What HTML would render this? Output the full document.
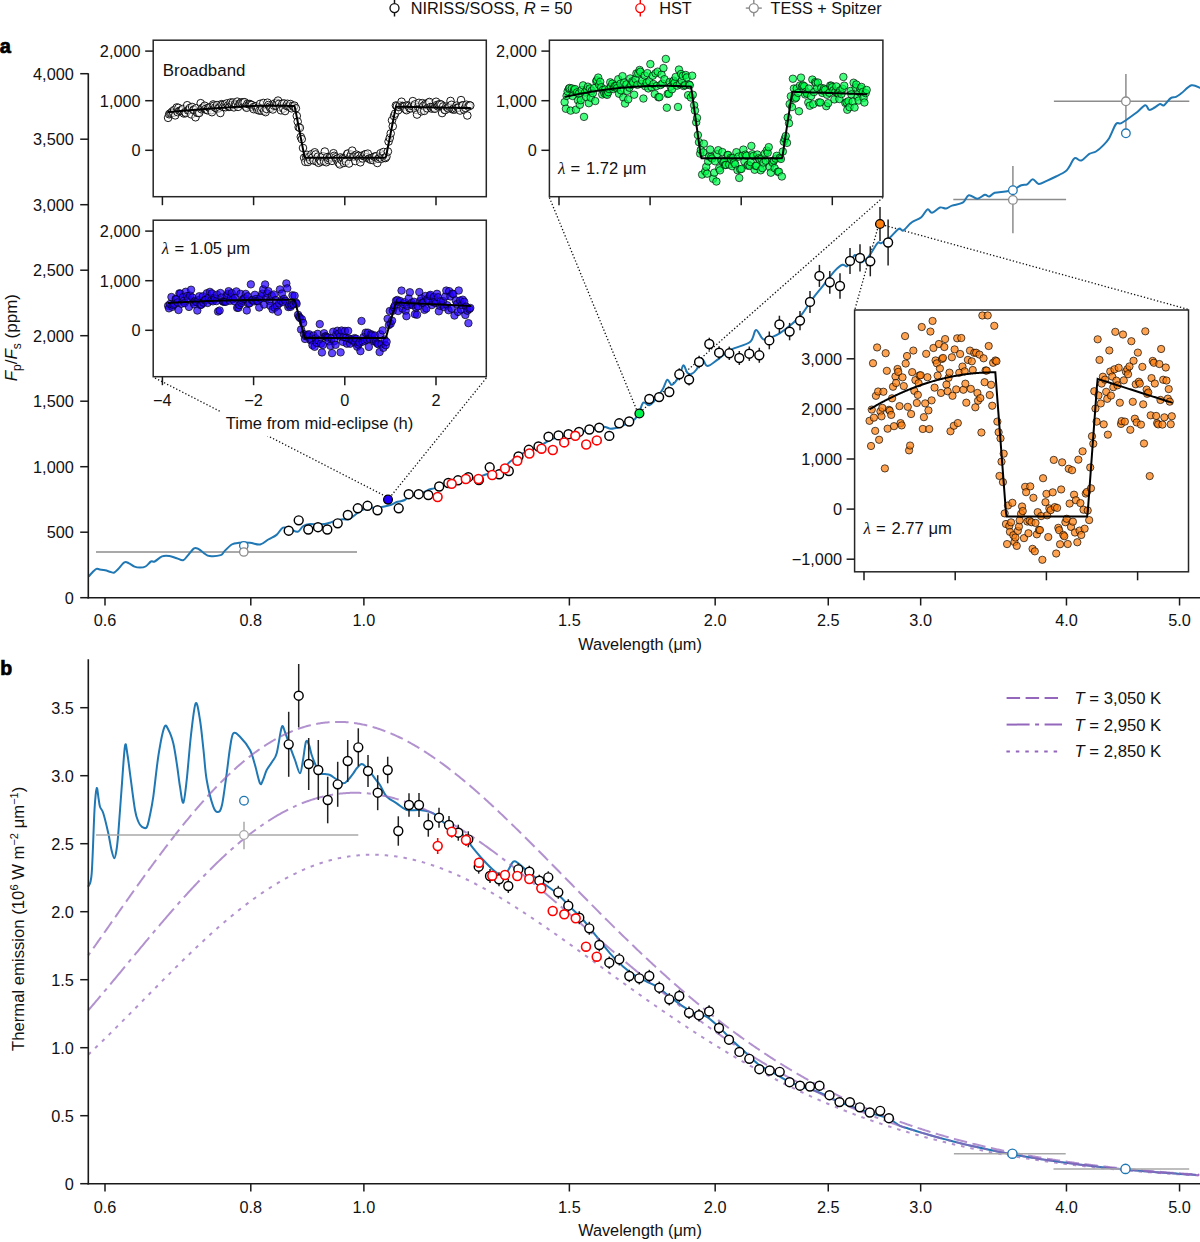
<!DOCTYPE html><html><head><meta charset="utf-8"><style>html,body{margin:0;padding:0;background:#fff;}svg{display:block;}</style></head><body><svg width="1200" height="1242" viewBox="0 0 1200 1242" font-family='"Liberation Sans", sans-serif'>
<rect width="1200" height="1242" fill="#fff"/>
<line x1="394.5" y1="-0.9" x2="394.5" y2="16.5" stroke="#111" stroke-width="1.45" />
<circle cx="394.5" cy="8.1" r="4.5" stroke="#111" fill="#fff" stroke-width="1.35" />
<text x="410.8" y="14.3" font-size="16.3" text-anchor="start" font-weight="normal" fill="#111" >NIRISS/SOSS, <tspan font-style="italic">R</tspan> = 50</text>
<line x1="640.3" y1="-0.9" x2="640.3" y2="16.5" stroke="#ff0000" stroke-width="1.45" />
<circle cx="640.3" cy="8.1" r="4.5" stroke="#ff0000" fill="#fff" stroke-width="1.35" />
<text x="659.2" y="14.3" font-size="16.3" text-anchor="start" font-weight="normal" fill="#111" >HST</text>
<line x1="753.8" y1="-0.9" x2="753.8" y2="16.5" stroke="#8c8c8c" stroke-width="1.45" />
<line x1="745.8" y1="8.1" x2="761.8" y2="8.1" stroke="#8c8c8c" stroke-width="1.45" />
<circle cx="753.8" cy="8.1" r="4.5" stroke="#8c8c8c" fill="#fff" stroke-width="1.35" />
<text x="770.5" y="14.3" font-size="16.2" text-anchor="start" font-weight="normal" fill="#111" >TESS + Spitzer</text>
<text x="-0.2" y="53.1" font-size="20" text-anchor="start" font-weight="bold" fill="#000" stroke="#000" stroke-width="0.7">a</text>
<text x="0.2" y="675.1" font-size="19.5" text-anchor="start" font-weight="bold" fill="#000" stroke="#000" stroke-width="0.7">b</text>
<line x1="155" y1="378" x2="386" y2="496.5" stroke="#111" stroke-width="1.3" stroke-dasharray="1.3 2.1"/>
<line x1="486.3" y1="378" x2="391" y2="496" stroke="#111" stroke-width="1.3" stroke-dasharray="1.3 2.1"/>
<line x1="549.4" y1="197.5" x2="636.5" y2="409.5" stroke="#111" stroke-width="1.3" stroke-dasharray="1.3 2.1"/>
<line x1="882.9" y1="197.5" x2="642.5" y2="410" stroke="#111" stroke-width="1.3" stroke-dasharray="1.3 2.1"/>
<line x1="877.5" y1="229" x2="855" y2="309" stroke="#111" stroke-width="1.3" stroke-dasharray="1.3 2.1"/>
<line x1="885" y1="225.5" x2="1188.5" y2="309.5" stroke="#111" stroke-width="1.3" stroke-dasharray="1.3 2.1"/>
<line x1="96" y1="552" x2="357" y2="552" stroke="#8c8c8c" stroke-width="1.5" />
<line x1="953.3" y1="199.6" x2="1066.1" y2="199.6" stroke="#8c8c8c" stroke-width="1.5" />
<line x1="1012.9" y1="166.1" x2="1012.9" y2="233.3" stroke="#8c8c8c" stroke-width="1.5" />
<line x1="1053.9" y1="101.3" x2="1189.3" y2="101.3" stroke="#8c8c8c" stroke-width="1.5" />
<line x1="1125.9" y1="73.9" x2="1125.9" y2="129.3" stroke="#8c8c8c" stroke-width="1.5" />
<path d="M88.7 576.5 C89.3 575.83 91.02 573.78 92.3 572.5 C93.58 571.22 95.17 569.32 96.4 568.8 C97.63 568.28 98.23 569.15 99.7 569.4 C101.17 569.65 103.37 569.87 105.2 570.3 C107.03 570.73 109.18 571.63 110.7 572 C112.22 572.37 113.08 572.97 114.3 572.5 C115.52 572.03 116.32 570.88 118 569.2 C119.68 567.52 122.57 563.38 124.4 562.4 C126.23 561.42 127.32 562.6 129 563.3 C130.68 564 132.67 565.88 134.5 566.6 C136.33 567.32 138.17 567.62 140 567.6 C141.83 567.58 143.67 567.52 145.5 566.5 C147.33 565.48 149.47 562.33 151 561.5 C152.53 560.67 152.87 562.35 154.7 561.5 C156.53 560.65 159.57 557.32 162 556.4 C164.43 555.48 166.85 555.7 169.3 556 C171.75 556.3 174.4 557.5 176.7 558.2 C179 558.9 181.27 560.63 183.1 560.2 C184.93 559.77 185.87 557.58 187.7 555.6 C189.53 553.62 192.27 549.37 194.1 548.3 C195.93 547.23 197.02 548.37 198.7 549.2 C200.38 550.03 202.37 552.17 204.2 553.3 C206.03 554.43 206.95 555.7 209.7 556 C212.45 556.3 218.27 555.87 220.7 555.1 C223.13 554.33 222.47 553.17 224.3 551.4 C226.13 549.63 229.25 545.93 231.7 544.5 C234.15 543.07 235.95 543.08 239 542.8 C242.05 542.52 246.48 542.52 250 542.8 C253.52 543.08 257.05 545.05 260.1 544.5 C263.15 543.95 265.55 541.1 268.3 539.5 C271.05 537.9 274.15 536.88 276.6 534.9 C279.05 532.92 280.72 528.57 283 527.6 C285.28 526.63 287.85 528.4 290.3 529.1 C292.75 529.8 295.53 532.32 297.7 531.8 C299.87 531.28 301.25 527.3 303.3 526 C305.35 524.7 307.72 524.25 310 524 C312.28 523.75 314.55 524.5 317 524.5 C319.45 524.5 322.53 524.3 324.7 524 C326.87 523.7 328.23 523.25 330 522.7 C331.77 522.15 333.08 521.27 335.3 520.7 C337.52 520.13 341.07 519.53 343.3 519.3 C345.53 519.07 346.7 520.07 348.7 519.3 C350.7 518.53 353.08 516.25 355.3 514.7 C357.52 513.15 359.55 511.12 362 510 C364.45 508.88 367.55 508.45 370 508 C372.45 507.55 374.48 507.52 376.7 507.3 C378.92 507.08 380.87 507.13 383.3 506.7 C385.73 506.27 389.07 505.48 391.3 504.7 C393.53 503.92 395.13 502.57 396.7 502 C398.27 501.43 399.37 501.63 400.7 501.3 C402.03 500.97 403.6 500.55 404.7 500 C405.8 499.45 405.58 498.83 407.3 498 C409.02 497.17 412.55 495.83 415 495 C417.45 494.17 419.5 493.95 422 493 C424.5 492.05 428 490.07 430 489.3 C432 488.53 432 488.95 434 488.4 C436 487.85 439.33 486.73 442 486 C444.67 485.27 447 484.83 450 484 C453 483.17 456.67 481.83 460 481 C463.33 480.17 467 479.67 470 479 C473 478.33 475.22 477.8 478 477 C480.78 476.2 483.87 475.03 486.7 474.2 C489.53 473.37 492.28 472.87 495 472 C497.72 471.13 500.5 470.72 503 469 C505.5 467.28 507.17 464.03 510 461.7 C512.83 459.37 516.67 456.95 520 455 C523.33 453.05 526.67 451.5 530 450 C533.33 448.5 536.67 447.67 540 446 C543.33 444.33 546.67 441.5 550 440 C553.33 438.5 556.67 438 560 437 C563.33 436 566.67 434.83 570 434 C573.33 433.17 576.67 432.67 580 432 C583.33 431.33 586.12 430.88 590 430 C593.88 429.12 599.83 426.92 603.3 426.7 C606.77 426.48 608.02 428.7 610.8 428.7 C613.58 428.7 617.13 427.65 620 426.7 C622.87 425.75 625.5 424.28 628 423 C630.5 421.72 633.12 420.83 635 419 C636.88 417.17 637.92 414.72 639.3 412 C640.68 409.28 641.63 403.82 643.3 402.7 C644.97 401.58 647.52 405.53 649.3 405.3 C651.08 405.07 651.77 403.97 654 401.3 C656.23 398.63 660.48 392.9 662.7 389.3 C664.92 385.7 665.75 380.47 667.3 379.7 C668.85 378.93 670 385.32 672 384.7 C674 384.08 677.42 379.23 679.3 376 C681.18 372.77 681.97 365.85 683.3 365.3 C684.63 364.75 685.97 371.25 687.3 372.7 C688.63 374.15 689.73 374.57 691.3 374 C692.87 373.43 694.92 371.85 696.7 369.3 C698.48 366.75 700.23 359.25 702 358.7 C703.77 358.15 704.63 365.9 707.3 366 C709.97 366.1 714 362.03 718 359.3 C722 356.57 725.97 352.48 731.3 349.6 C736.63 346.72 745.88 345.27 750 342 C754.12 338.73 753.78 330.45 756 330 C758.22 329.55 760.55 338.15 763.3 339.3 C766.05 340.45 769.72 337.93 772.5 336.9 C775.28 335.87 777.08 334.98 780 333.1 C782.92 331.22 786.45 328.62 790 325.6 C793.55 322.58 797.55 319.47 801.3 315 C805.05 310.53 808.97 303.58 812.5 298.8 C816.03 294.02 818.75 291 822.5 286.3 C826.25 281.6 831.67 274.18 835 270.6 C838.33 267.02 840.42 265.57 842.5 264.8 C844.58 264.03 845.42 267.63 847.5 266 C849.58 264.37 852.92 255.58 855 255 C857.08 254.42 857.7 262.28 860 262.5 C862.3 262.72 865.88 259.53 868.8 256.3 C871.72 253.07 875.42 245.3 877.5 243.1 C879.58 240.9 879.22 244.03 881.3 243.1 C883.38 242.17 887.08 239.88 890 237.5 C892.92 235.12 896.62 229.95 898.8 228.8 C900.98 227.65 901.23 231.43 903.1 230.6 C904.97 229.77 908.3 225.35 910 223.8 C911.7 222.25 911.42 222.38 913.3 221.3 C915.18 220.22 918.93 219.3 921.3 217.3 C923.67 215.3 925.72 210.05 927.5 209.3 C929.28 208.55 929.92 213.1 932 212.8 C934.08 212.5 937.65 208.22 940 207.5 C942.35 206.78 944.1 208.82 946.1 208.5 C948.1 208.18 949.23 206.57 952 205.6 C954.77 204.63 959.9 204.43 962.7 202.7 C965.5 200.97 966.37 195.87 968.8 195.2 C971.23 194.53 974.63 198.78 977.3 198.7 C979.97 198.62 982.8 195.07 984.8 194.7 C986.8 194.33 987.65 196.82 989.3 196.5 C990.95 196.18 992.03 193.63 994.7 192.8 C997.37 191.97 1002.28 191.98 1005.3 191.5 C1008.32 191.02 1010.13 190.93 1012.8 189.9 C1015.47 188.87 1018.9 186.23 1021.3 185.3 C1023.7 184.37 1025.28 185.32 1027.2 184.3 C1029.12 183.28 1030.88 179.25 1032.8 179.2 C1034.72 179.15 1036.38 183.73 1038.7 184 C1041.02 184.27 1043.82 182.05 1046.7 180.8 C1049.58 179.55 1052.9 178.05 1056 176.5 C1059.1 174.95 1063.08 173.13 1065.3 171.5 C1067.52 169.87 1067.73 168.93 1069.3 166.7 C1070.87 164.47 1072.7 159.13 1074.7 158.1 C1076.7 157.07 1078.87 161.2 1081.3 160.5 C1083.73 159.8 1086.85 155.4 1089.3 153.9 C1091.75 152.4 1093.77 152.83 1096 151.5 C1098.23 150.17 1100.48 148.17 1102.7 145.9 C1104.92 143.63 1107.08 141.55 1109.3 137.9 C1111.52 134.25 1114 126.45 1116 124 C1118 121.55 1118.85 124.4 1121.3 123.2 C1123.75 122 1128.03 118.67 1130.7 116.8 C1133.37 114.93 1134.87 113.92 1137.3 112 C1139.73 110.08 1143.3 105.65 1145.3 105.3 C1147.3 104.95 1147.73 109.53 1149.3 109.9 C1150.87 110.27 1152.92 108.48 1154.7 107.5 C1156.48 106.52 1158.45 104.37 1160 104 C1161.55 103.63 1162.22 106.28 1164 105.3 C1165.78 104.32 1168.7 99.52 1170.7 98.1 C1172.7 96.68 1174.23 97.6 1176 96.8 C1177.77 96 1178.72 95.22 1181.3 93.3 C1183.88 91.38 1188.38 86.18 1191.5 85.3 C1194.62 84.42 1198.58 87.55 1200 88" fill="none" stroke="#1f77b4" stroke-width="2" stroke-linejoin="round"/>
<circle cx="243.8" cy="545.8" r="4.2" stroke="#1f77b4" fill="#fff" stroke-width="1.3" />
<circle cx="243.8" cy="552" r="4.2" stroke="#8c8c8c" fill="#fff" stroke-width="1.3" />
<circle cx="1012.9" cy="199.9" r="4.3" stroke="#8c8c8c" fill="#fff" stroke-width="1.3" />
<circle cx="1012.9" cy="190.2" r="4.3" stroke="#1f77b4" fill="#fff" stroke-width="1.3" />
<circle cx="1125.9" cy="101.3" r="4.3" stroke="#8c8c8c" fill="#fff" stroke-width="1.3" />
<circle cx="1125.9" cy="133.3" r="4.3" stroke="#1f77b4" fill="#fff" stroke-width="1.3" />
<line x1="649.3" y1="394.5" x2="649.3" y2="403.5" stroke="#222" stroke-width="1.5" />
<line x1="659.1" y1="392.1" x2="659.1" y2="402.1" stroke="#222" stroke-width="1.5" />
<line x1="669.3" y1="387" x2="669.3" y2="397" stroke="#222" stroke-width="1.5" />
<line x1="679.3" y1="368.3" x2="679.3" y2="380.3" stroke="#222" stroke-width="1.5" />
<line x1="689.1" y1="373.6" x2="689.1" y2="385.6" stroke="#222" stroke-width="1.5" />
<line x1="699.1" y1="355.8" x2="699.1" y2="368.2" stroke="#222" stroke-width="1.5" />
<line x1="709.3" y1="337.7" x2="709.3" y2="350.3" stroke="#222" stroke-width="1.5" />
<line x1="719.1" y1="346.2" x2="719.1" y2="359.2" stroke="#222" stroke-width="1.5" />
<line x1="729.3" y1="346.6" x2="729.3" y2="360" stroke="#222" stroke-width="1.5" />
<line x1="739.3" y1="351" x2="739.3" y2="365" stroke="#222" stroke-width="1.5" />
<line x1="749.3" y1="346.5" x2="749.3" y2="360.9" stroke="#222" stroke-width="1.5" />
<line x1="759.3" y1="347.8" x2="759.3" y2="362.8" stroke="#222" stroke-width="1.5" />
<line x1="769.3" y1="331.5" x2="769.3" y2="349.3" stroke="#222" stroke-width="1.5" />
<line x1="779.4" y1="315.7" x2="779.4" y2="333.1" stroke="#222" stroke-width="1.5" />
<line x1="789.6" y1="322.9" x2="789.6" y2="340.3" stroke="#222" stroke-width="1.5" />
<line x1="800" y1="311" x2="800" y2="330.2" stroke="#222" stroke-width="1.5" />
<line x1="810" y1="290.9" x2="810" y2="312.9" stroke="#222" stroke-width="1.5" />
<line x1="819.4" y1="264.9" x2="819.4" y2="286.9" stroke="#222" stroke-width="1.5" />
<line x1="829.8" y1="270.9" x2="829.8" y2="293.7" stroke="#222" stroke-width="1.5" />
<line x1="840" y1="273.2" x2="840" y2="298.8" stroke="#222" stroke-width="1.5" />
<line x1="850" y1="247.9" x2="850" y2="273.9" stroke="#222" stroke-width="1.5" />
<line x1="860" y1="244.2" x2="860" y2="271.6" stroke="#222" stroke-width="1.5" />
<line x1="870.3" y1="246.3" x2="870.3" y2="276.3" stroke="#222" stroke-width="1.5" />
<line x1="880" y1="207" x2="880" y2="241" stroke="#222" stroke-width="1.5" />
<line x1="888.1" y1="219.5" x2="888.1" y2="265.5" stroke="#222" stroke-width="1.5" />
<circle cx="288.7" cy="530.7" r="4.45" stroke="#000" fill="#fff" stroke-width="1.45" />
<circle cx="298.7" cy="520.3" r="4.45" stroke="#000" fill="#fff" stroke-width="1.45" />
<circle cx="308.3" cy="529.5" r="4.45" stroke="#000" fill="#fff" stroke-width="1.45" />
<circle cx="318" cy="527.2" r="4.45" stroke="#000" fill="#fff" stroke-width="1.45" />
<circle cx="327.3" cy="529.5" r="4.45" stroke="#000" fill="#fff" stroke-width="1.45" />
<circle cx="337.7" cy="523.3" r="4.45" stroke="#000" fill="#fff" stroke-width="1.45" />
<circle cx="347.8" cy="515" r="4.45" stroke="#000" fill="#fff" stroke-width="1.45" />
<circle cx="357.8" cy="508.3" r="4.45" stroke="#000" fill="#fff" stroke-width="1.45" />
<circle cx="367.5" cy="505.8" r="4.45" stroke="#000" fill="#fff" stroke-width="1.45" />
<circle cx="377.5" cy="510.3" r="4.45" stroke="#000" fill="#fff" stroke-width="1.45" />
<circle cx="388" cy="499.6" r="4.4" stroke="#000" fill="#2200ff" stroke-width="1.3" />
<circle cx="398.7" cy="508.3" r="4.45" stroke="#000" fill="#fff" stroke-width="1.45" />
<circle cx="408.7" cy="494.2" r="4.45" stroke="#000" fill="#fff" stroke-width="1.45" />
<circle cx="418.7" cy="494.2" r="4.45" stroke="#000" fill="#fff" stroke-width="1.45" />
<circle cx="428.3" cy="495" r="4.45" stroke="#000" fill="#fff" stroke-width="1.45" />
<circle cx="439.2" cy="486.5" r="4.45" stroke="#000" fill="#fff" stroke-width="1.45" />
<circle cx="448.3" cy="483" r="4.45" stroke="#000" fill="#fff" stroke-width="1.45" />
<circle cx="458" cy="480.3" r="4.45" stroke="#000" fill="#fff" stroke-width="1.45" />
<circle cx="468.3" cy="477.2" r="4.45" stroke="#000" fill="#fff" stroke-width="1.45" />
<circle cx="478.9" cy="480" r="4.45" stroke="#000" fill="#fff" stroke-width="1.45" />
<circle cx="489.7" cy="467.3" r="4.45" stroke="#000" fill="#fff" stroke-width="1.45" />
<circle cx="499.2" cy="474.3" r="4.45" stroke="#000" fill="#fff" stroke-width="1.45" />
<circle cx="508.8" cy="471" r="4.45" stroke="#000" fill="#fff" stroke-width="1.45" />
<circle cx="518.5" cy="456.5" r="4.45" stroke="#000" fill="#fff" stroke-width="1.45" />
<circle cx="528.8" cy="449.8" r="4.45" stroke="#000" fill="#fff" stroke-width="1.45" />
<circle cx="538.5" cy="446.5" r="4.45" stroke="#000" fill="#fff" stroke-width="1.45" />
<circle cx="548.5" cy="436.7" r="4.45" stroke="#000" fill="#fff" stroke-width="1.45" />
<circle cx="558.5" cy="435.4" r="4.45" stroke="#000" fill="#fff" stroke-width="1.45" />
<circle cx="568.5" cy="434.2" r="4.45" stroke="#000" fill="#fff" stroke-width="1.45" />
<circle cx="579" cy="431.9" r="4.45" stroke="#000" fill="#fff" stroke-width="1.45" />
<circle cx="589.4" cy="429.5" r="4.45" stroke="#000" fill="#fff" stroke-width="1.45" />
<circle cx="599.2" cy="427.6" r="4.45" stroke="#000" fill="#fff" stroke-width="1.45" />
<circle cx="609.3" cy="435.9" r="4.45" stroke="#000" fill="#fff" stroke-width="1.45" />
<circle cx="619.2" cy="423.3" r="4.45" stroke="#000" fill="#fff" stroke-width="1.45" />
<circle cx="629.2" cy="421.5" r="4.45" stroke="#000" fill="#fff" stroke-width="1.45" />
<circle cx="639.4" cy="413.5" r="4.4" stroke="#000" fill="#00f54c" stroke-width="1.3" />
<circle cx="649.3" cy="399" r="4.45" stroke="#000" fill="#fff" stroke-width="1.45" />
<circle cx="659.1" cy="397.1" r="4.45" stroke="#000" fill="#fff" stroke-width="1.45" />
<circle cx="669.3" cy="392" r="4.45" stroke="#000" fill="#fff" stroke-width="1.45" />
<circle cx="679.3" cy="374.3" r="4.45" stroke="#000" fill="#fff" stroke-width="1.45" />
<circle cx="689.1" cy="379.6" r="4.45" stroke="#000" fill="#fff" stroke-width="1.45" />
<circle cx="699.1" cy="362" r="4.45" stroke="#000" fill="#fff" stroke-width="1.45" />
<circle cx="709.3" cy="344" r="4.45" stroke="#000" fill="#fff" stroke-width="1.45" />
<circle cx="719.1" cy="352.7" r="4.45" stroke="#000" fill="#fff" stroke-width="1.45" />
<circle cx="729.3" cy="353.3" r="4.45" stroke="#000" fill="#fff" stroke-width="1.45" />
<circle cx="739.3" cy="358" r="4.45" stroke="#000" fill="#fff" stroke-width="1.45" />
<circle cx="749.3" cy="353.7" r="4.45" stroke="#000" fill="#fff" stroke-width="1.45" />
<circle cx="759.3" cy="355.3" r="4.45" stroke="#000" fill="#fff" stroke-width="1.45" />
<circle cx="769.3" cy="340.4" r="4.45" stroke="#000" fill="#fff" stroke-width="1.45" />
<circle cx="779.4" cy="324.4" r="4.45" stroke="#000" fill="#fff" stroke-width="1.45" />
<circle cx="789.6" cy="331.6" r="4.45" stroke="#000" fill="#fff" stroke-width="1.45" />
<circle cx="800" cy="320.6" r="4.45" stroke="#000" fill="#fff" stroke-width="1.45" />
<circle cx="810" cy="301.9" r="4.45" stroke="#000" fill="#fff" stroke-width="1.45" />
<circle cx="819.4" cy="275.9" r="4.45" stroke="#000" fill="#fff" stroke-width="1.45" />
<circle cx="829.8" cy="282.3" r="4.45" stroke="#000" fill="#fff" stroke-width="1.45" />
<circle cx="840" cy="286" r="4.45" stroke="#000" fill="#fff" stroke-width="1.45" />
<circle cx="850" cy="260.9" r="4.45" stroke="#000" fill="#fff" stroke-width="1.45" />
<circle cx="860" cy="257.9" r="4.45" stroke="#000" fill="#fff" stroke-width="1.45" />
<circle cx="870.3" cy="261.3" r="4.45" stroke="#000" fill="#fff" stroke-width="1.45" />
<circle cx="880" cy="224" r="4.4" stroke="#000" fill="#ff7f0e" stroke-width="1.3" />
<circle cx="888.1" cy="242.5" r="4.45" stroke="#000" fill="#fff" stroke-width="1.45" />
<circle cx="437.6" cy="497" r="4.45" stroke="#ff0000" fill="#fff" stroke-width="1.6" />
<circle cx="451.7" cy="483.8" r="4.45" stroke="#ff0000" fill="#fff" stroke-width="1.6" />
<circle cx="465.8" cy="479" r="4.45" stroke="#ff0000" fill="#fff" stroke-width="1.6" />
<circle cx="478.5" cy="479" r="4.45" stroke="#ff0000" fill="#fff" stroke-width="1.6" />
<circle cx="492.2" cy="475" r="4.45" stroke="#ff0000" fill="#fff" stroke-width="1.6" />
<circle cx="505" cy="468.5" r="4.45" stroke="#ff0000" fill="#fff" stroke-width="1.6" />
<circle cx="517.3" cy="460.8" r="4.45" stroke="#ff0000" fill="#fff" stroke-width="1.6" />
<circle cx="529.4" cy="453.5" r="4.45" stroke="#ff0000" fill="#fff" stroke-width="1.6" />
<circle cx="541.5" cy="448.7" r="4.45" stroke="#ff0000" fill="#fff" stroke-width="1.6" />
<circle cx="552.8" cy="450" r="4.45" stroke="#ff0000" fill="#fff" stroke-width="1.6" />
<circle cx="564.2" cy="442.4" r="4.45" stroke="#ff0000" fill="#fff" stroke-width="1.6" />
<circle cx="575.3" cy="435.8" r="4.45" stroke="#ff0000" fill="#fff" stroke-width="1.6" />
<circle cx="586.2" cy="444.5" r="4.45" stroke="#ff0000" fill="#fff" stroke-width="1.6" />
<circle cx="596.8" cy="440.4" r="4.45" stroke="#ff0000" fill="#fff" stroke-width="1.6" />
<line x1="88.3" y1="73.3" x2="88.3" y2="598.4" stroke="#1a1a1a" stroke-width="1.6" />
<line x1="87.5" y1="597.7" x2="1200" y2="597.7" stroke="#1a1a1a" stroke-width="1.6" />
<line x1="80.2" y1="597.7" x2="88.3" y2="597.7" stroke="#1a1a1a" stroke-width="1.5" />
<text x="73.8" y="603.5" font-size="16.3" text-anchor="end" font-weight="normal" fill="#111" >0</text>
<line x1="80.2" y1="532.2" x2="88.3" y2="532.2" stroke="#1a1a1a" stroke-width="1.5" />
<text x="73.8" y="538" font-size="16.3" text-anchor="end" font-weight="normal" fill="#111" >500</text>
<line x1="80.2" y1="466.7" x2="88.3" y2="466.7" stroke="#1a1a1a" stroke-width="1.5" />
<text x="73.8" y="472.5" font-size="16.3" text-anchor="end" font-weight="normal" fill="#111" >1,000</text>
<line x1="80.2" y1="401.2" x2="88.3" y2="401.2" stroke="#1a1a1a" stroke-width="1.5" />
<text x="73.8" y="407" font-size="16.3" text-anchor="end" font-weight="normal" fill="#111" >1,500</text>
<line x1="80.2" y1="335.7" x2="88.3" y2="335.7" stroke="#1a1a1a" stroke-width="1.5" />
<text x="73.8" y="341.5" font-size="16.3" text-anchor="end" font-weight="normal" fill="#111" >2,000</text>
<line x1="80.2" y1="270.2" x2="88.3" y2="270.2" stroke="#1a1a1a" stroke-width="1.5" />
<text x="73.8" y="276" font-size="16.3" text-anchor="end" font-weight="normal" fill="#111" >2,500</text>
<line x1="80.2" y1="204.7" x2="88.3" y2="204.7" stroke="#1a1a1a" stroke-width="1.5" />
<text x="73.8" y="210.5" font-size="16.3" text-anchor="end" font-weight="normal" fill="#111" >3,000</text>
<line x1="80.2" y1="139.2" x2="88.3" y2="139.2" stroke="#1a1a1a" stroke-width="1.5" />
<text x="73.8" y="145" font-size="16.3" text-anchor="end" font-weight="normal" fill="#111" >3,500</text>
<line x1="80.2" y1="73.7" x2="88.3" y2="73.7" stroke="#1a1a1a" stroke-width="1.5" />
<text x="73.8" y="79.5" font-size="16.3" text-anchor="end" font-weight="normal" fill="#111" >4,000</text>
<line x1="105" y1="597.7" x2="105" y2="605.5" stroke="#1a1a1a" stroke-width="1.5" />
<text x="105" y="625.8" font-size="16.3" text-anchor="middle" font-weight="normal" fill="#111" >0.6</text>
<line x1="250.8" y1="597.7" x2="250.8" y2="605.5" stroke="#1a1a1a" stroke-width="1.5" />
<text x="250.8" y="625.8" font-size="16.3" text-anchor="middle" font-weight="normal" fill="#111" >0.8</text>
<line x1="363.89" y1="597.7" x2="363.89" y2="605.5" stroke="#1a1a1a" stroke-width="1.5" />
<text x="363.89" y="625.8" font-size="16.3" text-anchor="middle" font-weight="normal" fill="#111" >1.0</text>
<line x1="569.38" y1="597.7" x2="569.38" y2="605.5" stroke="#1a1a1a" stroke-width="1.5" />
<text x="569.38" y="625.8" font-size="16.3" text-anchor="middle" font-weight="normal" fill="#111" >1.5</text>
<line x1="715.17" y1="597.7" x2="715.17" y2="605.5" stroke="#1a1a1a" stroke-width="1.5" />
<text x="715.17" y="625.8" font-size="16.3" text-anchor="middle" font-weight="normal" fill="#111" >2.0</text>
<line x1="828.26" y1="597.7" x2="828.26" y2="605.5" stroke="#1a1a1a" stroke-width="1.5" />
<text x="828.26" y="625.8" font-size="16.3" text-anchor="middle" font-weight="normal" fill="#111" >2.5</text>
<line x1="920.66" y1="597.7" x2="920.66" y2="605.5" stroke="#1a1a1a" stroke-width="1.5" />
<text x="920.66" y="625.8" font-size="16.3" text-anchor="middle" font-weight="normal" fill="#111" >3.0</text>
<line x1="1066.46" y1="597.7" x2="1066.46" y2="605.5" stroke="#1a1a1a" stroke-width="1.5" />
<text x="1066.46" y="625.8" font-size="16.3" text-anchor="middle" font-weight="normal" fill="#111" >4.0</text>
<line x1="1179.55" y1="597.7" x2="1179.55" y2="605.5" stroke="#1a1a1a" stroke-width="1.5" />
<text x="1179.55" y="625.8" font-size="16.3" text-anchor="middle" font-weight="normal" fill="#111" >5.0</text>
<text x="640" y="649.6" font-size="16.3" text-anchor="middle" font-weight="normal" fill="#111" >Wavelength (μm)</text>
<text transform="translate(16.6,337.7) rotate(-90)" font-size="17" text-anchor="middle" fill="#111"><tspan font-style="italic">F</tspan><tspan font-size="12" dy="4.5">p</tspan><tspan dy="-4.5">/</tspan><tspan font-style="italic">F</tspan><tspan font-size="12" dy="4.5">s</tspan><tspan dy="-4.5"> (ppm)</tspan></text>
<clipPath id="c11"><rect x="153.2" y="40.2" width="333.1" height="156.5"/></clipPath>
<rect x="153.2" y="40.2" width="333.1" height="156.5" fill="#fff"/>
<g clip-path="url(#c11)">
<circle cx="168.11" cy="117.85" r="3.8" fill="#fff" fill-opacity="0.6" stroke="#000" stroke-opacity="0.9" stroke-width="1.0"/>
<circle cx="169.16" cy="114.27" r="3.8" fill="#fff" fill-opacity="0.6" stroke="#000" stroke-opacity="0.9" stroke-width="1.0"/>
<circle cx="170.23" cy="113.39" r="3.8" fill="#fff" fill-opacity="0.6" stroke="#000" stroke-opacity="0.9" stroke-width="1.0"/>
<circle cx="171.28" cy="112.72" r="3.8" fill="#fff" fill-opacity="0.6" stroke="#000" stroke-opacity="0.9" stroke-width="1.0"/>
<circle cx="172.38" cy="111.39" r="3.8" fill="#fff" fill-opacity="0.6" stroke="#000" stroke-opacity="0.9" stroke-width="1.0"/>
<circle cx="173.26" cy="112.81" r="3.8" fill="#fff" fill-opacity="0.6" stroke="#000" stroke-opacity="0.9" stroke-width="1.0"/>
<circle cx="174.19" cy="110.02" r="3.8" fill="#fff" fill-opacity="0.6" stroke="#000" stroke-opacity="0.9" stroke-width="1.0"/>
<circle cx="175.21" cy="115.37" r="3.8" fill="#fff" fill-opacity="0.6" stroke="#000" stroke-opacity="0.9" stroke-width="1.0"/>
<circle cx="176.75" cy="107.46" r="3.8" fill="#fff" fill-opacity="0.6" stroke="#000" stroke-opacity="0.9" stroke-width="1.0"/>
<circle cx="177.6" cy="112.13" r="3.8" fill="#fff" fill-opacity="0.6" stroke="#000" stroke-opacity="0.9" stroke-width="1.0"/>
<circle cx="178.41" cy="107.86" r="3.8" fill="#fff" fill-opacity="0.6" stroke="#000" stroke-opacity="0.9" stroke-width="1.0"/>
<circle cx="179.41" cy="110.79" r="3.8" fill="#fff" fill-opacity="0.6" stroke="#000" stroke-opacity="0.9" stroke-width="1.0"/>
<circle cx="180.52" cy="110.98" r="3.8" fill="#fff" fill-opacity="0.6" stroke="#000" stroke-opacity="0.9" stroke-width="1.0"/>
<circle cx="181.71" cy="110.24" r="3.8" fill="#fff" fill-opacity="0.6" stroke="#000" stroke-opacity="0.9" stroke-width="1.0"/>
<circle cx="182.74" cy="109.01" r="3.8" fill="#fff" fill-opacity="0.6" stroke="#000" stroke-opacity="0.9" stroke-width="1.0"/>
<circle cx="183.89" cy="113.49" r="3.8" fill="#fff" fill-opacity="0.6" stroke="#000" stroke-opacity="0.9" stroke-width="1.0"/>
<circle cx="184.86" cy="112.22" r="3.8" fill="#fff" fill-opacity="0.6" stroke="#000" stroke-opacity="0.9" stroke-width="1.0"/>
<circle cx="185.79" cy="113.14" r="3.8" fill="#fff" fill-opacity="0.6" stroke="#000" stroke-opacity="0.9" stroke-width="1.0"/>
<circle cx="187.22" cy="105.23" r="3.8" fill="#fff" fill-opacity="0.6" stroke="#000" stroke-opacity="0.9" stroke-width="1.0"/>
<circle cx="188.11" cy="110.52" r="3.8" fill="#fff" fill-opacity="0.6" stroke="#000" stroke-opacity="0.9" stroke-width="1.0"/>
<circle cx="188.95" cy="110.02" r="3.8" fill="#fff" fill-opacity="0.6" stroke="#000" stroke-opacity="0.9" stroke-width="1.0"/>
<circle cx="189.87" cy="107.99" r="3.8" fill="#fff" fill-opacity="0.6" stroke="#000" stroke-opacity="0.9" stroke-width="1.0"/>
<circle cx="191.28" cy="114.39" r="3.8" fill="#fff" fill-opacity="0.6" stroke="#000" stroke-opacity="0.9" stroke-width="1.0"/>
<circle cx="192.12" cy="106.95" r="3.8" fill="#fff" fill-opacity="0.6" stroke="#000" stroke-opacity="0.9" stroke-width="1.0"/>
<circle cx="193.47" cy="109.88" r="3.8" fill="#fff" fill-opacity="0.6" stroke="#000" stroke-opacity="0.9" stroke-width="1.0"/>
<circle cx="194.12" cy="109.95" r="3.8" fill="#fff" fill-opacity="0.6" stroke="#000" stroke-opacity="0.9" stroke-width="1.0"/>
<circle cx="195.53" cy="117.27" r="3.8" fill="#fff" fill-opacity="0.6" stroke="#000" stroke-opacity="0.9" stroke-width="1.0"/>
<circle cx="196.31" cy="108.25" r="3.8" fill="#fff" fill-opacity="0.6" stroke="#000" stroke-opacity="0.9" stroke-width="1.0"/>
<circle cx="197.19" cy="112.86" r="3.8" fill="#fff" fill-opacity="0.6" stroke="#000" stroke-opacity="0.9" stroke-width="1.0"/>
<circle cx="198.34" cy="112.95" r="3.8" fill="#fff" fill-opacity="0.6" stroke="#000" stroke-opacity="0.9" stroke-width="1.0"/>
<circle cx="199.29" cy="112.91" r="3.8" fill="#fff" fill-opacity="0.6" stroke="#000" stroke-opacity="0.9" stroke-width="1.0"/>
<circle cx="200.68" cy="103.18" r="3.8" fill="#fff" fill-opacity="0.6" stroke="#000" stroke-opacity="0.9" stroke-width="1.0"/>
<circle cx="201.39" cy="109.2" r="3.8" fill="#fff" fill-opacity="0.6" stroke="#000" stroke-opacity="0.9" stroke-width="1.0"/>
<circle cx="202.41" cy="107.87" r="3.8" fill="#fff" fill-opacity="0.6" stroke="#000" stroke-opacity="0.9" stroke-width="1.0"/>
<circle cx="203.84" cy="107.45" r="3.8" fill="#fff" fill-opacity="0.6" stroke="#000" stroke-opacity="0.9" stroke-width="1.0"/>
<circle cx="204.7" cy="105.75" r="3.8" fill="#fff" fill-opacity="0.6" stroke="#000" stroke-opacity="0.9" stroke-width="1.0"/>
<circle cx="205.62" cy="108.95" r="3.8" fill="#fff" fill-opacity="0.6" stroke="#000" stroke-opacity="0.9" stroke-width="1.0"/>
<circle cx="206.9" cy="110.07" r="3.8" fill="#fff" fill-opacity="0.6" stroke="#000" stroke-opacity="0.9" stroke-width="1.0"/>
<circle cx="207.67" cy="110.2" r="3.8" fill="#fff" fill-opacity="0.6" stroke="#000" stroke-opacity="0.9" stroke-width="1.0"/>
<circle cx="208.79" cy="107.5" r="3.8" fill="#fff" fill-opacity="0.6" stroke="#000" stroke-opacity="0.9" stroke-width="1.0"/>
<circle cx="210.21" cy="107.44" r="3.8" fill="#fff" fill-opacity="0.6" stroke="#000" stroke-opacity="0.9" stroke-width="1.0"/>
<circle cx="211.21" cy="110.25" r="3.8" fill="#fff" fill-opacity="0.6" stroke="#000" stroke-opacity="0.9" stroke-width="1.0"/>
<circle cx="211.9" cy="112.17" r="3.8" fill="#fff" fill-opacity="0.6" stroke="#000" stroke-opacity="0.9" stroke-width="1.0"/>
<circle cx="213.17" cy="104.45" r="3.8" fill="#fff" fill-opacity="0.6" stroke="#000" stroke-opacity="0.9" stroke-width="1.0"/>
<circle cx="213.93" cy="105.74" r="3.8" fill="#fff" fill-opacity="0.6" stroke="#000" stroke-opacity="0.9" stroke-width="1.0"/>
<circle cx="215.06" cy="107.56" r="3.8" fill="#fff" fill-opacity="0.6" stroke="#000" stroke-opacity="0.9" stroke-width="1.0"/>
<circle cx="216.38" cy="108.28" r="3.8" fill="#fff" fill-opacity="0.6" stroke="#000" stroke-opacity="0.9" stroke-width="1.0"/>
<circle cx="217.06" cy="105.05" r="3.8" fill="#fff" fill-opacity="0.6" stroke="#000" stroke-opacity="0.9" stroke-width="1.0"/>
<circle cx="218.11" cy="108.63" r="3.8" fill="#fff" fill-opacity="0.6" stroke="#000" stroke-opacity="0.9" stroke-width="1.0"/>
<circle cx="219.42" cy="107.61" r="3.8" fill="#fff" fill-opacity="0.6" stroke="#000" stroke-opacity="0.9" stroke-width="1.0"/>
<circle cx="220.35" cy="113.01" r="3.8" fill="#fff" fill-opacity="0.6" stroke="#000" stroke-opacity="0.9" stroke-width="1.0"/>
<circle cx="221.45" cy="104.18" r="3.8" fill="#fff" fill-opacity="0.6" stroke="#000" stroke-opacity="0.9" stroke-width="1.0"/>
<circle cx="222.55" cy="104.79" r="3.8" fill="#fff" fill-opacity="0.6" stroke="#000" stroke-opacity="0.9" stroke-width="1.0"/>
<circle cx="223.37" cy="107.07" r="3.8" fill="#fff" fill-opacity="0.6" stroke="#000" stroke-opacity="0.9" stroke-width="1.0"/>
<circle cx="224.81" cy="104.63" r="3.8" fill="#fff" fill-opacity="0.6" stroke="#000" stroke-opacity="0.9" stroke-width="1.0"/>
<circle cx="225.48" cy="107.23" r="3.8" fill="#fff" fill-opacity="0.6" stroke="#000" stroke-opacity="0.9" stroke-width="1.0"/>
<circle cx="226.82" cy="103.41" r="3.8" fill="#fff" fill-opacity="0.6" stroke="#000" stroke-opacity="0.9" stroke-width="1.0"/>
<circle cx="227.97" cy="105.54" r="3.8" fill="#fff" fill-opacity="0.6" stroke="#000" stroke-opacity="0.9" stroke-width="1.0"/>
<circle cx="228.98" cy="106.98" r="3.8" fill="#fff" fill-opacity="0.6" stroke="#000" stroke-opacity="0.9" stroke-width="1.0"/>
<circle cx="229.62" cy="106.33" r="3.8" fill="#fff" fill-opacity="0.6" stroke="#000" stroke-opacity="0.9" stroke-width="1.0"/>
<circle cx="230.63" cy="102.5" r="3.8" fill="#fff" fill-opacity="0.6" stroke="#000" stroke-opacity="0.9" stroke-width="1.0"/>
<circle cx="232.03" cy="104.74" r="3.8" fill="#fff" fill-opacity="0.6" stroke="#000" stroke-opacity="0.9" stroke-width="1.0"/>
<circle cx="232.84" cy="102.53" r="3.8" fill="#fff" fill-opacity="0.6" stroke="#000" stroke-opacity="0.9" stroke-width="1.0"/>
<circle cx="233.9" cy="107.36" r="3.8" fill="#fff" fill-opacity="0.6" stroke="#000" stroke-opacity="0.9" stroke-width="1.0"/>
<circle cx="234.89" cy="104.19" r="3.8" fill="#fff" fill-opacity="0.6" stroke="#000" stroke-opacity="0.9" stroke-width="1.0"/>
<circle cx="235.96" cy="104.94" r="3.8" fill="#fff" fill-opacity="0.6" stroke="#000" stroke-opacity="0.9" stroke-width="1.0"/>
<circle cx="237.18" cy="101.63" r="3.8" fill="#fff" fill-opacity="0.6" stroke="#000" stroke-opacity="0.9" stroke-width="1.0"/>
<circle cx="238.08" cy="106.88" r="3.8" fill="#fff" fill-opacity="0.6" stroke="#000" stroke-opacity="0.9" stroke-width="1.0"/>
<circle cx="239.46" cy="103.73" r="3.8" fill="#fff" fill-opacity="0.6" stroke="#000" stroke-opacity="0.9" stroke-width="1.0"/>
<circle cx="240.16" cy="103.4" r="3.8" fill="#fff" fill-opacity="0.6" stroke="#000" stroke-opacity="0.9" stroke-width="1.0"/>
<circle cx="241.3" cy="102.34" r="3.8" fill="#fff" fill-opacity="0.6" stroke="#000" stroke-opacity="0.9" stroke-width="1.0"/>
<circle cx="242.31" cy="103.33" r="3.8" fill="#fff" fill-opacity="0.6" stroke="#000" stroke-opacity="0.9" stroke-width="1.0"/>
<circle cx="243.46" cy="102.28" r="3.8" fill="#fff" fill-opacity="0.6" stroke="#000" stroke-opacity="0.9" stroke-width="1.0"/>
<circle cx="244.67" cy="102.21" r="3.8" fill="#fff" fill-opacity="0.6" stroke="#000" stroke-opacity="0.9" stroke-width="1.0"/>
<circle cx="245.76" cy="106.51" r="3.8" fill="#fff" fill-opacity="0.6" stroke="#000" stroke-opacity="0.9" stroke-width="1.0"/>
<circle cx="246.6" cy="107.76" r="3.8" fill="#fff" fill-opacity="0.6" stroke="#000" stroke-opacity="0.9" stroke-width="1.0"/>
<circle cx="247.42" cy="103.83" r="3.8" fill="#fff" fill-opacity="0.6" stroke="#000" stroke-opacity="0.9" stroke-width="1.0"/>
<circle cx="248.86" cy="104.36" r="3.8" fill="#fff" fill-opacity="0.6" stroke="#000" stroke-opacity="0.9" stroke-width="1.0"/>
<circle cx="249.8" cy="104" r="3.8" fill="#fff" fill-opacity="0.6" stroke="#000" stroke-opacity="0.9" stroke-width="1.0"/>
<circle cx="250.81" cy="104.77" r="3.8" fill="#fff" fill-opacity="0.6" stroke="#000" stroke-opacity="0.9" stroke-width="1.0"/>
<circle cx="251.78" cy="105.02" r="3.8" fill="#fff" fill-opacity="0.6" stroke="#000" stroke-opacity="0.9" stroke-width="1.0"/>
<circle cx="253.09" cy="107.21" r="3.8" fill="#fff" fill-opacity="0.6" stroke="#000" stroke-opacity="0.9" stroke-width="1.0"/>
<circle cx="253.66" cy="109.15" r="3.8" fill="#fff" fill-opacity="0.6" stroke="#000" stroke-opacity="0.9" stroke-width="1.0"/>
<circle cx="255.13" cy="106.26" r="3.8" fill="#fff" fill-opacity="0.6" stroke="#000" stroke-opacity="0.9" stroke-width="1.0"/>
<circle cx="256.09" cy="106.43" r="3.8" fill="#fff" fill-opacity="0.6" stroke="#000" stroke-opacity="0.9" stroke-width="1.0"/>
<circle cx="257.23" cy="109.75" r="3.8" fill="#fff" fill-opacity="0.6" stroke="#000" stroke-opacity="0.9" stroke-width="1.0"/>
<circle cx="257.98" cy="107.48" r="3.8" fill="#fff" fill-opacity="0.6" stroke="#000" stroke-opacity="0.9" stroke-width="1.0"/>
<circle cx="259.3" cy="110.6" r="3.8" fill="#fff" fill-opacity="0.6" stroke="#000" stroke-opacity="0.9" stroke-width="1.0"/>
<circle cx="260.11" cy="103.88" r="3.8" fill="#fff" fill-opacity="0.6" stroke="#000" stroke-opacity="0.9" stroke-width="1.0"/>
<circle cx="261.23" cy="110.56" r="3.8" fill="#fff" fill-opacity="0.6" stroke="#000" stroke-opacity="0.9" stroke-width="1.0"/>
<circle cx="262.31" cy="107.99" r="3.8" fill="#fff" fill-opacity="0.6" stroke="#000" stroke-opacity="0.9" stroke-width="1.0"/>
<circle cx="263.34" cy="102.95" r="3.8" fill="#fff" fill-opacity="0.6" stroke="#000" stroke-opacity="0.9" stroke-width="1.0"/>
<circle cx="264.11" cy="110.95" r="3.8" fill="#fff" fill-opacity="0.6" stroke="#000" stroke-opacity="0.9" stroke-width="1.0"/>
<circle cx="265.58" cy="112.13" r="3.8" fill="#fff" fill-opacity="0.6" stroke="#000" stroke-opacity="0.9" stroke-width="1.0"/>
<circle cx="266.54" cy="108.93" r="3.8" fill="#fff" fill-opacity="0.6" stroke="#000" stroke-opacity="0.9" stroke-width="1.0"/>
<circle cx="267.51" cy="102.7" r="3.8" fill="#fff" fill-opacity="0.6" stroke="#000" stroke-opacity="0.9" stroke-width="1.0"/>
<circle cx="268.49" cy="105" r="3.8" fill="#fff" fill-opacity="0.6" stroke="#000" stroke-opacity="0.9" stroke-width="1.0"/>
<circle cx="269.69" cy="106.6" r="3.8" fill="#fff" fill-opacity="0.6" stroke="#000" stroke-opacity="0.9" stroke-width="1.0"/>
<circle cx="270.36" cy="108.16" r="3.8" fill="#fff" fill-opacity="0.6" stroke="#000" stroke-opacity="0.9" stroke-width="1.0"/>
<circle cx="271.51" cy="107.53" r="3.8" fill="#fff" fill-opacity="0.6" stroke="#000" stroke-opacity="0.9" stroke-width="1.0"/>
<circle cx="272.8" cy="109.47" r="3.8" fill="#fff" fill-opacity="0.6" stroke="#000" stroke-opacity="0.9" stroke-width="1.0"/>
<circle cx="273.96" cy="105.66" r="3.8" fill="#fff" fill-opacity="0.6" stroke="#000" stroke-opacity="0.9" stroke-width="1.0"/>
<circle cx="274.66" cy="103.43" r="3.8" fill="#fff" fill-opacity="0.6" stroke="#000" stroke-opacity="0.9" stroke-width="1.0"/>
<circle cx="275.93" cy="105.59" r="3.8" fill="#fff" fill-opacity="0.6" stroke="#000" stroke-opacity="0.9" stroke-width="1.0"/>
<circle cx="276.73" cy="102.9" r="3.8" fill="#fff" fill-opacity="0.6" stroke="#000" stroke-opacity="0.9" stroke-width="1.0"/>
<circle cx="278.01" cy="100.59" r="3.8" fill="#fff" fill-opacity="0.6" stroke="#000" stroke-opacity="0.9" stroke-width="1.0"/>
<circle cx="278.94" cy="103.9" r="3.8" fill="#fff" fill-opacity="0.6" stroke="#000" stroke-opacity="0.9" stroke-width="1.0"/>
<circle cx="280.11" cy="107.33" r="3.8" fill="#fff" fill-opacity="0.6" stroke="#000" stroke-opacity="0.9" stroke-width="1.0"/>
<circle cx="280.91" cy="110.29" r="3.8" fill="#fff" fill-opacity="0.6" stroke="#000" stroke-opacity="0.9" stroke-width="1.0"/>
<circle cx="282.33" cy="103.75" r="3.8" fill="#fff" fill-opacity="0.6" stroke="#000" stroke-opacity="0.9" stroke-width="1.0"/>
<circle cx="283.35" cy="108.53" r="3.8" fill="#fff" fill-opacity="0.6" stroke="#000" stroke-opacity="0.9" stroke-width="1.0"/>
<circle cx="284.11" cy="103.45" r="3.8" fill="#fff" fill-opacity="0.6" stroke="#000" stroke-opacity="0.9" stroke-width="1.0"/>
<circle cx="285.06" cy="111.05" r="3.8" fill="#fff" fill-opacity="0.6" stroke="#000" stroke-opacity="0.9" stroke-width="1.0"/>
<circle cx="286.47" cy="105.75" r="3.8" fill="#fff" fill-opacity="0.6" stroke="#000" stroke-opacity="0.9" stroke-width="1.0"/>
<circle cx="287.45" cy="103.79" r="3.8" fill="#fff" fill-opacity="0.6" stroke="#000" stroke-opacity="0.9" stroke-width="1.0"/>
<circle cx="288.21" cy="106.56" r="3.8" fill="#fff" fill-opacity="0.6" stroke="#000" stroke-opacity="0.9" stroke-width="1.0"/>
<circle cx="289.4" cy="106.19" r="3.8" fill="#fff" fill-opacity="0.6" stroke="#000" stroke-opacity="0.9" stroke-width="1.0"/>
<circle cx="290.43" cy="104.03" r="3.8" fill="#fff" fill-opacity="0.6" stroke="#000" stroke-opacity="0.9" stroke-width="1.0"/>
<circle cx="291.59" cy="108.28" r="3.8" fill="#fff" fill-opacity="0.6" stroke="#000" stroke-opacity="0.9" stroke-width="1.0"/>
<circle cx="292.74" cy="105.83" r="3.8" fill="#fff" fill-opacity="0.6" stroke="#000" stroke-opacity="0.9" stroke-width="1.0"/>
<circle cx="293.86" cy="106.96" r="3.8" fill="#fff" fill-opacity="0.6" stroke="#000" stroke-opacity="0.9" stroke-width="1.0"/>
<circle cx="294.41" cy="105.62" r="3.8" fill="#fff" fill-opacity="0.6" stroke="#000" stroke-opacity="0.9" stroke-width="1.0"/>
<circle cx="295.9" cy="108.3" r="3.8" fill="#fff" fill-opacity="0.6" stroke="#000" stroke-opacity="0.9" stroke-width="1.0"/>
<circle cx="296.79" cy="115.91" r="3.8" fill="#fff" fill-opacity="0.6" stroke="#000" stroke-opacity="0.9" stroke-width="1.0"/>
<circle cx="297.69" cy="121.57" r="3.8" fill="#fff" fill-opacity="0.6" stroke="#000" stroke-opacity="0.9" stroke-width="1.0"/>
<circle cx="298.65" cy="127.16" r="3.8" fill="#fff" fill-opacity="0.6" stroke="#000" stroke-opacity="0.9" stroke-width="1.0"/>
<circle cx="299.86" cy="127.83" r="3.8" fill="#fff" fill-opacity="0.6" stroke="#000" stroke-opacity="0.9" stroke-width="1.0"/>
<circle cx="300.79" cy="136.92" r="3.8" fill="#fff" fill-opacity="0.6" stroke="#000" stroke-opacity="0.9" stroke-width="1.0"/>
<circle cx="301.79" cy="139.18" r="3.8" fill="#fff" fill-opacity="0.6" stroke="#000" stroke-opacity="0.9" stroke-width="1.0"/>
<circle cx="302.99" cy="147.96" r="3.8" fill="#fff" fill-opacity="0.6" stroke="#000" stroke-opacity="0.9" stroke-width="1.0"/>
<circle cx="304.14" cy="157.76" r="3.8" fill="#fff" fill-opacity="0.6" stroke="#000" stroke-opacity="0.9" stroke-width="1.0"/>
<circle cx="305.35" cy="161.84" r="3.8" fill="#fff" fill-opacity="0.6" stroke="#000" stroke-opacity="0.9" stroke-width="1.0"/>
<circle cx="306.26" cy="156.77" r="3.8" fill="#fff" fill-opacity="0.6" stroke="#000" stroke-opacity="0.9" stroke-width="1.0"/>
<circle cx="307.04" cy="154.8" r="3.8" fill="#fff" fill-opacity="0.6" stroke="#000" stroke-opacity="0.9" stroke-width="1.0"/>
<circle cx="308" cy="161.99" r="3.8" fill="#fff" fill-opacity="0.6" stroke="#000" stroke-opacity="0.9" stroke-width="1.0"/>
<circle cx="309.13" cy="156.99" r="3.8" fill="#fff" fill-opacity="0.6" stroke="#000" stroke-opacity="0.9" stroke-width="1.0"/>
<circle cx="310.22" cy="160.13" r="3.8" fill="#fff" fill-opacity="0.6" stroke="#000" stroke-opacity="0.9" stroke-width="1.0"/>
<circle cx="311.4" cy="154.26" r="3.8" fill="#fff" fill-opacity="0.6" stroke="#000" stroke-opacity="0.9" stroke-width="1.0"/>
<circle cx="312.49" cy="157.63" r="3.8" fill="#fff" fill-opacity="0.6" stroke="#000" stroke-opacity="0.9" stroke-width="1.0"/>
<circle cx="313.63" cy="160.47" r="3.8" fill="#fff" fill-opacity="0.6" stroke="#000" stroke-opacity="0.9" stroke-width="1.0"/>
<circle cx="314.74" cy="152.33" r="3.8" fill="#fff" fill-opacity="0.6" stroke="#000" stroke-opacity="0.9" stroke-width="1.0"/>
<circle cx="315.69" cy="154.44" r="3.8" fill="#fff" fill-opacity="0.6" stroke="#000" stroke-opacity="0.9" stroke-width="1.0"/>
<circle cx="316.42" cy="161.4" r="3.8" fill="#fff" fill-opacity="0.6" stroke="#000" stroke-opacity="0.9" stroke-width="1.0"/>
<circle cx="317.88" cy="156.64" r="3.8" fill="#fff" fill-opacity="0.6" stroke="#000" stroke-opacity="0.9" stroke-width="1.0"/>
<circle cx="318.64" cy="162.83" r="3.8" fill="#fff" fill-opacity="0.6" stroke="#000" stroke-opacity="0.9" stroke-width="1.0"/>
<circle cx="319.91" cy="160.09" r="3.8" fill="#fff" fill-opacity="0.6" stroke="#000" stroke-opacity="0.9" stroke-width="1.0"/>
<circle cx="321.03" cy="161.6" r="3.8" fill="#fff" fill-opacity="0.6" stroke="#000" stroke-opacity="0.9" stroke-width="1.0"/>
<circle cx="321.69" cy="156.84" r="3.8" fill="#fff" fill-opacity="0.6" stroke="#000" stroke-opacity="0.9" stroke-width="1.0"/>
<circle cx="323.01" cy="156.11" r="3.8" fill="#fff" fill-opacity="0.6" stroke="#000" stroke-opacity="0.9" stroke-width="1.0"/>
<circle cx="324.05" cy="161.29" r="3.8" fill="#fff" fill-opacity="0.6" stroke="#000" stroke-opacity="0.9" stroke-width="1.0"/>
<circle cx="324.83" cy="151.55" r="3.8" fill="#fff" fill-opacity="0.6" stroke="#000" stroke-opacity="0.9" stroke-width="1.0"/>
<circle cx="326.28" cy="162.24" r="3.8" fill="#fff" fill-opacity="0.6" stroke="#000" stroke-opacity="0.9" stroke-width="1.0"/>
<circle cx="327.09" cy="157.13" r="3.8" fill="#fff" fill-opacity="0.6" stroke="#000" stroke-opacity="0.9" stroke-width="1.0"/>
<circle cx="328.33" cy="160.06" r="3.8" fill="#fff" fill-opacity="0.6" stroke="#000" stroke-opacity="0.9" stroke-width="1.0"/>
<circle cx="329.35" cy="158.4" r="3.8" fill="#fff" fill-opacity="0.6" stroke="#000" stroke-opacity="0.9" stroke-width="1.0"/>
<circle cx="330.18" cy="156.82" r="3.8" fill="#fff" fill-opacity="0.6" stroke="#000" stroke-opacity="0.9" stroke-width="1.0"/>
<circle cx="331.28" cy="157.38" r="3.8" fill="#fff" fill-opacity="0.6" stroke="#000" stroke-opacity="0.9" stroke-width="1.0"/>
<circle cx="332.05" cy="160.87" r="3.8" fill="#fff" fill-opacity="0.6" stroke="#000" stroke-opacity="0.9" stroke-width="1.0"/>
<circle cx="333.51" cy="153.24" r="3.8" fill="#fff" fill-opacity="0.6" stroke="#000" stroke-opacity="0.9" stroke-width="1.0"/>
<circle cx="334.22" cy="155.82" r="3.8" fill="#fff" fill-opacity="0.6" stroke="#000" stroke-opacity="0.9" stroke-width="1.0"/>
<circle cx="335.35" cy="157.39" r="3.8" fill="#fff" fill-opacity="0.6" stroke="#000" stroke-opacity="0.9" stroke-width="1.0"/>
<circle cx="336.3" cy="159.2" r="3.8" fill="#fff" fill-opacity="0.6" stroke="#000" stroke-opacity="0.9" stroke-width="1.0"/>
<circle cx="337.54" cy="158.6" r="3.8" fill="#fff" fill-opacity="0.6" stroke="#000" stroke-opacity="0.9" stroke-width="1.0"/>
<circle cx="338.67" cy="162.89" r="3.8" fill="#fff" fill-opacity="0.6" stroke="#000" stroke-opacity="0.9" stroke-width="1.0"/>
<circle cx="339.85" cy="164.39" r="3.8" fill="#fff" fill-opacity="0.6" stroke="#000" stroke-opacity="0.9" stroke-width="1.0"/>
<circle cx="340.45" cy="157.43" r="3.8" fill="#fff" fill-opacity="0.6" stroke="#000" stroke-opacity="0.9" stroke-width="1.0"/>
<circle cx="341.57" cy="159.97" r="3.8" fill="#fff" fill-opacity="0.6" stroke="#000" stroke-opacity="0.9" stroke-width="1.0"/>
<circle cx="342.88" cy="158.12" r="3.8" fill="#fff" fill-opacity="0.6" stroke="#000" stroke-opacity="0.9" stroke-width="1.0"/>
<circle cx="343.88" cy="162.94" r="3.8" fill="#fff" fill-opacity="0.6" stroke="#000" stroke-opacity="0.9" stroke-width="1.0"/>
<circle cx="344.88" cy="158.49" r="3.8" fill="#fff" fill-opacity="0.6" stroke="#000" stroke-opacity="0.9" stroke-width="1.0"/>
<circle cx="345.8" cy="161.61" r="3.8" fill="#fff" fill-opacity="0.6" stroke="#000" stroke-opacity="0.9" stroke-width="1.0"/>
<circle cx="347.15" cy="154.16" r="3.8" fill="#fff" fill-opacity="0.6" stroke="#000" stroke-opacity="0.9" stroke-width="1.0"/>
<circle cx="347.83" cy="153.5" r="3.8" fill="#fff" fill-opacity="0.6" stroke="#000" stroke-opacity="0.9" stroke-width="1.0"/>
<circle cx="349.04" cy="163.52" r="3.8" fill="#fff" fill-opacity="0.6" stroke="#000" stroke-opacity="0.9" stroke-width="1.0"/>
<circle cx="350.12" cy="156.72" r="3.8" fill="#fff" fill-opacity="0.6" stroke="#000" stroke-opacity="0.9" stroke-width="1.0"/>
<circle cx="351.12" cy="154.52" r="3.8" fill="#fff" fill-opacity="0.6" stroke="#000" stroke-opacity="0.9" stroke-width="1.0"/>
<circle cx="352.22" cy="150.65" r="3.8" fill="#fff" fill-opacity="0.6" stroke="#000" stroke-opacity="0.9" stroke-width="1.0"/>
<circle cx="353.22" cy="156.49" r="3.8" fill="#fff" fill-opacity="0.6" stroke="#000" stroke-opacity="0.9" stroke-width="1.0"/>
<circle cx="354.21" cy="156.63" r="3.8" fill="#fff" fill-opacity="0.6" stroke="#000" stroke-opacity="0.9" stroke-width="1.0"/>
<circle cx="355.3" cy="161.07" r="3.8" fill="#fff" fill-opacity="0.6" stroke="#000" stroke-opacity="0.9" stroke-width="1.0"/>
<circle cx="356.45" cy="154.63" r="3.8" fill="#fff" fill-opacity="0.6" stroke="#000" stroke-opacity="0.9" stroke-width="1.0"/>
<circle cx="357.35" cy="156.37" r="3.8" fill="#fff" fill-opacity="0.6" stroke="#000" stroke-opacity="0.9" stroke-width="1.0"/>
<circle cx="358.68" cy="155.82" r="3.8" fill="#fff" fill-opacity="0.6" stroke="#000" stroke-opacity="0.9" stroke-width="1.0"/>
<circle cx="359.47" cy="158.74" r="3.8" fill="#fff" fill-opacity="0.6" stroke="#000" stroke-opacity="0.9" stroke-width="1.0"/>
<circle cx="360.34" cy="162.33" r="3.8" fill="#fff" fill-opacity="0.6" stroke="#000" stroke-opacity="0.9" stroke-width="1.0"/>
<circle cx="361.79" cy="155.71" r="3.8" fill="#fff" fill-opacity="0.6" stroke="#000" stroke-opacity="0.9" stroke-width="1.0"/>
<circle cx="362.61" cy="158.47" r="3.8" fill="#fff" fill-opacity="0.6" stroke="#000" stroke-opacity="0.9" stroke-width="1.0"/>
<circle cx="363.73" cy="156.12" r="3.8" fill="#fff" fill-opacity="0.6" stroke="#000" stroke-opacity="0.9" stroke-width="1.0"/>
<circle cx="364.94" cy="154.48" r="3.8" fill="#fff" fill-opacity="0.6" stroke="#000" stroke-opacity="0.9" stroke-width="1.0"/>
<circle cx="365.51" cy="154.29" r="3.8" fill="#fff" fill-opacity="0.6" stroke="#000" stroke-opacity="0.9" stroke-width="1.0"/>
<circle cx="366.65" cy="157.15" r="3.8" fill="#fff" fill-opacity="0.6" stroke="#000" stroke-opacity="0.9" stroke-width="1.0"/>
<circle cx="367.76" cy="153.62" r="3.8" fill="#fff" fill-opacity="0.6" stroke="#000" stroke-opacity="0.9" stroke-width="1.0"/>
<circle cx="368.82" cy="158.68" r="3.8" fill="#fff" fill-opacity="0.6" stroke="#000" stroke-opacity="0.9" stroke-width="1.0"/>
<circle cx="370.07" cy="158.62" r="3.8" fill="#fff" fill-opacity="0.6" stroke="#000" stroke-opacity="0.9" stroke-width="1.0"/>
<circle cx="370.79" cy="159.81" r="3.8" fill="#fff" fill-opacity="0.6" stroke="#000" stroke-opacity="0.9" stroke-width="1.0"/>
<circle cx="371.88" cy="157.88" r="3.8" fill="#fff" fill-opacity="0.6" stroke="#000" stroke-opacity="0.9" stroke-width="1.0"/>
<circle cx="373.1" cy="160.18" r="3.8" fill="#fff" fill-opacity="0.6" stroke="#000" stroke-opacity="0.9" stroke-width="1.0"/>
<circle cx="374.08" cy="156.72" r="3.8" fill="#fff" fill-opacity="0.6" stroke="#000" stroke-opacity="0.9" stroke-width="1.0"/>
<circle cx="375.19" cy="156.75" r="3.8" fill="#fff" fill-opacity="0.6" stroke="#000" stroke-opacity="0.9" stroke-width="1.0"/>
<circle cx="376.29" cy="156.18" r="3.8" fill="#fff" fill-opacity="0.6" stroke="#000" stroke-opacity="0.9" stroke-width="1.0"/>
<circle cx="377.34" cy="162.97" r="3.8" fill="#fff" fill-opacity="0.6" stroke="#000" stroke-opacity="0.9" stroke-width="1.0"/>
<circle cx="378.37" cy="158.73" r="3.8" fill="#fff" fill-opacity="0.6" stroke="#000" stroke-opacity="0.9" stroke-width="1.0"/>
<circle cx="379.54" cy="157.25" r="3.8" fill="#fff" fill-opacity="0.6" stroke="#000" stroke-opacity="0.9" stroke-width="1.0"/>
<circle cx="380.56" cy="153.28" r="3.8" fill="#fff" fill-opacity="0.6" stroke="#000" stroke-opacity="0.9" stroke-width="1.0"/>
<circle cx="381.66" cy="158.69" r="3.8" fill="#fff" fill-opacity="0.6" stroke="#000" stroke-opacity="0.9" stroke-width="1.0"/>
<circle cx="382.71" cy="155.57" r="3.8" fill="#fff" fill-opacity="0.6" stroke="#000" stroke-opacity="0.9" stroke-width="1.0"/>
<circle cx="383.39" cy="152.04" r="3.8" fill="#fff" fill-opacity="0.6" stroke="#000" stroke-opacity="0.9" stroke-width="1.0"/>
<circle cx="384.39" cy="157.8" r="3.8" fill="#fff" fill-opacity="0.6" stroke="#000" stroke-opacity="0.9" stroke-width="1.0"/>
<circle cx="385.49" cy="158.05" r="3.8" fill="#fff" fill-opacity="0.6" stroke="#000" stroke-opacity="0.9" stroke-width="1.0"/>
<circle cx="386.46" cy="156.65" r="3.8" fill="#fff" fill-opacity="0.6" stroke="#000" stroke-opacity="0.9" stroke-width="1.0"/>
<circle cx="387.89" cy="151.52" r="3.8" fill="#fff" fill-opacity="0.6" stroke="#000" stroke-opacity="0.9" stroke-width="1.0"/>
<circle cx="388.57" cy="141.55" r="3.8" fill="#fff" fill-opacity="0.6" stroke="#000" stroke-opacity="0.9" stroke-width="1.0"/>
<circle cx="389.76" cy="137.97" r="3.8" fill="#fff" fill-opacity="0.6" stroke="#000" stroke-opacity="0.9" stroke-width="1.0"/>
<circle cx="390.7" cy="133.46" r="3.8" fill="#fff" fill-opacity="0.6" stroke="#000" stroke-opacity="0.9" stroke-width="1.0"/>
<circle cx="392" cy="120.29" r="3.8" fill="#fff" fill-opacity="0.6" stroke="#000" stroke-opacity="0.9" stroke-width="1.0"/>
<circle cx="392.75" cy="126.35" r="3.8" fill="#fff" fill-opacity="0.6" stroke="#000" stroke-opacity="0.9" stroke-width="1.0"/>
<circle cx="394" cy="116.03" r="3.8" fill="#fff" fill-opacity="0.6" stroke="#000" stroke-opacity="0.9" stroke-width="1.0"/>
<circle cx="395.14" cy="113.61" r="3.8" fill="#fff" fill-opacity="0.6" stroke="#000" stroke-opacity="0.9" stroke-width="1.0"/>
<circle cx="395.92" cy="105.49" r="3.8" fill="#fff" fill-opacity="0.6" stroke="#000" stroke-opacity="0.9" stroke-width="1.0"/>
<circle cx="396.89" cy="106.12" r="3.8" fill="#fff" fill-opacity="0.6" stroke="#000" stroke-opacity="0.9" stroke-width="1.0"/>
<circle cx="398.2" cy="110.22" r="3.8" fill="#fff" fill-opacity="0.6" stroke="#000" stroke-opacity="0.9" stroke-width="1.0"/>
<circle cx="399.04" cy="107.04" r="3.8" fill="#fff" fill-opacity="0.6" stroke="#000" stroke-opacity="0.9" stroke-width="1.0"/>
<circle cx="400.1" cy="105.24" r="3.8" fill="#fff" fill-opacity="0.6" stroke="#000" stroke-opacity="0.9" stroke-width="1.0"/>
<circle cx="401.57" cy="101.75" r="3.8" fill="#fff" fill-opacity="0.6" stroke="#000" stroke-opacity="0.9" stroke-width="1.0"/>
<circle cx="402.58" cy="105.97" r="3.8" fill="#fff" fill-opacity="0.6" stroke="#000" stroke-opacity="0.9" stroke-width="1.0"/>
<circle cx="403.64" cy="106.25" r="3.8" fill="#fff" fill-opacity="0.6" stroke="#000" stroke-opacity="0.9" stroke-width="1.0"/>
<circle cx="404.43" cy="106.59" r="3.8" fill="#fff" fill-opacity="0.6" stroke="#000" stroke-opacity="0.9" stroke-width="1.0"/>
<circle cx="405.48" cy="109.24" r="3.8" fill="#fff" fill-opacity="0.6" stroke="#000" stroke-opacity="0.9" stroke-width="1.0"/>
<circle cx="406.55" cy="110.19" r="3.8" fill="#fff" fill-opacity="0.6" stroke="#000" stroke-opacity="0.9" stroke-width="1.0"/>
<circle cx="407.33" cy="105.28" r="3.8" fill="#fff" fill-opacity="0.6" stroke="#000" stroke-opacity="0.9" stroke-width="1.0"/>
<circle cx="408.74" cy="105.91" r="3.8" fill="#fff" fill-opacity="0.6" stroke="#000" stroke-opacity="0.9" stroke-width="1.0"/>
<circle cx="409.66" cy="108.31" r="3.8" fill="#fff" fill-opacity="0.6" stroke="#000" stroke-opacity="0.9" stroke-width="1.0"/>
<circle cx="410.85" cy="108.37" r="3.8" fill="#fff" fill-opacity="0.6" stroke="#000" stroke-opacity="0.9" stroke-width="1.0"/>
<circle cx="411.6" cy="105.87" r="3.8" fill="#fff" fill-opacity="0.6" stroke="#000" stroke-opacity="0.9" stroke-width="1.0"/>
<circle cx="412.82" cy="101.13" r="3.8" fill="#fff" fill-opacity="0.6" stroke="#000" stroke-opacity="0.9" stroke-width="1.0"/>
<circle cx="414.02" cy="106.3" r="3.8" fill="#fff" fill-opacity="0.6" stroke="#000" stroke-opacity="0.9" stroke-width="1.0"/>
<circle cx="415.02" cy="104.38" r="3.8" fill="#fff" fill-opacity="0.6" stroke="#000" stroke-opacity="0.9" stroke-width="1.0"/>
<circle cx="415.9" cy="109.77" r="3.8" fill="#fff" fill-opacity="0.6" stroke="#000" stroke-opacity="0.9" stroke-width="1.0"/>
<circle cx="417.05" cy="114.55" r="3.8" fill="#fff" fill-opacity="0.6" stroke="#000" stroke-opacity="0.9" stroke-width="1.0"/>
<circle cx="418.2" cy="106.94" r="3.8" fill="#fff" fill-opacity="0.6" stroke="#000" stroke-opacity="0.9" stroke-width="1.0"/>
<circle cx="418.96" cy="102.86" r="3.8" fill="#fff" fill-opacity="0.6" stroke="#000" stroke-opacity="0.9" stroke-width="1.0"/>
<circle cx="420.28" cy="108.99" r="3.8" fill="#fff" fill-opacity="0.6" stroke="#000" stroke-opacity="0.9" stroke-width="1.0"/>
<circle cx="421.35" cy="111.35" r="3.8" fill="#fff" fill-opacity="0.6" stroke="#000" stroke-opacity="0.9" stroke-width="1.0"/>
<circle cx="422.43" cy="103.19" r="3.8" fill="#fff" fill-opacity="0.6" stroke="#000" stroke-opacity="0.9" stroke-width="1.0"/>
<circle cx="423.38" cy="105.85" r="3.8" fill="#fff" fill-opacity="0.6" stroke="#000" stroke-opacity="0.9" stroke-width="1.0"/>
<circle cx="424.27" cy="110.88" r="3.8" fill="#fff" fill-opacity="0.6" stroke="#000" stroke-opacity="0.9" stroke-width="1.0"/>
<circle cx="425.48" cy="103.89" r="3.8" fill="#fff" fill-opacity="0.6" stroke="#000" stroke-opacity="0.9" stroke-width="1.0"/>
<circle cx="426.39" cy="104.97" r="3.8" fill="#fff" fill-opacity="0.6" stroke="#000" stroke-opacity="0.9" stroke-width="1.0"/>
<circle cx="427.2" cy="108.36" r="3.8" fill="#fff" fill-opacity="0.6" stroke="#000" stroke-opacity="0.9" stroke-width="1.0"/>
<circle cx="428.57" cy="102.76" r="3.8" fill="#fff" fill-opacity="0.6" stroke="#000" stroke-opacity="0.9" stroke-width="1.0"/>
<circle cx="429.41" cy="101.94" r="3.8" fill="#fff" fill-opacity="0.6" stroke="#000" stroke-opacity="0.9" stroke-width="1.0"/>
<circle cx="430.51" cy="107.02" r="3.8" fill="#fff" fill-opacity="0.6" stroke="#000" stroke-opacity="0.9" stroke-width="1.0"/>
<circle cx="431.72" cy="108.61" r="3.8" fill="#fff" fill-opacity="0.6" stroke="#000" stroke-opacity="0.9" stroke-width="1.0"/>
<circle cx="432.63" cy="106.94" r="3.8" fill="#fff" fill-opacity="0.6" stroke="#000" stroke-opacity="0.9" stroke-width="1.0"/>
<circle cx="433.99" cy="108.12" r="3.8" fill="#fff" fill-opacity="0.6" stroke="#000" stroke-opacity="0.9" stroke-width="1.0"/>
<circle cx="434.91" cy="108.76" r="3.8" fill="#fff" fill-opacity="0.6" stroke="#000" stroke-opacity="0.9" stroke-width="1.0"/>
<circle cx="436.07" cy="101.73" r="3.8" fill="#fff" fill-opacity="0.6" stroke="#000" stroke-opacity="0.9" stroke-width="1.0"/>
<circle cx="436.99" cy="104.95" r="3.8" fill="#fff" fill-opacity="0.6" stroke="#000" stroke-opacity="0.9" stroke-width="1.0"/>
<circle cx="437.79" cy="106.25" r="3.8" fill="#fff" fill-opacity="0.6" stroke="#000" stroke-opacity="0.9" stroke-width="1.0"/>
<circle cx="438.8" cy="105.09" r="3.8" fill="#fff" fill-opacity="0.6" stroke="#000" stroke-opacity="0.9" stroke-width="1.0"/>
<circle cx="439.94" cy="104.01" r="3.8" fill="#fff" fill-opacity="0.6" stroke="#000" stroke-opacity="0.9" stroke-width="1.0"/>
<circle cx="441.26" cy="104.64" r="3.8" fill="#fff" fill-opacity="0.6" stroke="#000" stroke-opacity="0.9" stroke-width="1.0"/>
<circle cx="442.12" cy="113.06" r="3.8" fill="#fff" fill-opacity="0.6" stroke="#000" stroke-opacity="0.9" stroke-width="1.0"/>
<circle cx="443.18" cy="106.43" r="3.8" fill="#fff" fill-opacity="0.6" stroke="#000" stroke-opacity="0.9" stroke-width="1.0"/>
<circle cx="444.45" cy="109.47" r="3.8" fill="#fff" fill-opacity="0.6" stroke="#000" stroke-opacity="0.9" stroke-width="1.0"/>
<circle cx="445.01" cy="110.13" r="3.8" fill="#fff" fill-opacity="0.6" stroke="#000" stroke-opacity="0.9" stroke-width="1.0"/>
<circle cx="446.33" cy="106.48" r="3.8" fill="#fff" fill-opacity="0.6" stroke="#000" stroke-opacity="0.9" stroke-width="1.0"/>
<circle cx="447.55" cy="107.53" r="3.8" fill="#fff" fill-opacity="0.6" stroke="#000" stroke-opacity="0.9" stroke-width="1.0"/>
<circle cx="448.19" cy="108.42" r="3.8" fill="#fff" fill-opacity="0.6" stroke="#000" stroke-opacity="0.9" stroke-width="1.0"/>
<circle cx="449.41" cy="106.66" r="3.8" fill="#fff" fill-opacity="0.6" stroke="#000" stroke-opacity="0.9" stroke-width="1.0"/>
<circle cx="450.52" cy="100.95" r="3.8" fill="#fff" fill-opacity="0.6" stroke="#000" stroke-opacity="0.9" stroke-width="1.0"/>
<circle cx="451.46" cy="104.83" r="3.8" fill="#fff" fill-opacity="0.6" stroke="#000" stroke-opacity="0.9" stroke-width="1.0"/>
<circle cx="452.57" cy="109.44" r="3.8" fill="#fff" fill-opacity="0.6" stroke="#000" stroke-opacity="0.9" stroke-width="1.0"/>
<circle cx="453.49" cy="108.9" r="3.8" fill="#fff" fill-opacity="0.6" stroke="#000" stroke-opacity="0.9" stroke-width="1.0"/>
<circle cx="454.72" cy="109.58" r="3.8" fill="#fff" fill-opacity="0.6" stroke="#000" stroke-opacity="0.9" stroke-width="1.0"/>
<circle cx="455.8" cy="108.42" r="3.8" fill="#fff" fill-opacity="0.6" stroke="#000" stroke-opacity="0.9" stroke-width="1.0"/>
<circle cx="456.63" cy="105.61" r="3.8" fill="#fff" fill-opacity="0.6" stroke="#000" stroke-opacity="0.9" stroke-width="1.0"/>
<circle cx="457.54" cy="107.53" r="3.8" fill="#fff" fill-opacity="0.6" stroke="#000" stroke-opacity="0.9" stroke-width="1.0"/>
<circle cx="458.65" cy="107.69" r="3.8" fill="#fff" fill-opacity="0.6" stroke="#000" stroke-opacity="0.9" stroke-width="1.0"/>
<circle cx="460.08" cy="110.54" r="3.8" fill="#fff" fill-opacity="0.6" stroke="#000" stroke-opacity="0.9" stroke-width="1.0"/>
<circle cx="461.05" cy="100.1" r="3.8" fill="#fff" fill-opacity="0.6" stroke="#000" stroke-opacity="0.9" stroke-width="1.0"/>
<circle cx="462.19" cy="105.38" r="3.8" fill="#fff" fill-opacity="0.6" stroke="#000" stroke-opacity="0.9" stroke-width="1.0"/>
<circle cx="462.79" cy="105.54" r="3.8" fill="#fff" fill-opacity="0.6" stroke="#000" stroke-opacity="0.9" stroke-width="1.0"/>
<circle cx="464.04" cy="109.59" r="3.8" fill="#fff" fill-opacity="0.6" stroke="#000" stroke-opacity="0.9" stroke-width="1.0"/>
<circle cx="465.35" cy="107.87" r="3.8" fill="#fff" fill-opacity="0.6" stroke="#000" stroke-opacity="0.9" stroke-width="1.0"/>
<circle cx="466.37" cy="104.71" r="3.8" fill="#fff" fill-opacity="0.6" stroke="#000" stroke-opacity="0.9" stroke-width="1.0"/>
<circle cx="467.31" cy="115.48" r="3.8" fill="#fff" fill-opacity="0.6" stroke="#000" stroke-opacity="0.9" stroke-width="1.0"/>
<circle cx="468.4" cy="106.58" r="3.8" fill="#fff" fill-opacity="0.6" stroke="#000" stroke-opacity="0.9" stroke-width="1.0"/>
<circle cx="469.34" cy="105.24" r="3.8" fill="#fff" fill-opacity="0.6" stroke="#000" stroke-opacity="0.9" stroke-width="1.0"/>
<circle cx="470.3" cy="105.59" r="3.8" fill="#fff" fill-opacity="0.6" stroke="#000" stroke-opacity="0.9" stroke-width="1.0"/>
<path d="M167.87 112.11 L168.63 112.04 L169.39 111.97 L170.15 111.91 L170.9 111.84 L171.66 111.78 L172.42 111.71 L173.18 111.64 L173.94 111.58 L174.69 111.51 L175.45 111.45 L176.21 111.38 L176.97 111.32 L177.73 111.25 L178.49 111.19 L179.24 111.12 L180 111.06 L180.76 110.99 L181.52 110.93 L182.28 110.87 L183.03 110.8 L183.79 110.74 L184.55 110.67 L185.31 110.61 L186.07 110.55 L186.82 110.49 L187.58 110.42 L188.34 110.36 L189.1 110.3 L189.86 110.24 L190.62 110.17 L191.37 110.11 L192.13 110.05 L192.89 109.99 L193.65 109.93 L194.41 109.87 L195.16 109.81 L195.92 109.75 L196.68 109.69 L197.44 109.63 L198.2 109.57 L198.95 109.51 L199.71 109.45 L200.47 109.39 L201.23 109.33 L201.99 109.27 L202.74 109.21 L203.5 109.16 L204.26 109.1 L205.02 109.04 L205.78 108.98 L206.54 108.92 L207.29 108.87 L208.05 108.81 L208.81 108.75 L209.57 108.7 L210.33 108.64 L211.08 108.59 L211.84 108.53 L212.6 108.47 L213.36 108.42 L214.12 108.36 L214.87 108.31 L215.63 108.25 L216.39 108.2 L217.15 108.15 L217.91 108.09 L218.66 108.04 L219.42 107.99 L220.18 107.93 L220.94 107.88 L221.7 107.83 L222.46 107.78 L223.21 107.73 L223.97 107.67 L224.73 107.62 L225.49 107.57 L226.25 107.52 L227 107.47 L227.76 107.42 L228.52 107.37 L229.28 107.32 L230.04 107.27 L230.79 107.23 L231.55 107.18 L232.31 107.13 L233.07 107.08 L233.83 107.04 L234.58 106.99 L235.34 106.94 L236.1 106.9 L236.86 106.85 L237.62 106.81 L238.38 106.76 L239.13 106.72 L239.89 106.67 L240.65 106.63 L241.41 106.59 L242.17 106.54 L242.92 106.5 L243.68 106.46 L244.44 106.42 L245.2 106.38 L245.96 106.34 L246.71 106.3 L247.47 106.26 L248.23 106.22 L248.99 106.18 L249.75 106.15 L250.5 106.11 L251.26 106.07 L252.02 106.04 L252.78 106 L253.54 105.97 L254.3 105.94 L255.05 105.91 L255.81 105.87 L256.57 105.84 L257.33 105.82 L258.09 105.79 L258.84 105.76 L259.6 105.74 L260.36 105.71 L261.12 105.69 L261.88 105.67 L262.63 105.66 L263.39 105.67 L264.15 105.67 L264.91 105.68 L265.67 105.69 L266.43 105.69 L267.18 105.7 L267.94 105.71 L268.7 105.71 L269.46 105.72 L270.22 105.73 L270.97 105.73 L271.73 105.74 L272.49 105.75 L273.25 105.75 L274.01 105.76 L274.76 105.76 L275.52 105.77 L276.28 105.78 L277.04 105.78 L277.8 105.79 L278.55 105.8 L279.31 105.8 L280.07 105.81 L280.83 105.82 L281.59 105.82 L282.35 105.83 L283.1 105.84 L283.86 105.84 L284.62 105.85 L285.38 105.86 L286.14 105.86 L286.89 105.87 L287.65 105.88 L288.41 105.88 L289.17 105.89 L289.93 105.9 L290.68 105.9 L291.44 105.91 L292.2 105.92 L292.96 105.92 L293.72 105.93 L294.47 105.94 L295.23 109 L295.99 112.91 L296.75 116.83 L297.51 120.74 L298.27 124.66 L299.02 128.57 L299.78 132.49 L300.54 136.4 L301.3 140.32 L302.06 144.23 L302.81 148.14 L303.57 152.06 L304.33 155.97 L305.09 157.74 L305.85 157.74 L306.6 157.74 L307.36 157.74 L308.12 157.74 L308.88 157.74 L309.64 157.74 L310.39 157.74 L311.15 157.74 L311.91 157.74 L312.67 157.74 L313.43 157.74 L314.19 157.74 L314.94 157.74 L315.7 157.74 L316.46 157.74 L317.22 157.74 L317.98 157.74 L318.73 157.74 L319.49 157.74 L320.25 157.74 L321.01 157.74 L321.77 157.74 L322.52 157.74 L323.28 157.74 L324.04 157.74 L324.8 157.74 L325.56 157.74 L326.31 157.74 L327.07 157.74 L327.83 157.74 L328.59 157.74 L329.35 157.74 L330.11 157.74 L330.86 157.74 L331.62 157.74 L332.38 157.74 L333.14 157.74 L333.9 157.74 L334.65 157.74 L335.41 157.74 L336.17 157.74 L336.93 157.74 L337.69 157.74 L338.44 157.74 L339.2 157.74 L339.96 157.74 L340.72 157.74 L341.48 157.74 L342.24 157.74 L342.99 157.74 L343.75 157.74 L344.51 157.74 L345.27 157.74 L346.03 157.74 L346.78 157.74 L347.54 157.74 L348.3 157.74 L349.06 157.74 L349.82 157.74 L350.57 157.74 L351.33 157.74 L352.09 157.74 L352.85 157.74 L353.61 157.74 L354.36 157.74 L355.12 157.74 L355.88 157.74 L356.64 157.74 L357.4 157.74 L358.16 157.74 L358.91 157.74 L359.67 157.74 L360.43 157.74 L361.19 157.74 L361.95 157.74 L362.7 157.74 L363.46 157.74 L364.22 157.74 L364.98 157.74 L365.74 157.74 L366.49 157.74 L367.25 157.74 L368.01 157.74 L368.77 157.74 L369.53 157.74 L370.28 157.74 L371.04 157.74 L371.8 157.74 L372.56 157.74 L373.32 157.74 L374.08 157.74 L374.83 157.74 L375.59 157.74 L376.35 157.74 L377.11 157.74 L377.87 157.74 L378.62 157.74 L379.38 157.74 L380.14 157.74 L380.9 157.74 L381.66 157.74 L382.41 157.74 L383.17 157.74 L383.93 157.74 L384.69 157.74 L385.45 157.74 L386.2 155.88 L386.96 152.02 L387.72 148.16 L388.48 144.3 L389.24 140.44 L390 136.58 L390.75 132.72 L391.51 128.86 L392.27 125 L393.03 121.14 L393.79 117.28 L394.54 113.42 L395.3 109.55 L396.06 106.66 L396.82 106.67 L397.58 106.69 L398.33 106.7 L399.09 106.72 L399.85 106.73 L400.61 106.75 L401.37 106.76 L402.12 106.78 L402.88 106.79 L403.64 106.81 L404.4 106.82 L405.16 106.84 L405.92 106.85 L406.67 106.87 L407.43 106.88 L408.19 106.9 L408.95 106.91 L409.71 106.93 L410.46 106.94 L411.22 106.96 L411.98 106.97 L412.74 106.99 L413.5 107 L414.25 107.02 L415.01 107.03 L415.77 107.05 L416.53 107.06 L417.29 107.08 L418.05 107.09 L418.8 107.11 L419.56 107.12 L420.32 107.14 L421.08 107.15 L421.84 107.17 L422.59 107.18 L423.35 107.2 L424.11 107.21 L424.87 107.23 L425.63 107.24 L426.38 107.26 L427.14 107.27 L427.9 107.29 L428.66 107.3 L429.42 107.32 L430.17 107.33 L430.93 107.35 L431.69 107.36 L432.45 107.38 L433.21 107.39 L433.97 107.41 L434.72 107.42 L435.48 107.44 L436.24 107.45 L437 107.47 L437.76 107.48 L438.51 107.5 L439.27 107.51 L440.03 107.53 L440.79 107.54 L441.55 107.56 L442.3 107.57 L443.06 107.59 L443.82 107.6 L444.58 107.62 L445.34 107.63 L446.09 107.65 L446.85 107.66 L447.61 107.68 L448.37 107.69 L449.13 107.71 L449.89 107.72 L450.64 107.74 L451.4 107.75 L452.16 107.77 L452.92 107.78 L453.68 107.8 L454.43 107.81 L455.19 107.83 L455.95 107.84 L456.71 107.86 L457.47 107.87 L458.22 107.89 L458.98 107.9 L459.74 107.92 L460.5 107.93 L461.26 107.95 L462.01 107.96 L462.77 107.98 L463.53 107.99 L464.29 108.01 L465.05 108.02 L465.81 108.04 L466.56 108.05 L467.32 108.07 L468.08 108.08 L468.84 108.1 L469.6 108.11 L470.35 108.13 L471.11 108.14" fill="none" stroke="#000" stroke-width="2"/>
</g>
<rect x="153.2" y="40.2" width="333.1" height="156.5" fill="none" stroke="#262626" stroke-width="1.5"/>
<line x1="145.2" y1="150.3" x2="153.2" y2="150.3" stroke="#1a1a1a" stroke-width="1.5" />
<text x="140.6" y="156.1" font-size="16.3" text-anchor="end" font-weight="normal" fill="#111" >0</text>
<line x1="145.2" y1="100.7" x2="153.2" y2="100.7" stroke="#1a1a1a" stroke-width="1.5" />
<text x="140.6" y="106.5" font-size="16.3" text-anchor="end" font-weight="normal" fill="#111" >1,000</text>
<line x1="145.2" y1="51.1" x2="153.2" y2="51.1" stroke="#1a1a1a" stroke-width="1.5" />
<text x="140.6" y="56.9" font-size="16.3" text-anchor="end" font-weight="normal" fill="#111" >2,000</text>
<line x1="162.4" y1="196.7" x2="162.4" y2="205.2" stroke="#1a1a1a" stroke-width="1.5" />
<line x1="253.6" y1="196.7" x2="253.6" y2="205.2" stroke="#1a1a1a" stroke-width="1.5" />
<line x1="344.8" y1="196.7" x2="344.8" y2="205.2" stroke="#1a1a1a" stroke-width="1.5" />
<line x1="436" y1="196.7" x2="436" y2="205.2" stroke="#1a1a1a" stroke-width="1.5" />
<text x="162.8" y="75.6" font-size="16.9" text-anchor="start" font-weight="normal" fill="#111" >Broadband</text>
<clipPath id="c12"><rect x="153.2" y="220.2" width="333.1" height="156.5"/></clipPath>
<rect x="153.2" y="220.2" width="333.1" height="156.5" fill="#fff"/>
<g clip-path="url(#c12)">
<circle cx="168.12" cy="305.77" r="3.75" fill="#2200ff" fill-opacity="0.72" stroke="#000" stroke-opacity="0.75" stroke-width="0.9"/>
<circle cx="168.99" cy="308.35" r="3.75" fill="#2200ff" fill-opacity="0.72" stroke="#000" stroke-opacity="0.75" stroke-width="0.9"/>
<circle cx="169.97" cy="304.12" r="3.75" fill="#2200ff" fill-opacity="0.72" stroke="#000" stroke-opacity="0.75" stroke-width="0.9"/>
<circle cx="171.43" cy="297.02" r="3.75" fill="#2200ff" fill-opacity="0.72" stroke="#000" stroke-opacity="0.75" stroke-width="0.9"/>
<circle cx="172.42" cy="306.84" r="3.75" fill="#2200ff" fill-opacity="0.72" stroke="#000" stroke-opacity="0.75" stroke-width="0.9"/>
<circle cx="173.45" cy="305.13" r="3.75" fill="#2200ff" fill-opacity="0.72" stroke="#000" stroke-opacity="0.75" stroke-width="0.9"/>
<circle cx="174.22" cy="303.81" r="3.75" fill="#2200ff" fill-opacity="0.72" stroke="#000" stroke-opacity="0.75" stroke-width="0.9"/>
<circle cx="175.67" cy="298.94" r="3.75" fill="#2200ff" fill-opacity="0.72" stroke="#000" stroke-opacity="0.75" stroke-width="0.9"/>
<circle cx="176.27" cy="299.24" r="3.75" fill="#2200ff" fill-opacity="0.72" stroke="#000" stroke-opacity="0.75" stroke-width="0.9"/>
<circle cx="177.64" cy="302.41" r="3.75" fill="#2200ff" fill-opacity="0.72" stroke="#000" stroke-opacity="0.75" stroke-width="0.9"/>
<circle cx="178.5" cy="309.99" r="3.75" fill="#2200ff" fill-opacity="0.72" stroke="#000" stroke-opacity="0.75" stroke-width="0.9"/>
<circle cx="179.38" cy="293.37" r="3.75" fill="#2200ff" fill-opacity="0.72" stroke="#000" stroke-opacity="0.75" stroke-width="0.9"/>
<circle cx="180.45" cy="293.68" r="3.75" fill="#2200ff" fill-opacity="0.72" stroke="#000" stroke-opacity="0.75" stroke-width="0.9"/>
<circle cx="181.51" cy="303.75" r="3.75" fill="#2200ff" fill-opacity="0.72" stroke="#000" stroke-opacity="0.75" stroke-width="0.9"/>
<circle cx="183.03" cy="297.05" r="3.75" fill="#2200ff" fill-opacity="0.72" stroke="#000" stroke-opacity="0.75" stroke-width="0.9"/>
<circle cx="183.78" cy="300.87" r="3.75" fill="#2200ff" fill-opacity="0.72" stroke="#000" stroke-opacity="0.75" stroke-width="0.9"/>
<circle cx="184.67" cy="303.14" r="3.75" fill="#2200ff" fill-opacity="0.72" stroke="#000" stroke-opacity="0.75" stroke-width="0.9"/>
<circle cx="185.73" cy="291.79" r="3.75" fill="#2200ff" fill-opacity="0.72" stroke="#000" stroke-opacity="0.75" stroke-width="0.9"/>
<circle cx="187.06" cy="296.11" r="3.75" fill="#2200ff" fill-opacity="0.72" stroke="#000" stroke-opacity="0.75" stroke-width="0.9"/>
<circle cx="188.17" cy="298.45" r="3.75" fill="#2200ff" fill-opacity="0.72" stroke="#000" stroke-opacity="0.75" stroke-width="0.9"/>
<circle cx="188.99" cy="306.91" r="3.75" fill="#2200ff" fill-opacity="0.72" stroke="#000" stroke-opacity="0.75" stroke-width="0.9"/>
<circle cx="190.08" cy="295.5" r="3.75" fill="#2200ff" fill-opacity="0.72" stroke="#000" stroke-opacity="0.75" stroke-width="0.9"/>
<circle cx="191.08" cy="289.73" r="3.75" fill="#2200ff" fill-opacity="0.72" stroke="#000" stroke-opacity="0.75" stroke-width="0.9"/>
<circle cx="192.43" cy="297.56" r="3.75" fill="#2200ff" fill-opacity="0.72" stroke="#000" stroke-opacity="0.75" stroke-width="0.9"/>
<circle cx="193.48" cy="302.42" r="3.75" fill="#2200ff" fill-opacity="0.72" stroke="#000" stroke-opacity="0.75" stroke-width="0.9"/>
<circle cx="194.2" cy="304.37" r="3.75" fill="#2200ff" fill-opacity="0.72" stroke="#000" stroke-opacity="0.75" stroke-width="0.9"/>
<circle cx="195.42" cy="300.73" r="3.75" fill="#2200ff" fill-opacity="0.72" stroke="#000" stroke-opacity="0.75" stroke-width="0.9"/>
<circle cx="196.23" cy="302" r="3.75" fill="#2200ff" fill-opacity="0.72" stroke="#000" stroke-opacity="0.75" stroke-width="0.9"/>
<circle cx="197.34" cy="310.52" r="3.75" fill="#2200ff" fill-opacity="0.72" stroke="#000" stroke-opacity="0.75" stroke-width="0.9"/>
<circle cx="198.46" cy="300" r="3.75" fill="#2200ff" fill-opacity="0.72" stroke="#000" stroke-opacity="0.75" stroke-width="0.9"/>
<circle cx="199.26" cy="296.27" r="3.75" fill="#2200ff" fill-opacity="0.72" stroke="#000" stroke-opacity="0.75" stroke-width="0.9"/>
<circle cx="200.56" cy="305.02" r="3.75" fill="#2200ff" fill-opacity="0.72" stroke="#000" stroke-opacity="0.75" stroke-width="0.9"/>
<circle cx="201.45" cy="304.59" r="3.75" fill="#2200ff" fill-opacity="0.72" stroke="#000" stroke-opacity="0.75" stroke-width="0.9"/>
<circle cx="202.78" cy="296.31" r="3.75" fill="#2200ff" fill-opacity="0.72" stroke="#000" stroke-opacity="0.75" stroke-width="0.9"/>
<circle cx="203.48" cy="302.69" r="3.75" fill="#2200ff" fill-opacity="0.72" stroke="#000" stroke-opacity="0.75" stroke-width="0.9"/>
<circle cx="204.83" cy="300.14" r="3.75" fill="#2200ff" fill-opacity="0.72" stroke="#000" stroke-opacity="0.75" stroke-width="0.9"/>
<circle cx="205.53" cy="299.86" r="3.75" fill="#2200ff" fill-opacity="0.72" stroke="#000" stroke-opacity="0.75" stroke-width="0.9"/>
<circle cx="206.89" cy="293.25" r="3.75" fill="#2200ff" fill-opacity="0.72" stroke="#000" stroke-opacity="0.75" stroke-width="0.9"/>
<circle cx="207.63" cy="302.94" r="3.75" fill="#2200ff" fill-opacity="0.72" stroke="#000" stroke-opacity="0.75" stroke-width="0.9"/>
<circle cx="208.8" cy="297.72" r="3.75" fill="#2200ff" fill-opacity="0.72" stroke="#000" stroke-opacity="0.75" stroke-width="0.9"/>
<circle cx="209.95" cy="291.89" r="3.75" fill="#2200ff" fill-opacity="0.72" stroke="#000" stroke-opacity="0.75" stroke-width="0.9"/>
<circle cx="211.24" cy="300.53" r="3.75" fill="#2200ff" fill-opacity="0.72" stroke="#000" stroke-opacity="0.75" stroke-width="0.9"/>
<circle cx="211.88" cy="293.44" r="3.75" fill="#2200ff" fill-opacity="0.72" stroke="#000" stroke-opacity="0.75" stroke-width="0.9"/>
<circle cx="212.93" cy="301.35" r="3.75" fill="#2200ff" fill-opacity="0.72" stroke="#000" stroke-opacity="0.75" stroke-width="0.9"/>
<circle cx="214.27" cy="297.99" r="3.75" fill="#2200ff" fill-opacity="0.72" stroke="#000" stroke-opacity="0.75" stroke-width="0.9"/>
<circle cx="215.07" cy="298.95" r="3.75" fill="#2200ff" fill-opacity="0.72" stroke="#000" stroke-opacity="0.75" stroke-width="0.9"/>
<circle cx="216.38" cy="301.05" r="3.75" fill="#2200ff" fill-opacity="0.72" stroke="#000" stroke-opacity="0.75" stroke-width="0.9"/>
<circle cx="217.02" cy="294.65" r="3.75" fill="#2200ff" fill-opacity="0.72" stroke="#000" stroke-opacity="0.75" stroke-width="0.9"/>
<circle cx="218.08" cy="311.53" r="3.75" fill="#2200ff" fill-opacity="0.72" stroke="#000" stroke-opacity="0.75" stroke-width="0.9"/>
<circle cx="219.63" cy="310.54" r="3.75" fill="#2200ff" fill-opacity="0.72" stroke="#000" stroke-opacity="0.75" stroke-width="0.9"/>
<circle cx="220.42" cy="293" r="3.75" fill="#2200ff" fill-opacity="0.72" stroke="#000" stroke-opacity="0.75" stroke-width="0.9"/>
<circle cx="221.61" cy="297.55" r="3.75" fill="#2200ff" fill-opacity="0.72" stroke="#000" stroke-opacity="0.75" stroke-width="0.9"/>
<circle cx="222.68" cy="301.21" r="3.75" fill="#2200ff" fill-opacity="0.72" stroke="#000" stroke-opacity="0.75" stroke-width="0.9"/>
<circle cx="223.57" cy="301.75" r="3.75" fill="#2200ff" fill-opacity="0.72" stroke="#000" stroke-opacity="0.75" stroke-width="0.9"/>
<circle cx="224.59" cy="301.67" r="3.75" fill="#2200ff" fill-opacity="0.72" stroke="#000" stroke-opacity="0.75" stroke-width="0.9"/>
<circle cx="225.88" cy="301.72" r="3.75" fill="#2200ff" fill-opacity="0.72" stroke="#000" stroke-opacity="0.75" stroke-width="0.9"/>
<circle cx="226.9" cy="295.53" r="3.75" fill="#2200ff" fill-opacity="0.72" stroke="#000" stroke-opacity="0.75" stroke-width="0.9"/>
<circle cx="227.93" cy="293.82" r="3.75" fill="#2200ff" fill-opacity="0.72" stroke="#000" stroke-opacity="0.75" stroke-width="0.9"/>
<circle cx="228.67" cy="291.18" r="3.75" fill="#2200ff" fill-opacity="0.72" stroke="#000" stroke-opacity="0.75" stroke-width="0.9"/>
<circle cx="229.93" cy="300.72" r="3.75" fill="#2200ff" fill-opacity="0.72" stroke="#000" stroke-opacity="0.75" stroke-width="0.9"/>
<circle cx="230.98" cy="296.98" r="3.75" fill="#2200ff" fill-opacity="0.72" stroke="#000" stroke-opacity="0.75" stroke-width="0.9"/>
<circle cx="231.79" cy="293.15" r="3.75" fill="#2200ff" fill-opacity="0.72" stroke="#000" stroke-opacity="0.75" stroke-width="0.9"/>
<circle cx="233.06" cy="299.2" r="3.75" fill="#2200ff" fill-opacity="0.72" stroke="#000" stroke-opacity="0.75" stroke-width="0.9"/>
<circle cx="234.21" cy="301.14" r="3.75" fill="#2200ff" fill-opacity="0.72" stroke="#000" stroke-opacity="0.75" stroke-width="0.9"/>
<circle cx="235.01" cy="297.66" r="3.75" fill="#2200ff" fill-opacity="0.72" stroke="#000" stroke-opacity="0.75" stroke-width="0.9"/>
<circle cx="236.35" cy="291.38" r="3.75" fill="#2200ff" fill-opacity="0.72" stroke="#000" stroke-opacity="0.75" stroke-width="0.9"/>
<circle cx="237.18" cy="307.85" r="3.75" fill="#2200ff" fill-opacity="0.72" stroke="#000" stroke-opacity="0.75" stroke-width="0.9"/>
<circle cx="238.43" cy="307.79" r="3.75" fill="#2200ff" fill-opacity="0.72" stroke="#000" stroke-opacity="0.75" stroke-width="0.9"/>
<circle cx="239.37" cy="305.11" r="3.75" fill="#2200ff" fill-opacity="0.72" stroke="#000" stroke-opacity="0.75" stroke-width="0.9"/>
<circle cx="240.49" cy="293.82" r="3.75" fill="#2200ff" fill-opacity="0.72" stroke="#000" stroke-opacity="0.75" stroke-width="0.9"/>
<circle cx="241.48" cy="302.91" r="3.75" fill="#2200ff" fill-opacity="0.72" stroke="#000" stroke-opacity="0.75" stroke-width="0.9"/>
<circle cx="242.31" cy="300.64" r="3.75" fill="#2200ff" fill-opacity="0.72" stroke="#000" stroke-opacity="0.75" stroke-width="0.9"/>
<circle cx="243.54" cy="298.92" r="3.75" fill="#2200ff" fill-opacity="0.72" stroke="#000" stroke-opacity="0.75" stroke-width="0.9"/>
<circle cx="244.58" cy="298.28" r="3.75" fill="#2200ff" fill-opacity="0.72" stroke="#000" stroke-opacity="0.75" stroke-width="0.9"/>
<circle cx="245.72" cy="293.91" r="3.75" fill="#2200ff" fill-opacity="0.72" stroke="#000" stroke-opacity="0.75" stroke-width="0.9"/>
<circle cx="246.77" cy="310.44" r="3.75" fill="#2200ff" fill-opacity="0.72" stroke="#000" stroke-opacity="0.75" stroke-width="0.9"/>
<circle cx="247.62" cy="296.31" r="3.75" fill="#2200ff" fill-opacity="0.72" stroke="#000" stroke-opacity="0.75" stroke-width="0.9"/>
<circle cx="248.44" cy="303.65" r="3.75" fill="#2200ff" fill-opacity="0.72" stroke="#000" stroke-opacity="0.75" stroke-width="0.9"/>
<circle cx="249.62" cy="303.26" r="3.75" fill="#2200ff" fill-opacity="0.72" stroke="#000" stroke-opacity="0.75" stroke-width="0.9"/>
<circle cx="250.84" cy="284.37" r="3.75" fill="#2200ff" fill-opacity="0.72" stroke="#000" stroke-opacity="0.75" stroke-width="0.9"/>
<circle cx="251.81" cy="300.03" r="3.75" fill="#2200ff" fill-opacity="0.72" stroke="#000" stroke-opacity="0.75" stroke-width="0.9"/>
<circle cx="252.85" cy="299.93" r="3.75" fill="#2200ff" fill-opacity="0.72" stroke="#000" stroke-opacity="0.75" stroke-width="0.9"/>
<circle cx="253.98" cy="301.36" r="3.75" fill="#2200ff" fill-opacity="0.72" stroke="#000" stroke-opacity="0.75" stroke-width="0.9"/>
<circle cx="254.87" cy="294.82" r="3.75" fill="#2200ff" fill-opacity="0.72" stroke="#000" stroke-opacity="0.75" stroke-width="0.9"/>
<circle cx="255.88" cy="299.03" r="3.75" fill="#2200ff" fill-opacity="0.72" stroke="#000" stroke-opacity="0.75" stroke-width="0.9"/>
<circle cx="256.8" cy="300.82" r="3.75" fill="#2200ff" fill-opacity="0.72" stroke="#000" stroke-opacity="0.75" stroke-width="0.9"/>
<circle cx="257.96" cy="301.15" r="3.75" fill="#2200ff" fill-opacity="0.72" stroke="#000" stroke-opacity="0.75" stroke-width="0.9"/>
<circle cx="259.19" cy="307.51" r="3.75" fill="#2200ff" fill-opacity="0.72" stroke="#000" stroke-opacity="0.75" stroke-width="0.9"/>
<circle cx="260.38" cy="298.64" r="3.75" fill="#2200ff" fill-opacity="0.72" stroke="#000" stroke-opacity="0.75" stroke-width="0.9"/>
<circle cx="261.19" cy="296.49" r="3.75" fill="#2200ff" fill-opacity="0.72" stroke="#000" stroke-opacity="0.75" stroke-width="0.9"/>
<circle cx="262.21" cy="293.67" r="3.75" fill="#2200ff" fill-opacity="0.72" stroke="#000" stroke-opacity="0.75" stroke-width="0.9"/>
<circle cx="263.21" cy="289.3" r="3.75" fill="#2200ff" fill-opacity="0.72" stroke="#000" stroke-opacity="0.75" stroke-width="0.9"/>
<circle cx="264.2" cy="304.56" r="3.75" fill="#2200ff" fill-opacity="0.72" stroke="#000" stroke-opacity="0.75" stroke-width="0.9"/>
<circle cx="265.12" cy="284.45" r="3.75" fill="#2200ff" fill-opacity="0.72" stroke="#000" stroke-opacity="0.75" stroke-width="0.9"/>
<circle cx="266.35" cy="298.36" r="3.75" fill="#2200ff" fill-opacity="0.72" stroke="#000" stroke-opacity="0.75" stroke-width="0.9"/>
<circle cx="267.44" cy="293.5" r="3.75" fill="#2200ff" fill-opacity="0.72" stroke="#000" stroke-opacity="0.75" stroke-width="0.9"/>
<circle cx="268.37" cy="291.2" r="3.75" fill="#2200ff" fill-opacity="0.72" stroke="#000" stroke-opacity="0.75" stroke-width="0.9"/>
<circle cx="269.67" cy="301.14" r="3.75" fill="#2200ff" fill-opacity="0.72" stroke="#000" stroke-opacity="0.75" stroke-width="0.9"/>
<circle cx="270.43" cy="305.83" r="3.75" fill="#2200ff" fill-opacity="0.72" stroke="#000" stroke-opacity="0.75" stroke-width="0.9"/>
<circle cx="271.83" cy="295.7" r="3.75" fill="#2200ff" fill-opacity="0.72" stroke="#000" stroke-opacity="0.75" stroke-width="0.9"/>
<circle cx="272.57" cy="309.36" r="3.75" fill="#2200ff" fill-opacity="0.72" stroke="#000" stroke-opacity="0.75" stroke-width="0.9"/>
<circle cx="273.92" cy="294.51" r="3.75" fill="#2200ff" fill-opacity="0.72" stroke="#000" stroke-opacity="0.75" stroke-width="0.9"/>
<circle cx="274.65" cy="307.76" r="3.75" fill="#2200ff" fill-opacity="0.72" stroke="#000" stroke-opacity="0.75" stroke-width="0.9"/>
<circle cx="275.78" cy="300.05" r="3.75" fill="#2200ff" fill-opacity="0.72" stroke="#000" stroke-opacity="0.75" stroke-width="0.9"/>
<circle cx="276.97" cy="306.18" r="3.75" fill="#2200ff" fill-opacity="0.72" stroke="#000" stroke-opacity="0.75" stroke-width="0.9"/>
<circle cx="277.96" cy="311.77" r="3.75" fill="#2200ff" fill-opacity="0.72" stroke="#000" stroke-opacity="0.75" stroke-width="0.9"/>
<circle cx="279.07" cy="303.49" r="3.75" fill="#2200ff" fill-opacity="0.72" stroke="#000" stroke-opacity="0.75" stroke-width="0.9"/>
<circle cx="279.93" cy="289.43" r="3.75" fill="#2200ff" fill-opacity="0.72" stroke="#000" stroke-opacity="0.75" stroke-width="0.9"/>
<circle cx="281.06" cy="300.98" r="3.75" fill="#2200ff" fill-opacity="0.72" stroke="#000" stroke-opacity="0.75" stroke-width="0.9"/>
<circle cx="281.92" cy="293.5" r="3.75" fill="#2200ff" fill-opacity="0.72" stroke="#000" stroke-opacity="0.75" stroke-width="0.9"/>
<circle cx="283.01" cy="302.12" r="3.75" fill="#2200ff" fill-opacity="0.72" stroke="#000" stroke-opacity="0.75" stroke-width="0.9"/>
<circle cx="283.96" cy="298.88" r="3.75" fill="#2200ff" fill-opacity="0.72" stroke="#000" stroke-opacity="0.75" stroke-width="0.9"/>
<circle cx="285.41" cy="300.81" r="3.75" fill="#2200ff" fill-opacity="0.72" stroke="#000" stroke-opacity="0.75" stroke-width="0.9"/>
<circle cx="286.34" cy="283.41" r="3.75" fill="#2200ff" fill-opacity="0.72" stroke="#000" stroke-opacity="0.75" stroke-width="0.9"/>
<circle cx="287.28" cy="288.36" r="3.75" fill="#2200ff" fill-opacity="0.72" stroke="#000" stroke-opacity="0.75" stroke-width="0.9"/>
<circle cx="288.29" cy="307.07" r="3.75" fill="#2200ff" fill-opacity="0.72" stroke="#000" stroke-opacity="0.75" stroke-width="0.9"/>
<circle cx="289.23" cy="305.15" r="3.75" fill="#2200ff" fill-opacity="0.72" stroke="#000" stroke-opacity="0.75" stroke-width="0.9"/>
<circle cx="290.53" cy="306.85" r="3.75" fill="#2200ff" fill-opacity="0.72" stroke="#000" stroke-opacity="0.75" stroke-width="0.9"/>
<circle cx="291.67" cy="304.96" r="3.75" fill="#2200ff" fill-opacity="0.72" stroke="#000" stroke-opacity="0.75" stroke-width="0.9"/>
<circle cx="292.44" cy="295.37" r="3.75" fill="#2200ff" fill-opacity="0.72" stroke="#000" stroke-opacity="0.75" stroke-width="0.9"/>
<circle cx="293.56" cy="304.32" r="3.75" fill="#2200ff" fill-opacity="0.72" stroke="#000" stroke-opacity="0.75" stroke-width="0.9"/>
<circle cx="294.61" cy="295.69" r="3.75" fill="#2200ff" fill-opacity="0.72" stroke="#000" stroke-opacity="0.75" stroke-width="0.9"/>
<circle cx="295.86" cy="302.51" r="3.75" fill="#2200ff" fill-opacity="0.72" stroke="#000" stroke-opacity="0.75" stroke-width="0.9"/>
<circle cx="296.62" cy="303.73" r="3.75" fill="#2200ff" fill-opacity="0.72" stroke="#000" stroke-opacity="0.75" stroke-width="0.9"/>
<circle cx="298.04" cy="314.83" r="3.75" fill="#2200ff" fill-opacity="0.72" stroke="#000" stroke-opacity="0.75" stroke-width="0.9"/>
<circle cx="299.02" cy="316.8" r="3.75" fill="#2200ff" fill-opacity="0.72" stroke="#000" stroke-opacity="0.75" stroke-width="0.9"/>
<circle cx="300.08" cy="318.03" r="3.75" fill="#2200ff" fill-opacity="0.72" stroke="#000" stroke-opacity="0.75" stroke-width="0.9"/>
<circle cx="301.05" cy="329.52" r="3.75" fill="#2200ff" fill-opacity="0.72" stroke="#000" stroke-opacity="0.75" stroke-width="0.9"/>
<circle cx="301.88" cy="319.29" r="3.75" fill="#2200ff" fill-opacity="0.72" stroke="#000" stroke-opacity="0.75" stroke-width="0.9"/>
<circle cx="303.2" cy="322.96" r="3.75" fill="#2200ff" fill-opacity="0.72" stroke="#000" stroke-opacity="0.75" stroke-width="0.9"/>
<circle cx="303.92" cy="334.12" r="3.75" fill="#2200ff" fill-opacity="0.72" stroke="#000" stroke-opacity="0.75" stroke-width="0.9"/>
<circle cx="305.01" cy="338.94" r="3.75" fill="#2200ff" fill-opacity="0.72" stroke="#000" stroke-opacity="0.75" stroke-width="0.9"/>
<circle cx="305.91" cy="336.23" r="3.75" fill="#2200ff" fill-opacity="0.72" stroke="#000" stroke-opacity="0.75" stroke-width="0.9"/>
<circle cx="307.32" cy="334.73" r="3.75" fill="#2200ff" fill-opacity="0.72" stroke="#000" stroke-opacity="0.75" stroke-width="0.9"/>
<circle cx="308.14" cy="336.53" r="3.75" fill="#2200ff" fill-opacity="0.72" stroke="#000" stroke-opacity="0.75" stroke-width="0.9"/>
<circle cx="309.2" cy="334.31" r="3.75" fill="#2200ff" fill-opacity="0.72" stroke="#000" stroke-opacity="0.75" stroke-width="0.9"/>
<circle cx="310.53" cy="340.24" r="3.75" fill="#2200ff" fill-opacity="0.72" stroke="#000" stroke-opacity="0.75" stroke-width="0.9"/>
<circle cx="311.48" cy="339.78" r="3.75" fill="#2200ff" fill-opacity="0.72" stroke="#000" stroke-opacity="0.75" stroke-width="0.9"/>
<circle cx="312.45" cy="345.19" r="3.75" fill="#2200ff" fill-opacity="0.72" stroke="#000" stroke-opacity="0.75" stroke-width="0.9"/>
<circle cx="313.56" cy="335.57" r="3.75" fill="#2200ff" fill-opacity="0.72" stroke="#000" stroke-opacity="0.75" stroke-width="0.9"/>
<circle cx="314.68" cy="346.79" r="3.75" fill="#2200ff" fill-opacity="0.72" stroke="#000" stroke-opacity="0.75" stroke-width="0.9"/>
<circle cx="315.55" cy="338.28" r="3.75" fill="#2200ff" fill-opacity="0.72" stroke="#000" stroke-opacity="0.75" stroke-width="0.9"/>
<circle cx="316.69" cy="342.89" r="3.75" fill="#2200ff" fill-opacity="0.72" stroke="#000" stroke-opacity="0.75" stroke-width="0.9"/>
<circle cx="317.67" cy="333.85" r="3.75" fill="#2200ff" fill-opacity="0.72" stroke="#000" stroke-opacity="0.75" stroke-width="0.9"/>
<circle cx="318.82" cy="340.5" r="3.75" fill="#2200ff" fill-opacity="0.72" stroke="#000" stroke-opacity="0.75" stroke-width="0.9"/>
<circle cx="319.75" cy="324.11" r="3.75" fill="#2200ff" fill-opacity="0.72" stroke="#000" stroke-opacity="0.75" stroke-width="0.9"/>
<circle cx="320.98" cy="343.66" r="3.75" fill="#2200ff" fill-opacity="0.72" stroke="#000" stroke-opacity="0.75" stroke-width="0.9"/>
<circle cx="321.94" cy="352.43" r="3.75" fill="#2200ff" fill-opacity="0.72" stroke="#000" stroke-opacity="0.75" stroke-width="0.9"/>
<circle cx="322.85" cy="345.03" r="3.75" fill="#2200ff" fill-opacity="0.72" stroke="#000" stroke-opacity="0.75" stroke-width="0.9"/>
<circle cx="324.07" cy="333.26" r="3.75" fill="#2200ff" fill-opacity="0.72" stroke="#000" stroke-opacity="0.75" stroke-width="0.9"/>
<circle cx="325.16" cy="336.46" r="3.75" fill="#2200ff" fill-opacity="0.72" stroke="#000" stroke-opacity="0.75" stroke-width="0.9"/>
<circle cx="325.82" cy="336.37" r="3.75" fill="#2200ff" fill-opacity="0.72" stroke="#000" stroke-opacity="0.75" stroke-width="0.9"/>
<circle cx="326.86" cy="337.23" r="3.75" fill="#2200ff" fill-opacity="0.72" stroke="#000" stroke-opacity="0.75" stroke-width="0.9"/>
<circle cx="327.99" cy="337.71" r="3.75" fill="#2200ff" fill-opacity="0.72" stroke="#000" stroke-opacity="0.75" stroke-width="0.9"/>
<circle cx="328.96" cy="341.38" r="3.75" fill="#2200ff" fill-opacity="0.72" stroke="#000" stroke-opacity="0.75" stroke-width="0.9"/>
<circle cx="330.45" cy="345.86" r="3.75" fill="#2200ff" fill-opacity="0.72" stroke="#000" stroke-opacity="0.75" stroke-width="0.9"/>
<circle cx="331.5" cy="338.3" r="3.75" fill="#2200ff" fill-opacity="0.72" stroke="#000" stroke-opacity="0.75" stroke-width="0.9"/>
<circle cx="332.05" cy="353.14" r="3.75" fill="#2200ff" fill-opacity="0.72" stroke="#000" stroke-opacity="0.75" stroke-width="0.9"/>
<circle cx="333.2" cy="331.69" r="3.75" fill="#2200ff" fill-opacity="0.72" stroke="#000" stroke-opacity="0.75" stroke-width="0.9"/>
<circle cx="334.24" cy="341.14" r="3.75" fill="#2200ff" fill-opacity="0.72" stroke="#000" stroke-opacity="0.75" stroke-width="0.9"/>
<circle cx="335.57" cy="344.87" r="3.75" fill="#2200ff" fill-opacity="0.72" stroke="#000" stroke-opacity="0.75" stroke-width="0.9"/>
<circle cx="336.39" cy="334.4" r="3.75" fill="#2200ff" fill-opacity="0.72" stroke="#000" stroke-opacity="0.75" stroke-width="0.9"/>
<circle cx="337.39" cy="330.76" r="3.75" fill="#2200ff" fill-opacity="0.72" stroke="#000" stroke-opacity="0.75" stroke-width="0.9"/>
<circle cx="338.81" cy="333.58" r="3.75" fill="#2200ff" fill-opacity="0.72" stroke="#000" stroke-opacity="0.75" stroke-width="0.9"/>
<circle cx="339.88" cy="336.61" r="3.75" fill="#2200ff" fill-opacity="0.72" stroke="#000" stroke-opacity="0.75" stroke-width="0.9"/>
<circle cx="340.59" cy="352.35" r="3.75" fill="#2200ff" fill-opacity="0.72" stroke="#000" stroke-opacity="0.75" stroke-width="0.9"/>
<circle cx="341.61" cy="330.54" r="3.75" fill="#2200ff" fill-opacity="0.72" stroke="#000" stroke-opacity="0.75" stroke-width="0.9"/>
<circle cx="342.85" cy="341.87" r="3.75" fill="#2200ff" fill-opacity="0.72" stroke="#000" stroke-opacity="0.75" stroke-width="0.9"/>
<circle cx="343.55" cy="337.03" r="3.75" fill="#2200ff" fill-opacity="0.72" stroke="#000" stroke-opacity="0.75" stroke-width="0.9"/>
<circle cx="344.97" cy="330.94" r="3.75" fill="#2200ff" fill-opacity="0.72" stroke="#000" stroke-opacity="0.75" stroke-width="0.9"/>
<circle cx="346.07" cy="337.73" r="3.75" fill="#2200ff" fill-opacity="0.72" stroke="#000" stroke-opacity="0.75" stroke-width="0.9"/>
<circle cx="346.88" cy="343.63" r="3.75" fill="#2200ff" fill-opacity="0.72" stroke="#000" stroke-opacity="0.75" stroke-width="0.9"/>
<circle cx="348.18" cy="330.86" r="3.75" fill="#2200ff" fill-opacity="0.72" stroke="#000" stroke-opacity="0.75" stroke-width="0.9"/>
<circle cx="348.87" cy="338.46" r="3.75" fill="#2200ff" fill-opacity="0.72" stroke="#000" stroke-opacity="0.75" stroke-width="0.9"/>
<circle cx="350.14" cy="343.71" r="3.75" fill="#2200ff" fill-opacity="0.72" stroke="#000" stroke-opacity="0.75" stroke-width="0.9"/>
<circle cx="350.98" cy="339.3" r="3.75" fill="#2200ff" fill-opacity="0.72" stroke="#000" stroke-opacity="0.75" stroke-width="0.9"/>
<circle cx="352.11" cy="340.44" r="3.75" fill="#2200ff" fill-opacity="0.72" stroke="#000" stroke-opacity="0.75" stroke-width="0.9"/>
<circle cx="353.24" cy="340.08" r="3.75" fill="#2200ff" fill-opacity="0.72" stroke="#000" stroke-opacity="0.75" stroke-width="0.9"/>
<circle cx="354.5" cy="338.14" r="3.75" fill="#2200ff" fill-opacity="0.72" stroke="#000" stroke-opacity="0.75" stroke-width="0.9"/>
<circle cx="355.26" cy="342.71" r="3.75" fill="#2200ff" fill-opacity="0.72" stroke="#000" stroke-opacity="0.75" stroke-width="0.9"/>
<circle cx="356.14" cy="338.7" r="3.75" fill="#2200ff" fill-opacity="0.72" stroke="#000" stroke-opacity="0.75" stroke-width="0.9"/>
<circle cx="357.23" cy="346.72" r="3.75" fill="#2200ff" fill-opacity="0.72" stroke="#000" stroke-opacity="0.75" stroke-width="0.9"/>
<circle cx="358.47" cy="344.69" r="3.75" fill="#2200ff" fill-opacity="0.72" stroke="#000" stroke-opacity="0.75" stroke-width="0.9"/>
<circle cx="359.42" cy="342.6" r="3.75" fill="#2200ff" fill-opacity="0.72" stroke="#000" stroke-opacity="0.75" stroke-width="0.9"/>
<circle cx="360.43" cy="351.15" r="3.75" fill="#2200ff" fill-opacity="0.72" stroke="#000" stroke-opacity="0.75" stroke-width="0.9"/>
<circle cx="361.49" cy="320.98" r="3.75" fill="#2200ff" fill-opacity="0.72" stroke="#000" stroke-opacity="0.75" stroke-width="0.9"/>
<circle cx="362.63" cy="341.69" r="3.75" fill="#2200ff" fill-opacity="0.72" stroke="#000" stroke-opacity="0.75" stroke-width="0.9"/>
<circle cx="363.62" cy="337.04" r="3.75" fill="#2200ff" fill-opacity="0.72" stroke="#000" stroke-opacity="0.75" stroke-width="0.9"/>
<circle cx="364.56" cy="340.59" r="3.75" fill="#2200ff" fill-opacity="0.72" stroke="#000" stroke-opacity="0.75" stroke-width="0.9"/>
<circle cx="365.68" cy="332.66" r="3.75" fill="#2200ff" fill-opacity="0.72" stroke="#000" stroke-opacity="0.75" stroke-width="0.9"/>
<circle cx="367.04" cy="339.61" r="3.75" fill="#2200ff" fill-opacity="0.72" stroke="#000" stroke-opacity="0.75" stroke-width="0.9"/>
<circle cx="367.94" cy="332.65" r="3.75" fill="#2200ff" fill-opacity="0.72" stroke="#000" stroke-opacity="0.75" stroke-width="0.9"/>
<circle cx="368.85" cy="346.9" r="3.75" fill="#2200ff" fill-opacity="0.72" stroke="#000" stroke-opacity="0.75" stroke-width="0.9"/>
<circle cx="369.72" cy="338.87" r="3.75" fill="#2200ff" fill-opacity="0.72" stroke="#000" stroke-opacity="0.75" stroke-width="0.9"/>
<circle cx="371.08" cy="334.2" r="3.75" fill="#2200ff" fill-opacity="0.72" stroke="#000" stroke-opacity="0.75" stroke-width="0.9"/>
<circle cx="372.2" cy="335.19" r="3.75" fill="#2200ff" fill-opacity="0.72" stroke="#000" stroke-opacity="0.75" stroke-width="0.9"/>
<circle cx="373.34" cy="339.74" r="3.75" fill="#2200ff" fill-opacity="0.72" stroke="#000" stroke-opacity="0.75" stroke-width="0.9"/>
<circle cx="374.1" cy="341.36" r="3.75" fill="#2200ff" fill-opacity="0.72" stroke="#000" stroke-opacity="0.75" stroke-width="0.9"/>
<circle cx="375.06" cy="335.54" r="3.75" fill="#2200ff" fill-opacity="0.72" stroke="#000" stroke-opacity="0.75" stroke-width="0.9"/>
<circle cx="376.06" cy="341.79" r="3.75" fill="#2200ff" fill-opacity="0.72" stroke="#000" stroke-opacity="0.75" stroke-width="0.9"/>
<circle cx="377.34" cy="343.38" r="3.75" fill="#2200ff" fill-opacity="0.72" stroke="#000" stroke-opacity="0.75" stroke-width="0.9"/>
<circle cx="378.3" cy="344.27" r="3.75" fill="#2200ff" fill-opacity="0.72" stroke="#000" stroke-opacity="0.75" stroke-width="0.9"/>
<circle cx="379.6" cy="352.07" r="3.75" fill="#2200ff" fill-opacity="0.72" stroke="#000" stroke-opacity="0.75" stroke-width="0.9"/>
<circle cx="380.34" cy="334.22" r="3.75" fill="#2200ff" fill-opacity="0.72" stroke="#000" stroke-opacity="0.75" stroke-width="0.9"/>
<circle cx="381.43" cy="344.22" r="3.75" fill="#2200ff" fill-opacity="0.72" stroke="#000" stroke-opacity="0.75" stroke-width="0.9"/>
<circle cx="382.62" cy="330.39" r="3.75" fill="#2200ff" fill-opacity="0.72" stroke="#000" stroke-opacity="0.75" stroke-width="0.9"/>
<circle cx="383.4" cy="347.84" r="3.75" fill="#2200ff" fill-opacity="0.72" stroke="#000" stroke-opacity="0.75" stroke-width="0.9"/>
<circle cx="384.58" cy="339.61" r="3.75" fill="#2200ff" fill-opacity="0.72" stroke="#000" stroke-opacity="0.75" stroke-width="0.9"/>
<circle cx="385.71" cy="345.3" r="3.75" fill="#2200ff" fill-opacity="0.72" stroke="#000" stroke-opacity="0.75" stroke-width="0.9"/>
<circle cx="386.6" cy="341.85" r="3.75" fill="#2200ff" fill-opacity="0.72" stroke="#000" stroke-opacity="0.75" stroke-width="0.9"/>
<circle cx="387.62" cy="318.82" r="3.75" fill="#2200ff" fill-opacity="0.72" stroke="#000" stroke-opacity="0.75" stroke-width="0.9"/>
<circle cx="388.92" cy="325.09" r="3.75" fill="#2200ff" fill-opacity="0.72" stroke="#000" stroke-opacity="0.75" stroke-width="0.9"/>
<circle cx="389.75" cy="311.06" r="3.75" fill="#2200ff" fill-opacity="0.72" stroke="#000" stroke-opacity="0.75" stroke-width="0.9"/>
<circle cx="390.68" cy="323.63" r="3.75" fill="#2200ff" fill-opacity="0.72" stroke="#000" stroke-opacity="0.75" stroke-width="0.9"/>
<circle cx="392.08" cy="320.66" r="3.75" fill="#2200ff" fill-opacity="0.72" stroke="#000" stroke-opacity="0.75" stroke-width="0.9"/>
<circle cx="392.82" cy="310.73" r="3.75" fill="#2200ff" fill-opacity="0.72" stroke="#000" stroke-opacity="0.75" stroke-width="0.9"/>
<circle cx="393.95" cy="307.43" r="3.75" fill="#2200ff" fill-opacity="0.72" stroke="#000" stroke-opacity="0.75" stroke-width="0.9"/>
<circle cx="394.84" cy="305.53" r="3.75" fill="#2200ff" fill-opacity="0.72" stroke="#000" stroke-opacity="0.75" stroke-width="0.9"/>
<circle cx="395.99" cy="300.81" r="3.75" fill="#2200ff" fill-opacity="0.72" stroke="#000" stroke-opacity="0.75" stroke-width="0.9"/>
<circle cx="397.31" cy="299.94" r="3.75" fill="#2200ff" fill-opacity="0.72" stroke="#000" stroke-opacity="0.75" stroke-width="0.9"/>
<circle cx="398.11" cy="311.02" r="3.75" fill="#2200ff" fill-opacity="0.72" stroke="#000" stroke-opacity="0.75" stroke-width="0.9"/>
<circle cx="399.45" cy="302.18" r="3.75" fill="#2200ff" fill-opacity="0.72" stroke="#000" stroke-opacity="0.75" stroke-width="0.9"/>
<circle cx="400.08" cy="301.03" r="3.75" fill="#2200ff" fill-opacity="0.72" stroke="#000" stroke-opacity="0.75" stroke-width="0.9"/>
<circle cx="401.53" cy="290.6" r="3.75" fill="#2200ff" fill-opacity="0.72" stroke="#000" stroke-opacity="0.75" stroke-width="0.9"/>
<circle cx="402.59" cy="308.67" r="3.75" fill="#2200ff" fill-opacity="0.72" stroke="#000" stroke-opacity="0.75" stroke-width="0.9"/>
<circle cx="403.24" cy="303.91" r="3.75" fill="#2200ff" fill-opacity="0.72" stroke="#000" stroke-opacity="0.75" stroke-width="0.9"/>
<circle cx="404.67" cy="302.17" r="3.75" fill="#2200ff" fill-opacity="0.72" stroke="#000" stroke-opacity="0.75" stroke-width="0.9"/>
<circle cx="405.65" cy="310.79" r="3.75" fill="#2200ff" fill-opacity="0.72" stroke="#000" stroke-opacity="0.75" stroke-width="0.9"/>
<circle cx="406.42" cy="316.2" r="3.75" fill="#2200ff" fill-opacity="0.72" stroke="#000" stroke-opacity="0.75" stroke-width="0.9"/>
<circle cx="407.38" cy="305.88" r="3.75" fill="#2200ff" fill-opacity="0.72" stroke="#000" stroke-opacity="0.75" stroke-width="0.9"/>
<circle cx="408.7" cy="298.42" r="3.75" fill="#2200ff" fill-opacity="0.72" stroke="#000" stroke-opacity="0.75" stroke-width="0.9"/>
<circle cx="409.86" cy="292.27" r="3.75" fill="#2200ff" fill-opacity="0.72" stroke="#000" stroke-opacity="0.75" stroke-width="0.9"/>
<circle cx="410.8" cy="304.35" r="3.75" fill="#2200ff" fill-opacity="0.72" stroke="#000" stroke-opacity="0.75" stroke-width="0.9"/>
<circle cx="411.77" cy="302.68" r="3.75" fill="#2200ff" fill-opacity="0.72" stroke="#000" stroke-opacity="0.75" stroke-width="0.9"/>
<circle cx="412.74" cy="305.22" r="3.75" fill="#2200ff" fill-opacity="0.72" stroke="#000" stroke-opacity="0.75" stroke-width="0.9"/>
<circle cx="414.08" cy="301.75" r="3.75" fill="#2200ff" fill-opacity="0.72" stroke="#000" stroke-opacity="0.75" stroke-width="0.9"/>
<circle cx="414.92" cy="314.24" r="3.75" fill="#2200ff" fill-opacity="0.72" stroke="#000" stroke-opacity="0.75" stroke-width="0.9"/>
<circle cx="416.16" cy="307.69" r="3.75" fill="#2200ff" fill-opacity="0.72" stroke="#000" stroke-opacity="0.75" stroke-width="0.9"/>
<circle cx="417.03" cy="314.71" r="3.75" fill="#2200ff" fill-opacity="0.72" stroke="#000" stroke-opacity="0.75" stroke-width="0.9"/>
<circle cx="417.98" cy="306.38" r="3.75" fill="#2200ff" fill-opacity="0.72" stroke="#000" stroke-opacity="0.75" stroke-width="0.9"/>
<circle cx="419.3" cy="292.08" r="3.75" fill="#2200ff" fill-opacity="0.72" stroke="#000" stroke-opacity="0.75" stroke-width="0.9"/>
<circle cx="420.15" cy="301.24" r="3.75" fill="#2200ff" fill-opacity="0.72" stroke="#000" stroke-opacity="0.75" stroke-width="0.9"/>
<circle cx="421.25" cy="298.43" r="3.75" fill="#2200ff" fill-opacity="0.72" stroke="#000" stroke-opacity="0.75" stroke-width="0.9"/>
<circle cx="422.18" cy="302.93" r="3.75" fill="#2200ff" fill-opacity="0.72" stroke="#000" stroke-opacity="0.75" stroke-width="0.9"/>
<circle cx="423.43" cy="302.63" r="3.75" fill="#2200ff" fill-opacity="0.72" stroke="#000" stroke-opacity="0.75" stroke-width="0.9"/>
<circle cx="424.46" cy="309.86" r="3.75" fill="#2200ff" fill-opacity="0.72" stroke="#000" stroke-opacity="0.75" stroke-width="0.9"/>
<circle cx="425.46" cy="296.01" r="3.75" fill="#2200ff" fill-opacity="0.72" stroke="#000" stroke-opacity="0.75" stroke-width="0.9"/>
<circle cx="426.34" cy="308.56" r="3.75" fill="#2200ff" fill-opacity="0.72" stroke="#000" stroke-opacity="0.75" stroke-width="0.9"/>
<circle cx="427.34" cy="299.03" r="3.75" fill="#2200ff" fill-opacity="0.72" stroke="#000" stroke-opacity="0.75" stroke-width="0.9"/>
<circle cx="428.26" cy="300.08" r="3.75" fill="#2200ff" fill-opacity="0.72" stroke="#000" stroke-opacity="0.75" stroke-width="0.9"/>
<circle cx="429.8" cy="296.1" r="3.75" fill="#2200ff" fill-opacity="0.72" stroke="#000" stroke-opacity="0.75" stroke-width="0.9"/>
<circle cx="430.4" cy="294.87" r="3.75" fill="#2200ff" fill-opacity="0.72" stroke="#000" stroke-opacity="0.75" stroke-width="0.9"/>
<circle cx="431.88" cy="305.07" r="3.75" fill="#2200ff" fill-opacity="0.72" stroke="#000" stroke-opacity="0.75" stroke-width="0.9"/>
<circle cx="432.85" cy="302.06" r="3.75" fill="#2200ff" fill-opacity="0.72" stroke="#000" stroke-opacity="0.75" stroke-width="0.9"/>
<circle cx="433.92" cy="296.94" r="3.75" fill="#2200ff" fill-opacity="0.72" stroke="#000" stroke-opacity="0.75" stroke-width="0.9"/>
<circle cx="434.72" cy="301.97" r="3.75" fill="#2200ff" fill-opacity="0.72" stroke="#000" stroke-opacity="0.75" stroke-width="0.9"/>
<circle cx="435.91" cy="303.13" r="3.75" fill="#2200ff" fill-opacity="0.72" stroke="#000" stroke-opacity="0.75" stroke-width="0.9"/>
<circle cx="436.97" cy="293.8" r="3.75" fill="#2200ff" fill-opacity="0.72" stroke="#000" stroke-opacity="0.75" stroke-width="0.9"/>
<circle cx="438.04" cy="297.26" r="3.75" fill="#2200ff" fill-opacity="0.72" stroke="#000" stroke-opacity="0.75" stroke-width="0.9"/>
<circle cx="438.85" cy="311.32" r="3.75" fill="#2200ff" fill-opacity="0.72" stroke="#000" stroke-opacity="0.75" stroke-width="0.9"/>
<circle cx="440.14" cy="305.85" r="3.75" fill="#2200ff" fill-opacity="0.72" stroke="#000" stroke-opacity="0.75" stroke-width="0.9"/>
<circle cx="440.8" cy="301.04" r="3.75" fill="#2200ff" fill-opacity="0.72" stroke="#000" stroke-opacity="0.75" stroke-width="0.9"/>
<circle cx="442.16" cy="304.67" r="3.75" fill="#2200ff" fill-opacity="0.72" stroke="#000" stroke-opacity="0.75" stroke-width="0.9"/>
<circle cx="443.14" cy="301.06" r="3.75" fill="#2200ff" fill-opacity="0.72" stroke="#000" stroke-opacity="0.75" stroke-width="0.9"/>
<circle cx="444.14" cy="307.11" r="3.75" fill="#2200ff" fill-opacity="0.72" stroke="#000" stroke-opacity="0.75" stroke-width="0.9"/>
<circle cx="445.25" cy="296.6" r="3.75" fill="#2200ff" fill-opacity="0.72" stroke="#000" stroke-opacity="0.75" stroke-width="0.9"/>
<circle cx="446.29" cy="290.57" r="3.75" fill="#2200ff" fill-opacity="0.72" stroke="#000" stroke-opacity="0.75" stroke-width="0.9"/>
<circle cx="447.22" cy="305.24" r="3.75" fill="#2200ff" fill-opacity="0.72" stroke="#000" stroke-opacity="0.75" stroke-width="0.9"/>
<circle cx="448.56" cy="310.21" r="3.75" fill="#2200ff" fill-opacity="0.72" stroke="#000" stroke-opacity="0.75" stroke-width="0.9"/>
<circle cx="449.18" cy="291.14" r="3.75" fill="#2200ff" fill-opacity="0.72" stroke="#000" stroke-opacity="0.75" stroke-width="0.9"/>
<circle cx="450.37" cy="296.38" r="3.75" fill="#2200ff" fill-opacity="0.72" stroke="#000" stroke-opacity="0.75" stroke-width="0.9"/>
<circle cx="451.61" cy="308.63" r="3.75" fill="#2200ff" fill-opacity="0.72" stroke="#000" stroke-opacity="0.75" stroke-width="0.9"/>
<circle cx="452.4" cy="293.59" r="3.75" fill="#2200ff" fill-opacity="0.72" stroke="#000" stroke-opacity="0.75" stroke-width="0.9"/>
<circle cx="453.37" cy="294.15" r="3.75" fill="#2200ff" fill-opacity="0.72" stroke="#000" stroke-opacity="0.75" stroke-width="0.9"/>
<circle cx="454.47" cy="315.52" r="3.75" fill="#2200ff" fill-opacity="0.72" stroke="#000" stroke-opacity="0.75" stroke-width="0.9"/>
<circle cx="455.78" cy="300.39" r="3.75" fill="#2200ff" fill-opacity="0.72" stroke="#000" stroke-opacity="0.75" stroke-width="0.9"/>
<circle cx="456.99" cy="304.08" r="3.75" fill="#2200ff" fill-opacity="0.72" stroke="#000" stroke-opacity="0.75" stroke-width="0.9"/>
<circle cx="458" cy="311.9" r="3.75" fill="#2200ff" fill-opacity="0.72" stroke="#000" stroke-opacity="0.75" stroke-width="0.9"/>
<circle cx="458.73" cy="290.52" r="3.75" fill="#2200ff" fill-opacity="0.72" stroke="#000" stroke-opacity="0.75" stroke-width="0.9"/>
<circle cx="460.07" cy="300.48" r="3.75" fill="#2200ff" fill-opacity="0.72" stroke="#000" stroke-opacity="0.75" stroke-width="0.9"/>
<circle cx="461" cy="309.67" r="3.75" fill="#2200ff" fill-opacity="0.72" stroke="#000" stroke-opacity="0.75" stroke-width="0.9"/>
<circle cx="461.82" cy="305.04" r="3.75" fill="#2200ff" fill-opacity="0.72" stroke="#000" stroke-opacity="0.75" stroke-width="0.9"/>
<circle cx="462.78" cy="299.72" r="3.75" fill="#2200ff" fill-opacity="0.72" stroke="#000" stroke-opacity="0.75" stroke-width="0.9"/>
<circle cx="464.26" cy="301.74" r="3.75" fill="#2200ff" fill-opacity="0.72" stroke="#000" stroke-opacity="0.75" stroke-width="0.9"/>
<circle cx="465.33" cy="314.97" r="3.75" fill="#2200ff" fill-opacity="0.72" stroke="#000" stroke-opacity="0.75" stroke-width="0.9"/>
<circle cx="466.13" cy="306.6" r="3.75" fill="#2200ff" fill-opacity="0.72" stroke="#000" stroke-opacity="0.75" stroke-width="0.9"/>
<circle cx="467.34" cy="310.69" r="3.75" fill="#2200ff" fill-opacity="0.72" stroke="#000" stroke-opacity="0.75" stroke-width="0.9"/>
<circle cx="468.42" cy="323.15" r="3.75" fill="#2200ff" fill-opacity="0.72" stroke="#000" stroke-opacity="0.75" stroke-width="0.9"/>
<circle cx="469.38" cy="309.09" r="3.75" fill="#2200ff" fill-opacity="0.72" stroke="#000" stroke-opacity="0.75" stroke-width="0.9"/>
<circle cx="470.31" cy="307.99" r="3.75" fill="#2200ff" fill-opacity="0.72" stroke="#000" stroke-opacity="0.75" stroke-width="0.9"/>
<path d="M167.87 302.97 L168.63 302.92 L169.39 302.88 L170.15 302.84 L170.9 302.79 L171.66 302.75 L172.42 302.71 L173.18 302.66 L173.94 302.62 L174.69 302.58 L175.45 302.54 L176.21 302.5 L176.97 302.46 L177.73 302.42 L178.49 302.38 L179.24 302.34 L180 302.3 L180.76 302.26 L181.52 302.22 L182.28 302.18 L183.03 302.14 L183.79 302.1 L184.55 302.07 L185.31 302.03 L186.07 301.99 L186.82 301.96 L187.58 301.92 L188.34 301.88 L189.1 301.85 L189.86 301.81 L190.62 301.78 L191.37 301.74 L192.13 301.71 L192.89 301.67 L193.65 301.64 L194.41 301.61 L195.16 301.57 L195.92 301.54 L196.68 301.51 L197.44 301.47 L198.2 301.44 L198.95 301.41 L199.71 301.38 L200.47 301.35 L201.23 301.32 L201.99 301.29 L202.74 301.26 L203.5 301.23 L204.26 301.2 L205.02 301.17 L205.78 301.14 L206.54 301.11 L207.29 301.08 L208.05 301.05 L208.81 301.03 L209.57 301 L210.33 300.97 L211.08 300.94 L211.84 300.92 L212.6 300.89 L213.36 300.87 L214.12 300.84 L214.87 300.81 L215.63 300.79 L216.39 300.77 L217.15 300.74 L217.91 300.72 L218.66 300.69 L219.42 300.67 L220.18 300.65 L220.94 300.62 L221.7 300.6 L222.46 300.58 L223.21 300.56 L223.97 300.54 L224.73 300.51 L225.49 300.49 L226.25 300.47 L227 300.45 L227.76 300.43 L228.52 300.41 L229.28 300.39 L230.04 300.37 L230.79 300.36 L231.55 300.34 L232.31 300.32 L233.07 300.3 L233.83 300.28 L234.58 300.27 L235.34 300.25 L236.1 300.23 L236.86 300.22 L237.62 300.2 L238.38 300.19 L239.13 300.17 L239.89 300.15 L240.65 300.14 L241.41 300.13 L242.17 300.11 L242.92 300.1 L243.68 300.08 L244.44 300.07 L245.2 300.06 L245.96 300.05 L246.71 300.03 L247.47 300.02 L248.23 300.01 L248.99 300 L249.75 299.99 L250.5 299.98 L251.26 299.97 L252.02 299.96 L252.78 299.95 L253.54 299.94 L254.3 299.93 L255.05 299.92 L255.81 299.91 L256.57 299.9 L257.33 299.89 L258.09 299.89 L258.84 299.88 L259.6 299.87 L260.36 299.87 L261.12 299.86 L261.88 299.85 L262.63 299.85 L263.39 299.84 L264.15 299.84 L264.91 299.83 L265.67 299.83 L266.43 299.82 L267.18 299.82 L267.94 299.82 L268.7 299.81 L269.46 299.81 L270.22 299.81 L270.97 299.8 L271.73 299.8 L272.49 299.8 L273.25 299.8 L274.01 299.8 L274.76 299.8 L275.52 299.8 L276.28 299.8 L277.04 299.8 L277.8 299.8 L278.55 299.8 L279.31 299.8 L280.07 299.8 L280.83 299.8 L281.59 299.8 L282.35 299.81 L283.1 299.81 L283.86 299.81 L284.62 299.81 L285.38 299.82 L286.14 299.82 L286.89 299.83 L287.65 299.83 L288.41 299.83 L289.17 299.84 L289.93 299.85 L290.68 299.85 L291.44 299.86 L292.2 299.86 L292.96 299.87 L293.72 299.88 L294.47 299.88 L295.23 302.14 L295.99 305.02 L296.75 307.9 L297.51 310.78 L298.27 313.65 L299.02 316.53 L299.78 319.41 L300.54 322.29 L301.3 325.17 L302.06 328.05 L302.81 330.93 L303.57 333.81 L304.33 336.69 L305.09 337.99 L305.85 337.99 L306.6 337.99 L307.36 337.99 L308.12 337.99 L308.88 337.99 L309.64 337.99 L310.39 337.99 L311.15 337.99 L311.91 337.99 L312.67 337.99 L313.43 337.99 L314.19 337.99 L314.94 337.99 L315.7 337.99 L316.46 337.99 L317.22 337.99 L317.98 337.99 L318.73 337.99 L319.49 337.99 L320.25 337.99 L321.01 337.99 L321.77 337.99 L322.52 337.99 L323.28 337.99 L324.04 337.99 L324.8 337.99 L325.56 337.99 L326.31 337.99 L327.07 337.99 L327.83 337.99 L328.59 337.99 L329.35 337.99 L330.11 337.99 L330.86 337.99 L331.62 337.99 L332.38 337.99 L333.14 337.99 L333.9 337.99 L334.65 337.99 L335.41 337.99 L336.17 337.99 L336.93 337.99 L337.69 337.99 L338.44 337.99 L339.2 337.99 L339.96 337.99 L340.72 337.99 L341.48 337.99 L342.24 337.99 L342.99 337.99 L343.75 337.99 L344.51 337.99 L345.27 337.99 L346.03 337.99 L346.78 337.99 L347.54 337.99 L348.3 337.99 L349.06 337.99 L349.82 337.99 L350.57 337.99 L351.33 337.99 L352.09 337.99 L352.85 337.99 L353.61 337.99 L354.36 337.99 L355.12 337.99 L355.88 337.99 L356.64 337.99 L357.4 337.99 L358.16 337.99 L358.91 337.99 L359.67 337.99 L360.43 337.99 L361.19 337.99 L361.95 337.99 L362.7 337.99 L363.46 337.99 L364.22 337.99 L364.98 337.99 L365.74 337.99 L366.49 337.99 L367.25 337.99 L368.01 337.99 L368.77 337.99 L369.53 337.99 L370.28 337.99 L371.04 337.99 L371.8 337.99 L372.56 337.99 L373.32 337.99 L374.08 337.99 L374.83 337.99 L375.59 337.99 L376.35 337.99 L377.11 337.99 L377.87 337.99 L378.62 337.99 L379.38 337.99 L380.14 337.99 L380.9 337.99 L381.66 337.99 L382.41 337.99 L383.17 337.99 L383.93 337.99 L384.69 337.99 L385.45 337.99 L386.2 336.7 L386.96 334.02 L387.72 331.34 L388.48 328.66 L389.24 325.98 L390 323.3 L390.75 320.62 L391.51 317.94 L392.27 315.26 L393.03 312.58 L393.79 309.9 L394.54 307.22 L395.3 304.54 L396.06 302.53 L396.82 302.57 L397.58 302.6 L398.33 302.64 L399.09 302.67 L399.85 302.71 L400.61 302.74 L401.37 302.78 L402.12 302.81 L402.88 302.85 L403.64 302.88 L404.4 302.92 L405.16 302.95 L405.92 302.99 L406.67 303.02 L407.43 303.06 L408.19 303.09 L408.95 303.13 L409.71 303.16 L410.46 303.2 L411.22 303.23 L411.98 303.27 L412.74 303.3 L413.5 303.34 L414.25 303.37 L415.01 303.41 L415.77 303.44 L416.53 303.48 L417.29 303.51 L418.05 303.55 L418.8 303.58 L419.56 303.62 L420.32 303.65 L421.08 303.69 L421.84 303.72 L422.59 303.76 L423.35 303.79 L424.11 303.83 L424.87 303.86 L425.63 303.9 L426.38 303.93 L427.14 303.97 L427.9 304 L428.66 304.04 L429.42 304.07 L430.17 304.11 L430.93 304.14 L431.69 304.18 L432.45 304.21 L433.21 304.25 L433.97 304.28 L434.72 304.32 L435.48 304.35 L436.24 304.39 L437 304.42 L437.76 304.46 L438.51 304.49 L439.27 304.53 L440.03 304.56 L440.79 304.6 L441.55 304.63 L442.3 304.67 L443.06 304.7 L443.82 304.74 L444.58 304.77 L445.34 304.81 L446.09 304.84 L446.85 304.88 L447.61 304.91 L448.37 304.95 L449.13 304.98 L449.89 305.02 L450.64 305.05 L451.4 305.09 L452.16 305.12 L452.92 305.16 L453.68 305.19 L454.43 305.23 L455.19 305.26 L455.95 305.3 L456.71 305.33 L457.47 305.37 L458.22 305.4 L458.98 305.44 L459.74 305.47 L460.5 305.51 L461.26 305.54 L462.01 305.58 L462.77 305.61 L463.53 305.65 L464.29 305.68 L465.05 305.72 L465.81 305.75 L466.56 305.79 L467.32 305.82 L468.08 305.86 L468.84 305.89 L469.6 305.93 L470.35 305.96 L471.11 306" fill="none" stroke="#000" stroke-width="2"/>
</g>
<rect x="153.2" y="220.2" width="333.1" height="156.5" fill="none" stroke="#262626" stroke-width="1.5"/>
<line x1="145.2" y1="330.3" x2="153.2" y2="330.3" stroke="#1a1a1a" stroke-width="1.5" />
<text x="140.6" y="336.1" font-size="16.3" text-anchor="end" font-weight="normal" fill="#111" >0</text>
<line x1="145.2" y1="280.7" x2="153.2" y2="280.7" stroke="#1a1a1a" stroke-width="1.5" />
<text x="140.6" y="286.5" font-size="16.3" text-anchor="end" font-weight="normal" fill="#111" >1,000</text>
<line x1="145.2" y1="231.1" x2="153.2" y2="231.1" stroke="#1a1a1a" stroke-width="1.5" />
<text x="140.6" y="236.9" font-size="16.3" text-anchor="end" font-weight="normal" fill="#111" >2,000</text>
<line x1="162.4" y1="376.7" x2="162.4" y2="385.2" stroke="#1a1a1a" stroke-width="1.5" />
<text x="162.4" y="406.2" font-size="16.3" text-anchor="middle" font-weight="normal" fill="#111" >−4</text>
<line x1="253.6" y1="376.7" x2="253.6" y2="385.2" stroke="#1a1a1a" stroke-width="1.5" />
<text x="253.6" y="406.2" font-size="16.3" text-anchor="middle" font-weight="normal" fill="#111" >−2</text>
<line x1="344.8" y1="376.7" x2="344.8" y2="385.2" stroke="#1a1a1a" stroke-width="1.5" />
<text x="344.8" y="406.2" font-size="16.3" text-anchor="middle" font-weight="normal" fill="#111" >0</text>
<line x1="436" y1="376.7" x2="436" y2="385.2" stroke="#1a1a1a" stroke-width="1.5" />
<text x="436" y="406.2" font-size="16.3" text-anchor="middle" font-weight="normal" fill="#111" >2</text>
<text x="161.8" y="254.4" font-size="17" font-family="Liberation Serif" font-style="italic" fill="#111">λ</text>
<text x="174.4" y="254.4" font-size="16.6" text-anchor="start" font-weight="normal" fill="#111" >=</text>
<text x="189.8" y="254.4" font-size="16.6" text-anchor="start" font-weight="normal" fill="#111" >1.05 μm</text>
<rect x="221" y="410" width="198" height="26" fill="#fff"/>
<text x="319.6" y="429.3" font-size="16.6" text-anchor="middle" font-weight="normal" fill="#111" >Time from mid-eclipse (h)</text>
<clipPath id="c13"><rect x="549.4" y="40.2" width="333.5" height="156.5"/></clipPath>
<rect x="549.4" y="40.2" width="333.5" height="156.5" fill="#fff"/>
<g clip-path="url(#c13)">
<circle cx="564.6" cy="102.15" r="3.75" fill="#00ff4c" fill-opacity="0.72" stroke="#000" stroke-opacity="0.75" stroke-width="0.9"/>
<circle cx="565.9" cy="108.74" r="3.75" fill="#00ff4c" fill-opacity="0.72" stroke="#000" stroke-opacity="0.75" stroke-width="0.9"/>
<circle cx="566.58" cy="95.88" r="3.75" fill="#00ff4c" fill-opacity="0.72" stroke="#000" stroke-opacity="0.75" stroke-width="0.9"/>
<circle cx="567.61" cy="91.38" r="3.75" fill="#00ff4c" fill-opacity="0.72" stroke="#000" stroke-opacity="0.75" stroke-width="0.9"/>
<circle cx="568.88" cy="88.66" r="3.75" fill="#00ff4c" fill-opacity="0.72" stroke="#000" stroke-opacity="0.75" stroke-width="0.9"/>
<circle cx="569.62" cy="87.99" r="3.75" fill="#00ff4c" fill-opacity="0.72" stroke="#000" stroke-opacity="0.75" stroke-width="0.9"/>
<circle cx="570.67" cy="110.61" r="3.75" fill="#00ff4c" fill-opacity="0.72" stroke="#000" stroke-opacity="0.75" stroke-width="0.9"/>
<circle cx="571.84" cy="88.4" r="3.75" fill="#00ff4c" fill-opacity="0.72" stroke="#000" stroke-opacity="0.75" stroke-width="0.9"/>
<circle cx="572.55" cy="95.94" r="3.75" fill="#00ff4c" fill-opacity="0.72" stroke="#000" stroke-opacity="0.75" stroke-width="0.9"/>
<circle cx="573.99" cy="90.01" r="3.75" fill="#00ff4c" fill-opacity="0.72" stroke="#000" stroke-opacity="0.75" stroke-width="0.9"/>
<circle cx="574.97" cy="89.02" r="3.75" fill="#00ff4c" fill-opacity="0.72" stroke="#000" stroke-opacity="0.75" stroke-width="0.9"/>
<circle cx="575.95" cy="109.66" r="3.75" fill="#00ff4c" fill-opacity="0.72" stroke="#000" stroke-opacity="0.75" stroke-width="0.9"/>
<circle cx="577.06" cy="92.36" r="3.75" fill="#00ff4c" fill-opacity="0.72" stroke="#000" stroke-opacity="0.75" stroke-width="0.9"/>
<circle cx="578.02" cy="100.4" r="3.75" fill="#00ff4c" fill-opacity="0.72" stroke="#000" stroke-opacity="0.75" stroke-width="0.9"/>
<circle cx="578.85" cy="93.44" r="3.75" fill="#00ff4c" fill-opacity="0.72" stroke="#000" stroke-opacity="0.75" stroke-width="0.9"/>
<circle cx="579.83" cy="104.77" r="3.75" fill="#00ff4c" fill-opacity="0.72" stroke="#000" stroke-opacity="0.75" stroke-width="0.9"/>
<circle cx="580.8" cy="100.19" r="3.75" fill="#00ff4c" fill-opacity="0.72" stroke="#000" stroke-opacity="0.75" stroke-width="0.9"/>
<circle cx="581.69" cy="89.98" r="3.75" fill="#00ff4c" fill-opacity="0.72" stroke="#000" stroke-opacity="0.75" stroke-width="0.9"/>
<circle cx="583.05" cy="85.36" r="3.75" fill="#00ff4c" fill-opacity="0.72" stroke="#000" stroke-opacity="0.75" stroke-width="0.9"/>
<circle cx="584" cy="116.86" r="3.75" fill="#00ff4c" fill-opacity="0.72" stroke="#000" stroke-opacity="0.75" stroke-width="0.9"/>
<circle cx="584.94" cy="92.57" r="3.75" fill="#00ff4c" fill-opacity="0.72" stroke="#000" stroke-opacity="0.75" stroke-width="0.9"/>
<circle cx="586.01" cy="96.97" r="3.75" fill="#00ff4c" fill-opacity="0.72" stroke="#000" stroke-opacity="0.75" stroke-width="0.9"/>
<circle cx="586.9" cy="89.52" r="3.75" fill="#00ff4c" fill-opacity="0.72" stroke="#000" stroke-opacity="0.75" stroke-width="0.9"/>
<circle cx="587.95" cy="86.67" r="3.75" fill="#00ff4c" fill-opacity="0.72" stroke="#000" stroke-opacity="0.75" stroke-width="0.9"/>
<circle cx="588.83" cy="103.18" r="3.75" fill="#00ff4c" fill-opacity="0.72" stroke="#000" stroke-opacity="0.75" stroke-width="0.9"/>
<circle cx="589.91" cy="88.52" r="3.75" fill="#00ff4c" fill-opacity="0.72" stroke="#000" stroke-opacity="0.75" stroke-width="0.9"/>
<circle cx="590.78" cy="97.67" r="3.75" fill="#00ff4c" fill-opacity="0.72" stroke="#000" stroke-opacity="0.75" stroke-width="0.9"/>
<circle cx="591.85" cy="90.74" r="3.75" fill="#00ff4c" fill-opacity="0.72" stroke="#000" stroke-opacity="0.75" stroke-width="0.9"/>
<circle cx="592.84" cy="93.16" r="3.75" fill="#00ff4c" fill-opacity="0.72" stroke="#000" stroke-opacity="0.75" stroke-width="0.9"/>
<circle cx="594.08" cy="88.13" r="3.75" fill="#00ff4c" fill-opacity="0.72" stroke="#000" stroke-opacity="0.75" stroke-width="0.9"/>
<circle cx="595.24" cy="101.05" r="3.75" fill="#00ff4c" fill-opacity="0.72" stroke="#000" stroke-opacity="0.75" stroke-width="0.9"/>
<circle cx="596.24" cy="81.37" r="3.75" fill="#00ff4c" fill-opacity="0.72" stroke="#000" stroke-opacity="0.75" stroke-width="0.9"/>
<circle cx="596.8" cy="80.2" r="3.75" fill="#00ff4c" fill-opacity="0.72" stroke="#000" stroke-opacity="0.75" stroke-width="0.9"/>
<circle cx="598.21" cy="77.58" r="3.75" fill="#00ff4c" fill-opacity="0.72" stroke="#000" stroke-opacity="0.75" stroke-width="0.9"/>
<circle cx="599.12" cy="84.8" r="3.75" fill="#00ff4c" fill-opacity="0.72" stroke="#000" stroke-opacity="0.75" stroke-width="0.9"/>
<circle cx="600.24" cy="81.82" r="3.75" fill="#00ff4c" fill-opacity="0.72" stroke="#000" stroke-opacity="0.75" stroke-width="0.9"/>
<circle cx="601.26" cy="87.26" r="3.75" fill="#00ff4c" fill-opacity="0.72" stroke="#000" stroke-opacity="0.75" stroke-width="0.9"/>
<circle cx="602.26" cy="94.5" r="3.75" fill="#00ff4c" fill-opacity="0.72" stroke="#000" stroke-opacity="0.75" stroke-width="0.9"/>
<circle cx="603.02" cy="89.8" r="3.75" fill="#00ff4c" fill-opacity="0.72" stroke="#000" stroke-opacity="0.75" stroke-width="0.9"/>
<circle cx="604.33" cy="93.16" r="3.75" fill="#00ff4c" fill-opacity="0.72" stroke="#000" stroke-opacity="0.75" stroke-width="0.9"/>
<circle cx="605.16" cy="89.4" r="3.75" fill="#00ff4c" fill-opacity="0.72" stroke="#000" stroke-opacity="0.75" stroke-width="0.9"/>
<circle cx="606.17" cy="94.07" r="3.75" fill="#00ff4c" fill-opacity="0.72" stroke="#000" stroke-opacity="0.75" stroke-width="0.9"/>
<circle cx="607.17" cy="94.85" r="3.75" fill="#00ff4c" fill-opacity="0.72" stroke="#000" stroke-opacity="0.75" stroke-width="0.9"/>
<circle cx="608.25" cy="92.19" r="3.75" fill="#00ff4c" fill-opacity="0.72" stroke="#000" stroke-opacity="0.75" stroke-width="0.9"/>
<circle cx="609.06" cy="89.04" r="3.75" fill="#00ff4c" fill-opacity="0.72" stroke="#000" stroke-opacity="0.75" stroke-width="0.9"/>
<circle cx="610.25" cy="82.34" r="3.75" fill="#00ff4c" fill-opacity="0.72" stroke="#000" stroke-opacity="0.75" stroke-width="0.9"/>
<circle cx="610.97" cy="86.69" r="3.75" fill="#00ff4c" fill-opacity="0.72" stroke="#000" stroke-opacity="0.75" stroke-width="0.9"/>
<circle cx="612.25" cy="83.69" r="3.75" fill="#00ff4c" fill-opacity="0.72" stroke="#000" stroke-opacity="0.75" stroke-width="0.9"/>
<circle cx="613.21" cy="89.09" r="3.75" fill="#00ff4c" fill-opacity="0.72" stroke="#000" stroke-opacity="0.75" stroke-width="0.9"/>
<circle cx="614.16" cy="87.2" r="3.75" fill="#00ff4c" fill-opacity="0.72" stroke="#000" stroke-opacity="0.75" stroke-width="0.9"/>
<circle cx="615.12" cy="85.79" r="3.75" fill="#00ff4c" fill-opacity="0.72" stroke="#000" stroke-opacity="0.75" stroke-width="0.9"/>
<circle cx="616.46" cy="85.72" r="3.75" fill="#00ff4c" fill-opacity="0.72" stroke="#000" stroke-opacity="0.75" stroke-width="0.9"/>
<circle cx="617.03" cy="88.16" r="3.75" fill="#00ff4c" fill-opacity="0.72" stroke="#000" stroke-opacity="0.75" stroke-width="0.9"/>
<circle cx="618.28" cy="79.21" r="3.75" fill="#00ff4c" fill-opacity="0.72" stroke="#000" stroke-opacity="0.75" stroke-width="0.9"/>
<circle cx="619.03" cy="93.73" r="3.75" fill="#00ff4c" fill-opacity="0.72" stroke="#000" stroke-opacity="0.75" stroke-width="0.9"/>
<circle cx="620.42" cy="83.75" r="3.75" fill="#00ff4c" fill-opacity="0.72" stroke="#000" stroke-opacity="0.75" stroke-width="0.9"/>
<circle cx="621.01" cy="90.36" r="3.75" fill="#00ff4c" fill-opacity="0.72" stroke="#000" stroke-opacity="0.75" stroke-width="0.9"/>
<circle cx="622.51" cy="76.15" r="3.75" fill="#00ff4c" fill-opacity="0.72" stroke="#000" stroke-opacity="0.75" stroke-width="0.9"/>
<circle cx="623.29" cy="97.52" r="3.75" fill="#00ff4c" fill-opacity="0.72" stroke="#000" stroke-opacity="0.75" stroke-width="0.9"/>
<circle cx="624.19" cy="82.52" r="3.75" fill="#00ff4c" fill-opacity="0.72" stroke="#000" stroke-opacity="0.75" stroke-width="0.9"/>
<circle cx="625.06" cy="103.51" r="3.75" fill="#00ff4c" fill-opacity="0.72" stroke="#000" stroke-opacity="0.75" stroke-width="0.9"/>
<circle cx="626.43" cy="84.37" r="3.75" fill="#00ff4c" fill-opacity="0.72" stroke="#000" stroke-opacity="0.75" stroke-width="0.9"/>
<circle cx="627.2" cy="90.87" r="3.75" fill="#00ff4c" fill-opacity="0.72" stroke="#000" stroke-opacity="0.75" stroke-width="0.9"/>
<circle cx="628.21" cy="99.35" r="3.75" fill="#00ff4c" fill-opacity="0.72" stroke="#000" stroke-opacity="0.75" stroke-width="0.9"/>
<circle cx="629.38" cy="87.7" r="3.75" fill="#00ff4c" fill-opacity="0.72" stroke="#000" stroke-opacity="0.75" stroke-width="0.9"/>
<circle cx="630.24" cy="78.45" r="3.75" fill="#00ff4c" fill-opacity="0.72" stroke="#000" stroke-opacity="0.75" stroke-width="0.9"/>
<circle cx="631.21" cy="84.85" r="3.75" fill="#00ff4c" fill-opacity="0.72" stroke="#000" stroke-opacity="0.75" stroke-width="0.9"/>
<circle cx="632.32" cy="81.3" r="3.75" fill="#00ff4c" fill-opacity="0.72" stroke="#000" stroke-opacity="0.75" stroke-width="0.9"/>
<circle cx="633.17" cy="82.52" r="3.75" fill="#00ff4c" fill-opacity="0.72" stroke="#000" stroke-opacity="0.75" stroke-width="0.9"/>
<circle cx="634.14" cy="94.71" r="3.75" fill="#00ff4c" fill-opacity="0.72" stroke="#000" stroke-opacity="0.75" stroke-width="0.9"/>
<circle cx="635.54" cy="79.16" r="3.75" fill="#00ff4c" fill-opacity="0.72" stroke="#000" stroke-opacity="0.75" stroke-width="0.9"/>
<circle cx="636.43" cy="73.42" r="3.75" fill="#00ff4c" fill-opacity="0.72" stroke="#000" stroke-opacity="0.75" stroke-width="0.9"/>
<circle cx="637.33" cy="84.84" r="3.75" fill="#00ff4c" fill-opacity="0.72" stroke="#000" stroke-opacity="0.75" stroke-width="0.9"/>
<circle cx="638.24" cy="73.46" r="3.75" fill="#00ff4c" fill-opacity="0.72" stroke="#000" stroke-opacity="0.75" stroke-width="0.9"/>
<circle cx="639.62" cy="69.97" r="3.75" fill="#00ff4c" fill-opacity="0.72" stroke="#000" stroke-opacity="0.75" stroke-width="0.9"/>
<circle cx="640.3" cy="71.77" r="3.75" fill="#00ff4c" fill-opacity="0.72" stroke="#000" stroke-opacity="0.75" stroke-width="0.9"/>
<circle cx="641.36" cy="83.85" r="3.75" fill="#00ff4c" fill-opacity="0.72" stroke="#000" stroke-opacity="0.75" stroke-width="0.9"/>
<circle cx="642.28" cy="80.58" r="3.75" fill="#00ff4c" fill-opacity="0.72" stroke="#000" stroke-opacity="0.75" stroke-width="0.9"/>
<circle cx="643.4" cy="98.52" r="3.75" fill="#00ff4c" fill-opacity="0.72" stroke="#000" stroke-opacity="0.75" stroke-width="0.9"/>
<circle cx="644.73" cy="75.5" r="3.75" fill="#00ff4c" fill-opacity="0.72" stroke="#000" stroke-opacity="0.75" stroke-width="0.9"/>
<circle cx="645.26" cy="86.26" r="3.75" fill="#00ff4c" fill-opacity="0.72" stroke="#000" stroke-opacity="0.75" stroke-width="0.9"/>
<circle cx="646.66" cy="82.72" r="3.75" fill="#00ff4c" fill-opacity="0.72" stroke="#000" stroke-opacity="0.75" stroke-width="0.9"/>
<circle cx="647.42" cy="73.16" r="3.75" fill="#00ff4c" fill-opacity="0.72" stroke="#000" stroke-opacity="0.75" stroke-width="0.9"/>
<circle cx="648.33" cy="88.43" r="3.75" fill="#00ff4c" fill-opacity="0.72" stroke="#000" stroke-opacity="0.75" stroke-width="0.9"/>
<circle cx="649.28" cy="81.39" r="3.75" fill="#00ff4c" fill-opacity="0.72" stroke="#000" stroke-opacity="0.75" stroke-width="0.9"/>
<circle cx="650.37" cy="64.09" r="3.75" fill="#00ff4c" fill-opacity="0.72" stroke="#000" stroke-opacity="0.75" stroke-width="0.9"/>
<circle cx="651.54" cy="87.06" r="3.75" fill="#00ff4c" fill-opacity="0.72" stroke="#000" stroke-opacity="0.75" stroke-width="0.9"/>
<circle cx="652.71" cy="75.75" r="3.75" fill="#00ff4c" fill-opacity="0.72" stroke="#000" stroke-opacity="0.75" stroke-width="0.9"/>
<circle cx="653.43" cy="84.05" r="3.75" fill="#00ff4c" fill-opacity="0.72" stroke="#000" stroke-opacity="0.75" stroke-width="0.9"/>
<circle cx="654.8" cy="94.12" r="3.75" fill="#00ff4c" fill-opacity="0.72" stroke="#000" stroke-opacity="0.75" stroke-width="0.9"/>
<circle cx="655.6" cy="73.3" r="3.75" fill="#00ff4c" fill-opacity="0.72" stroke="#000" stroke-opacity="0.75" stroke-width="0.9"/>
<circle cx="656.64" cy="86.01" r="3.75" fill="#00ff4c" fill-opacity="0.72" stroke="#000" stroke-opacity="0.75" stroke-width="0.9"/>
<circle cx="657.67" cy="71.65" r="3.75" fill="#00ff4c" fill-opacity="0.72" stroke="#000" stroke-opacity="0.75" stroke-width="0.9"/>
<circle cx="658.43" cy="97.24" r="3.75" fill="#00ff4c" fill-opacity="0.72" stroke="#000" stroke-opacity="0.75" stroke-width="0.9"/>
<circle cx="659.45" cy="97.13" r="3.75" fill="#00ff4c" fill-opacity="0.72" stroke="#000" stroke-opacity="0.75" stroke-width="0.9"/>
<circle cx="660.66" cy="85.01" r="3.75" fill="#00ff4c" fill-opacity="0.72" stroke="#000" stroke-opacity="0.75" stroke-width="0.9"/>
<circle cx="661.55" cy="74.61" r="3.75" fill="#00ff4c" fill-opacity="0.72" stroke="#000" stroke-opacity="0.75" stroke-width="0.9"/>
<circle cx="662.45" cy="83.48" r="3.75" fill="#00ff4c" fill-opacity="0.72" stroke="#000" stroke-opacity="0.75" stroke-width="0.9"/>
<circle cx="663.44" cy="68.07" r="3.75" fill="#00ff4c" fill-opacity="0.72" stroke="#000" stroke-opacity="0.75" stroke-width="0.9"/>
<circle cx="664.48" cy="79.22" r="3.75" fill="#00ff4c" fill-opacity="0.72" stroke="#000" stroke-opacity="0.75" stroke-width="0.9"/>
<circle cx="665.8" cy="58.94" r="3.75" fill="#00ff4c" fill-opacity="0.72" stroke="#000" stroke-opacity="0.75" stroke-width="0.9"/>
<circle cx="666.85" cy="107.73" r="3.75" fill="#00ff4c" fill-opacity="0.72" stroke="#000" stroke-opacity="0.75" stroke-width="0.9"/>
<circle cx="667.67" cy="93.95" r="3.75" fill="#00ff4c" fill-opacity="0.72" stroke="#000" stroke-opacity="0.75" stroke-width="0.9"/>
<circle cx="668.83" cy="93.63" r="3.75" fill="#00ff4c" fill-opacity="0.72" stroke="#000" stroke-opacity="0.75" stroke-width="0.9"/>
<circle cx="669.62" cy="81.99" r="3.75" fill="#00ff4c" fill-opacity="0.72" stroke="#000" stroke-opacity="0.75" stroke-width="0.9"/>
<circle cx="670.64" cy="86.57" r="3.75" fill="#00ff4c" fill-opacity="0.72" stroke="#000" stroke-opacity="0.75" stroke-width="0.9"/>
<circle cx="672" cy="89.28" r="3.75" fill="#00ff4c" fill-opacity="0.72" stroke="#000" stroke-opacity="0.75" stroke-width="0.9"/>
<circle cx="672.9" cy="81.41" r="3.75" fill="#00ff4c" fill-opacity="0.72" stroke="#000" stroke-opacity="0.75" stroke-width="0.9"/>
<circle cx="673.74" cy="80.62" r="3.75" fill="#00ff4c" fill-opacity="0.72" stroke="#000" stroke-opacity="0.75" stroke-width="0.9"/>
<circle cx="674.65" cy="82.79" r="3.75" fill="#00ff4c" fill-opacity="0.72" stroke="#000" stroke-opacity="0.75" stroke-width="0.9"/>
<circle cx="675.7" cy="76.92" r="3.75" fill="#00ff4c" fill-opacity="0.72" stroke="#000" stroke-opacity="0.75" stroke-width="0.9"/>
<circle cx="676.97" cy="85.63" r="3.75" fill="#00ff4c" fill-opacity="0.72" stroke="#000" stroke-opacity="0.75" stroke-width="0.9"/>
<circle cx="677.98" cy="106.96" r="3.75" fill="#00ff4c" fill-opacity="0.72" stroke="#000" stroke-opacity="0.75" stroke-width="0.9"/>
<circle cx="678.95" cy="69.56" r="3.75" fill="#00ff4c" fill-opacity="0.72" stroke="#000" stroke-opacity="0.75" stroke-width="0.9"/>
<circle cx="679.82" cy="84.17" r="3.75" fill="#00ff4c" fill-opacity="0.72" stroke="#000" stroke-opacity="0.75" stroke-width="0.9"/>
<circle cx="681.04" cy="74.01" r="3.75" fill="#00ff4c" fill-opacity="0.72" stroke="#000" stroke-opacity="0.75" stroke-width="0.9"/>
<circle cx="681.86" cy="80.83" r="3.75" fill="#00ff4c" fill-opacity="0.72" stroke="#000" stroke-opacity="0.75" stroke-width="0.9"/>
<circle cx="682.84" cy="75.97" r="3.75" fill="#00ff4c" fill-opacity="0.72" stroke="#000" stroke-opacity="0.75" stroke-width="0.9"/>
<circle cx="683.71" cy="86.05" r="3.75" fill="#00ff4c" fill-opacity="0.72" stroke="#000" stroke-opacity="0.75" stroke-width="0.9"/>
<circle cx="685.03" cy="85.19" r="3.75" fill="#00ff4c" fill-opacity="0.72" stroke="#000" stroke-opacity="0.75" stroke-width="0.9"/>
<circle cx="685.72" cy="75.03" r="3.75" fill="#00ff4c" fill-opacity="0.72" stroke="#000" stroke-opacity="0.75" stroke-width="0.9"/>
<circle cx="686.79" cy="77.45" r="3.75" fill="#00ff4c" fill-opacity="0.72" stroke="#000" stroke-opacity="0.75" stroke-width="0.9"/>
<circle cx="688.1" cy="95.14" r="3.75" fill="#00ff4c" fill-opacity="0.72" stroke="#000" stroke-opacity="0.75" stroke-width="0.9"/>
<circle cx="689.08" cy="84.54" r="3.75" fill="#00ff4c" fill-opacity="0.72" stroke="#000" stroke-opacity="0.75" stroke-width="0.9"/>
<circle cx="689.78" cy="85.21" r="3.75" fill="#00ff4c" fill-opacity="0.72" stroke="#000" stroke-opacity="0.75" stroke-width="0.9"/>
<circle cx="690.89" cy="97.55" r="3.75" fill="#00ff4c" fill-opacity="0.72" stroke="#000" stroke-opacity="0.75" stroke-width="0.9"/>
<circle cx="692.17" cy="75.68" r="3.75" fill="#00ff4c" fill-opacity="0.72" stroke="#000" stroke-opacity="0.75" stroke-width="0.9"/>
<circle cx="692.77" cy="94.73" r="3.75" fill="#00ff4c" fill-opacity="0.72" stroke="#000" stroke-opacity="0.75" stroke-width="0.9"/>
<circle cx="694.13" cy="105.3" r="3.75" fill="#00ff4c" fill-opacity="0.72" stroke="#000" stroke-opacity="0.75" stroke-width="0.9"/>
<circle cx="694.97" cy="110.62" r="3.75" fill="#00ff4c" fill-opacity="0.72" stroke="#000" stroke-opacity="0.75" stroke-width="0.9"/>
<circle cx="696.19" cy="122.29" r="3.75" fill="#00ff4c" fill-opacity="0.72" stroke="#000" stroke-opacity="0.75" stroke-width="0.9"/>
<circle cx="697.04" cy="117.93" r="3.75" fill="#00ff4c" fill-opacity="0.72" stroke="#000" stroke-opacity="0.75" stroke-width="0.9"/>
<circle cx="697.87" cy="135.08" r="3.75" fill="#00ff4c" fill-opacity="0.72" stroke="#000" stroke-opacity="0.75" stroke-width="0.9"/>
<circle cx="698.98" cy="142.15" r="3.75" fill="#00ff4c" fill-opacity="0.72" stroke="#000" stroke-opacity="0.75" stroke-width="0.9"/>
<circle cx="700.15" cy="153.6" r="3.75" fill="#00ff4c" fill-opacity="0.72" stroke="#000" stroke-opacity="0.75" stroke-width="0.9"/>
<circle cx="700.8" cy="149.84" r="3.75" fill="#00ff4c" fill-opacity="0.72" stroke="#000" stroke-opacity="0.75" stroke-width="0.9"/>
<circle cx="702.14" cy="174.6" r="3.75" fill="#00ff4c" fill-opacity="0.72" stroke="#000" stroke-opacity="0.75" stroke-width="0.9"/>
<circle cx="703.17" cy="152.38" r="3.75" fill="#00ff4c" fill-opacity="0.72" stroke="#000" stroke-opacity="0.75" stroke-width="0.9"/>
<circle cx="703.85" cy="143.64" r="3.75" fill="#00ff4c" fill-opacity="0.72" stroke="#000" stroke-opacity="0.75" stroke-width="0.9"/>
<circle cx="705.23" cy="171.31" r="3.75" fill="#00ff4c" fill-opacity="0.72" stroke="#000" stroke-opacity="0.75" stroke-width="0.9"/>
<circle cx="706.24" cy="166.82" r="3.75" fill="#00ff4c" fill-opacity="0.72" stroke="#000" stroke-opacity="0.75" stroke-width="0.9"/>
<circle cx="707.17" cy="173.66" r="3.75" fill="#00ff4c" fill-opacity="0.72" stroke="#000" stroke-opacity="0.75" stroke-width="0.9"/>
<circle cx="708.14" cy="161.32" r="3.75" fill="#00ff4c" fill-opacity="0.72" stroke="#000" stroke-opacity="0.75" stroke-width="0.9"/>
<circle cx="709.22" cy="156.51" r="3.75" fill="#00ff4c" fill-opacity="0.72" stroke="#000" stroke-opacity="0.75" stroke-width="0.9"/>
<circle cx="710.16" cy="149.52" r="3.75" fill="#00ff4c" fill-opacity="0.72" stroke="#000" stroke-opacity="0.75" stroke-width="0.9"/>
<circle cx="711.18" cy="156.9" r="3.75" fill="#00ff4c" fill-opacity="0.72" stroke="#000" stroke-opacity="0.75" stroke-width="0.9"/>
<circle cx="712.14" cy="158.48" r="3.75" fill="#00ff4c" fill-opacity="0.72" stroke="#000" stroke-opacity="0.75" stroke-width="0.9"/>
<circle cx="713.08" cy="178.81" r="3.75" fill="#00ff4c" fill-opacity="0.72" stroke="#000" stroke-opacity="0.75" stroke-width="0.9"/>
<circle cx="714.31" cy="172.63" r="3.75" fill="#00ff4c" fill-opacity="0.72" stroke="#000" stroke-opacity="0.75" stroke-width="0.9"/>
<circle cx="715.12" cy="161.29" r="3.75" fill="#00ff4c" fill-opacity="0.72" stroke="#000" stroke-opacity="0.75" stroke-width="0.9"/>
<circle cx="716.39" cy="181.51" r="3.75" fill="#00ff4c" fill-opacity="0.72" stroke="#000" stroke-opacity="0.75" stroke-width="0.9"/>
<circle cx="717.1" cy="154.07" r="3.75" fill="#00ff4c" fill-opacity="0.72" stroke="#000" stroke-opacity="0.75" stroke-width="0.9"/>
<circle cx="718.28" cy="150.19" r="3.75" fill="#00ff4c" fill-opacity="0.72" stroke="#000" stroke-opacity="0.75" stroke-width="0.9"/>
<circle cx="719.14" cy="168.32" r="3.75" fill="#00ff4c" fill-opacity="0.72" stroke="#000" stroke-opacity="0.75" stroke-width="0.9"/>
<circle cx="720" cy="170.36" r="3.75" fill="#00ff4c" fill-opacity="0.72" stroke="#000" stroke-opacity="0.75" stroke-width="0.9"/>
<circle cx="721.38" cy="160.27" r="3.75" fill="#00ff4c" fill-opacity="0.72" stroke="#000" stroke-opacity="0.75" stroke-width="0.9"/>
<circle cx="722.37" cy="152.09" r="3.75" fill="#00ff4c" fill-opacity="0.72" stroke="#000" stroke-opacity="0.75" stroke-width="0.9"/>
<circle cx="723.19" cy="162.34" r="3.75" fill="#00ff4c" fill-opacity="0.72" stroke="#000" stroke-opacity="0.75" stroke-width="0.9"/>
<circle cx="724.28" cy="161.55" r="3.75" fill="#00ff4c" fill-opacity="0.72" stroke="#000" stroke-opacity="0.75" stroke-width="0.9"/>
<circle cx="725.12" cy="165.09" r="3.75" fill="#00ff4c" fill-opacity="0.72" stroke="#000" stroke-opacity="0.75" stroke-width="0.9"/>
<circle cx="726.09" cy="164.88" r="3.75" fill="#00ff4c" fill-opacity="0.72" stroke="#000" stroke-opacity="0.75" stroke-width="0.9"/>
<circle cx="727.52" cy="155.04" r="3.75" fill="#00ff4c" fill-opacity="0.72" stroke="#000" stroke-opacity="0.75" stroke-width="0.9"/>
<circle cx="728.14" cy="154.96" r="3.75" fill="#00ff4c" fill-opacity="0.72" stroke="#000" stroke-opacity="0.75" stroke-width="0.9"/>
<circle cx="729.15" cy="164.54" r="3.75" fill="#00ff4c" fill-opacity="0.72" stroke="#000" stroke-opacity="0.75" stroke-width="0.9"/>
<circle cx="730.55" cy="158.01" r="3.75" fill="#00ff4c" fill-opacity="0.72" stroke="#000" stroke-opacity="0.75" stroke-width="0.9"/>
<circle cx="731.13" cy="159.36" r="3.75" fill="#00ff4c" fill-opacity="0.72" stroke="#000" stroke-opacity="0.75" stroke-width="0.9"/>
<circle cx="732.11" cy="166.17" r="3.75" fill="#00ff4c" fill-opacity="0.72" stroke="#000" stroke-opacity="0.75" stroke-width="0.9"/>
<circle cx="733.16" cy="157.71" r="3.75" fill="#00ff4c" fill-opacity="0.72" stroke="#000" stroke-opacity="0.75" stroke-width="0.9"/>
<circle cx="734.1" cy="162.52" r="3.75" fill="#00ff4c" fill-opacity="0.72" stroke="#000" stroke-opacity="0.75" stroke-width="0.9"/>
<circle cx="735.22" cy="164.26" r="3.75" fill="#00ff4c" fill-opacity="0.72" stroke="#000" stroke-opacity="0.75" stroke-width="0.9"/>
<circle cx="736.4" cy="152.18" r="3.75" fill="#00ff4c" fill-opacity="0.72" stroke="#000" stroke-opacity="0.75" stroke-width="0.9"/>
<circle cx="737.48" cy="170.18" r="3.75" fill="#00ff4c" fill-opacity="0.72" stroke="#000" stroke-opacity="0.75" stroke-width="0.9"/>
<circle cx="738.49" cy="156.7" r="3.75" fill="#00ff4c" fill-opacity="0.72" stroke="#000" stroke-opacity="0.75" stroke-width="0.9"/>
<circle cx="739.22" cy="177.93" r="3.75" fill="#00ff4c" fill-opacity="0.72" stroke="#000" stroke-opacity="0.75" stroke-width="0.9"/>
<circle cx="740.18" cy="169.28" r="3.75" fill="#00ff4c" fill-opacity="0.72" stroke="#000" stroke-opacity="0.75" stroke-width="0.9"/>
<circle cx="741.43" cy="168.91" r="3.75" fill="#00ff4c" fill-opacity="0.72" stroke="#000" stroke-opacity="0.75" stroke-width="0.9"/>
<circle cx="742.57" cy="155.46" r="3.75" fill="#00ff4c" fill-opacity="0.72" stroke="#000" stroke-opacity="0.75" stroke-width="0.9"/>
<circle cx="743.4" cy="149.61" r="3.75" fill="#00ff4c" fill-opacity="0.72" stroke="#000" stroke-opacity="0.75" stroke-width="0.9"/>
<circle cx="744.4" cy="161.45" r="3.75" fill="#00ff4c" fill-opacity="0.72" stroke="#000" stroke-opacity="0.75" stroke-width="0.9"/>
<circle cx="745.49" cy="154.63" r="3.75" fill="#00ff4c" fill-opacity="0.72" stroke="#000" stroke-opacity="0.75" stroke-width="0.9"/>
<circle cx="746.49" cy="155.83" r="3.75" fill="#00ff4c" fill-opacity="0.72" stroke="#000" stroke-opacity="0.75" stroke-width="0.9"/>
<circle cx="747.58" cy="165.58" r="3.75" fill="#00ff4c" fill-opacity="0.72" stroke="#000" stroke-opacity="0.75" stroke-width="0.9"/>
<circle cx="748.28" cy="164.66" r="3.75" fill="#00ff4c" fill-opacity="0.72" stroke="#000" stroke-opacity="0.75" stroke-width="0.9"/>
<circle cx="749.67" cy="165.89" r="3.75" fill="#00ff4c" fill-opacity="0.72" stroke="#000" stroke-opacity="0.75" stroke-width="0.9"/>
<circle cx="750.74" cy="162.13" r="3.75" fill="#00ff4c" fill-opacity="0.72" stroke="#000" stroke-opacity="0.75" stroke-width="0.9"/>
<circle cx="751.37" cy="145.93" r="3.75" fill="#00ff4c" fill-opacity="0.72" stroke="#000" stroke-opacity="0.75" stroke-width="0.9"/>
<circle cx="752.42" cy="154.23" r="3.75" fill="#00ff4c" fill-opacity="0.72" stroke="#000" stroke-opacity="0.75" stroke-width="0.9"/>
<circle cx="753.33" cy="156.04" r="3.75" fill="#00ff4c" fill-opacity="0.72" stroke="#000" stroke-opacity="0.75" stroke-width="0.9"/>
<circle cx="754.64" cy="169.76" r="3.75" fill="#00ff4c" fill-opacity="0.72" stroke="#000" stroke-opacity="0.75" stroke-width="0.9"/>
<circle cx="755.66" cy="165.84" r="3.75" fill="#00ff4c" fill-opacity="0.72" stroke="#000" stroke-opacity="0.75" stroke-width="0.9"/>
<circle cx="756.43" cy="165.75" r="3.75" fill="#00ff4c" fill-opacity="0.72" stroke="#000" stroke-opacity="0.75" stroke-width="0.9"/>
<circle cx="757.32" cy="154.52" r="3.75" fill="#00ff4c" fill-opacity="0.72" stroke="#000" stroke-opacity="0.75" stroke-width="0.9"/>
<circle cx="758.77" cy="158.3" r="3.75" fill="#00ff4c" fill-opacity="0.72" stroke="#000" stroke-opacity="0.75" stroke-width="0.9"/>
<circle cx="759.74" cy="159.59" r="3.75" fill="#00ff4c" fill-opacity="0.72" stroke="#000" stroke-opacity="0.75" stroke-width="0.9"/>
<circle cx="760.76" cy="170.3" r="3.75" fill="#00ff4c" fill-opacity="0.72" stroke="#000" stroke-opacity="0.75" stroke-width="0.9"/>
<circle cx="761.43" cy="158.76" r="3.75" fill="#00ff4c" fill-opacity="0.72" stroke="#000" stroke-opacity="0.75" stroke-width="0.9"/>
<circle cx="762.37" cy="168.14" r="3.75" fill="#00ff4c" fill-opacity="0.72" stroke="#000" stroke-opacity="0.75" stroke-width="0.9"/>
<circle cx="763.45" cy="162.54" r="3.75" fill="#00ff4c" fill-opacity="0.72" stroke="#000" stroke-opacity="0.75" stroke-width="0.9"/>
<circle cx="764.84" cy="153.53" r="3.75" fill="#00ff4c" fill-opacity="0.72" stroke="#000" stroke-opacity="0.75" stroke-width="0.9"/>
<circle cx="765.77" cy="160.71" r="3.75" fill="#00ff4c" fill-opacity="0.72" stroke="#000" stroke-opacity="0.75" stroke-width="0.9"/>
<circle cx="766.78" cy="150.52" r="3.75" fill="#00ff4c" fill-opacity="0.72" stroke="#000" stroke-opacity="0.75" stroke-width="0.9"/>
<circle cx="767.7" cy="152.81" r="3.75" fill="#00ff4c" fill-opacity="0.72" stroke="#000" stroke-opacity="0.75" stroke-width="0.9"/>
<circle cx="768.74" cy="147.14" r="3.75" fill="#00ff4c" fill-opacity="0.72" stroke="#000" stroke-opacity="0.75" stroke-width="0.9"/>
<circle cx="769.74" cy="167.12" r="3.75" fill="#00ff4c" fill-opacity="0.72" stroke="#000" stroke-opacity="0.75" stroke-width="0.9"/>
<circle cx="770.83" cy="172.69" r="3.75" fill="#00ff4c" fill-opacity="0.72" stroke="#000" stroke-opacity="0.75" stroke-width="0.9"/>
<circle cx="771.87" cy="161.14" r="3.75" fill="#00ff4c" fill-opacity="0.72" stroke="#000" stroke-opacity="0.75" stroke-width="0.9"/>
<circle cx="772.78" cy="162.96" r="3.75" fill="#00ff4c" fill-opacity="0.72" stroke="#000" stroke-opacity="0.75" stroke-width="0.9"/>
<circle cx="773.87" cy="160.47" r="3.75" fill="#00ff4c" fill-opacity="0.72" stroke="#000" stroke-opacity="0.75" stroke-width="0.9"/>
<circle cx="774.65" cy="168.16" r="3.75" fill="#00ff4c" fill-opacity="0.72" stroke="#000" stroke-opacity="0.75" stroke-width="0.9"/>
<circle cx="775.77" cy="158.63" r="3.75" fill="#00ff4c" fill-opacity="0.72" stroke="#000" stroke-opacity="0.75" stroke-width="0.9"/>
<circle cx="776.7" cy="155.84" r="3.75" fill="#00ff4c" fill-opacity="0.72" stroke="#000" stroke-opacity="0.75" stroke-width="0.9"/>
<circle cx="777.79" cy="171.78" r="3.75" fill="#00ff4c" fill-opacity="0.72" stroke="#000" stroke-opacity="0.75" stroke-width="0.9"/>
<circle cx="778.92" cy="171.73" r="3.75" fill="#00ff4c" fill-opacity="0.72" stroke="#000" stroke-opacity="0.75" stroke-width="0.9"/>
<circle cx="779.91" cy="157.77" r="3.75" fill="#00ff4c" fill-opacity="0.72" stroke="#000" stroke-opacity="0.75" stroke-width="0.9"/>
<circle cx="780.9" cy="158.96" r="3.75" fill="#00ff4c" fill-opacity="0.72" stroke="#000" stroke-opacity="0.75" stroke-width="0.9"/>
<circle cx="781.83" cy="176.49" r="3.75" fill="#00ff4c" fill-opacity="0.72" stroke="#000" stroke-opacity="0.75" stroke-width="0.9"/>
<circle cx="782.84" cy="151.53" r="3.75" fill="#00ff4c" fill-opacity="0.72" stroke="#000" stroke-opacity="0.75" stroke-width="0.9"/>
<circle cx="783.79" cy="141.69" r="3.75" fill="#00ff4c" fill-opacity="0.72" stroke="#000" stroke-opacity="0.75" stroke-width="0.9"/>
<circle cx="784.83" cy="138.69" r="3.75" fill="#00ff4c" fill-opacity="0.72" stroke="#000" stroke-opacity="0.75" stroke-width="0.9"/>
<circle cx="785.76" cy="136.07" r="3.75" fill="#00ff4c" fill-opacity="0.72" stroke="#000" stroke-opacity="0.75" stroke-width="0.9"/>
<circle cx="786.97" cy="142.86" r="3.75" fill="#00ff4c" fill-opacity="0.72" stroke="#000" stroke-opacity="0.75" stroke-width="0.9"/>
<circle cx="787.69" cy="117.5" r="3.75" fill="#00ff4c" fill-opacity="0.72" stroke="#000" stroke-opacity="0.75" stroke-width="0.9"/>
<circle cx="789.01" cy="123.26" r="3.75" fill="#00ff4c" fill-opacity="0.72" stroke="#000" stroke-opacity="0.75" stroke-width="0.9"/>
<circle cx="789.66" cy="104.05" r="3.75" fill="#00ff4c" fill-opacity="0.72" stroke="#000" stroke-opacity="0.75" stroke-width="0.9"/>
<circle cx="790.84" cy="96.29" r="3.75" fill="#00ff4c" fill-opacity="0.72" stroke="#000" stroke-opacity="0.75" stroke-width="0.9"/>
<circle cx="791.93" cy="107.04" r="3.75" fill="#00ff4c" fill-opacity="0.72" stroke="#000" stroke-opacity="0.75" stroke-width="0.9"/>
<circle cx="792.87" cy="78.74" r="3.75" fill="#00ff4c" fill-opacity="0.72" stroke="#000" stroke-opacity="0.75" stroke-width="0.9"/>
<circle cx="793.89" cy="88.56" r="3.75" fill="#00ff4c" fill-opacity="0.72" stroke="#000" stroke-opacity="0.75" stroke-width="0.9"/>
<circle cx="795.04" cy="98.58" r="3.75" fill="#00ff4c" fill-opacity="0.72" stroke="#000" stroke-opacity="0.75" stroke-width="0.9"/>
<circle cx="796.13" cy="97.6" r="3.75" fill="#00ff4c" fill-opacity="0.72" stroke="#000" stroke-opacity="0.75" stroke-width="0.9"/>
<circle cx="796.76" cy="88.36" r="3.75" fill="#00ff4c" fill-opacity="0.72" stroke="#000" stroke-opacity="0.75" stroke-width="0.9"/>
<circle cx="798.19" cy="92.91" r="3.75" fill="#00ff4c" fill-opacity="0.72" stroke="#000" stroke-opacity="0.75" stroke-width="0.9"/>
<circle cx="799.01" cy="111.25" r="3.75" fill="#00ff4c" fill-opacity="0.72" stroke="#000" stroke-opacity="0.75" stroke-width="0.9"/>
<circle cx="799.98" cy="85.47" r="3.75" fill="#00ff4c" fill-opacity="0.72" stroke="#000" stroke-opacity="0.75" stroke-width="0.9"/>
<circle cx="800.99" cy="77.63" r="3.75" fill="#00ff4c" fill-opacity="0.72" stroke="#000" stroke-opacity="0.75" stroke-width="0.9"/>
<circle cx="802.07" cy="86.39" r="3.75" fill="#00ff4c" fill-opacity="0.72" stroke="#000" stroke-opacity="0.75" stroke-width="0.9"/>
<circle cx="802.87" cy="85.28" r="3.75" fill="#00ff4c" fill-opacity="0.72" stroke="#000" stroke-opacity="0.75" stroke-width="0.9"/>
<circle cx="804.24" cy="86.23" r="3.75" fill="#00ff4c" fill-opacity="0.72" stroke="#000" stroke-opacity="0.75" stroke-width="0.9"/>
<circle cx="805.21" cy="94.49" r="3.75" fill="#00ff4c" fill-opacity="0.72" stroke="#000" stroke-opacity="0.75" stroke-width="0.9"/>
<circle cx="806.2" cy="91.73" r="3.75" fill="#00ff4c" fill-opacity="0.72" stroke="#000" stroke-opacity="0.75" stroke-width="0.9"/>
<circle cx="806.89" cy="93.48" r="3.75" fill="#00ff4c" fill-opacity="0.72" stroke="#000" stroke-opacity="0.75" stroke-width="0.9"/>
<circle cx="808.29" cy="102.44" r="3.75" fill="#00ff4c" fill-opacity="0.72" stroke="#000" stroke-opacity="0.75" stroke-width="0.9"/>
<circle cx="808.89" cy="88.57" r="3.75" fill="#00ff4c" fill-opacity="0.72" stroke="#000" stroke-opacity="0.75" stroke-width="0.9"/>
<circle cx="809.83" cy="105.69" r="3.75" fill="#00ff4c" fill-opacity="0.72" stroke="#000" stroke-opacity="0.75" stroke-width="0.9"/>
<circle cx="811.12" cy="96.11" r="3.75" fill="#00ff4c" fill-opacity="0.72" stroke="#000" stroke-opacity="0.75" stroke-width="0.9"/>
<circle cx="812.33" cy="79.58" r="3.75" fill="#00ff4c" fill-opacity="0.72" stroke="#000" stroke-opacity="0.75" stroke-width="0.9"/>
<circle cx="813.19" cy="104.27" r="3.75" fill="#00ff4c" fill-opacity="0.72" stroke="#000" stroke-opacity="0.75" stroke-width="0.9"/>
<circle cx="813.99" cy="92.05" r="3.75" fill="#00ff4c" fill-opacity="0.72" stroke="#000" stroke-opacity="0.75" stroke-width="0.9"/>
<circle cx="815.11" cy="82.21" r="3.75" fill="#00ff4c" fill-opacity="0.72" stroke="#000" stroke-opacity="0.75" stroke-width="0.9"/>
<circle cx="815.91" cy="83.29" r="3.75" fill="#00ff4c" fill-opacity="0.72" stroke="#000" stroke-opacity="0.75" stroke-width="0.9"/>
<circle cx="817.15" cy="87.81" r="3.75" fill="#00ff4c" fill-opacity="0.72" stroke="#000" stroke-opacity="0.75" stroke-width="0.9"/>
<circle cx="817.93" cy="82.53" r="3.75" fill="#00ff4c" fill-opacity="0.72" stroke="#000" stroke-opacity="0.75" stroke-width="0.9"/>
<circle cx="818.92" cy="102.45" r="3.75" fill="#00ff4c" fill-opacity="0.72" stroke="#000" stroke-opacity="0.75" stroke-width="0.9"/>
<circle cx="820.37" cy="102.48" r="3.75" fill="#00ff4c" fill-opacity="0.72" stroke="#000" stroke-opacity="0.75" stroke-width="0.9"/>
<circle cx="821.27" cy="87.92" r="3.75" fill="#00ff4c" fill-opacity="0.72" stroke="#000" stroke-opacity="0.75" stroke-width="0.9"/>
<circle cx="822.25" cy="92.89" r="3.75" fill="#00ff4c" fill-opacity="0.72" stroke="#000" stroke-opacity="0.75" stroke-width="0.9"/>
<circle cx="823.27" cy="90.64" r="3.75" fill="#00ff4c" fill-opacity="0.72" stroke="#000" stroke-opacity="0.75" stroke-width="0.9"/>
<circle cx="824.08" cy="88.57" r="3.75" fill="#00ff4c" fill-opacity="0.72" stroke="#000" stroke-opacity="0.75" stroke-width="0.9"/>
<circle cx="825.23" cy="89.7" r="3.75" fill="#00ff4c" fill-opacity="0.72" stroke="#000" stroke-opacity="0.75" stroke-width="0.9"/>
<circle cx="826.26" cy="106.2" r="3.75" fill="#00ff4c" fill-opacity="0.72" stroke="#000" stroke-opacity="0.75" stroke-width="0.9"/>
<circle cx="827.02" cy="94.75" r="3.75" fill="#00ff4c" fill-opacity="0.72" stroke="#000" stroke-opacity="0.75" stroke-width="0.9"/>
<circle cx="828.08" cy="103.2" r="3.75" fill="#00ff4c" fill-opacity="0.72" stroke="#000" stroke-opacity="0.75" stroke-width="0.9"/>
<circle cx="829.32" cy="92.79" r="3.75" fill="#00ff4c" fill-opacity="0.72" stroke="#000" stroke-opacity="0.75" stroke-width="0.9"/>
<circle cx="830.24" cy="85.57" r="3.75" fill="#00ff4c" fill-opacity="0.72" stroke="#000" stroke-opacity="0.75" stroke-width="0.9"/>
<circle cx="831.4" cy="85.72" r="3.75" fill="#00ff4c" fill-opacity="0.72" stroke="#000" stroke-opacity="0.75" stroke-width="0.9"/>
<circle cx="832.15" cy="87.25" r="3.75" fill="#00ff4c" fill-opacity="0.72" stroke="#000" stroke-opacity="0.75" stroke-width="0.9"/>
<circle cx="833.38" cy="90.4" r="3.75" fill="#00ff4c" fill-opacity="0.72" stroke="#000" stroke-opacity="0.75" stroke-width="0.9"/>
<circle cx="834.42" cy="99.39" r="3.75" fill="#00ff4c" fill-opacity="0.72" stroke="#000" stroke-opacity="0.75" stroke-width="0.9"/>
<circle cx="835.3" cy="91.79" r="3.75" fill="#00ff4c" fill-opacity="0.72" stroke="#000" stroke-opacity="0.75" stroke-width="0.9"/>
<circle cx="836.34" cy="86.4" r="3.75" fill="#00ff4c" fill-opacity="0.72" stroke="#000" stroke-opacity="0.75" stroke-width="0.9"/>
<circle cx="837.49" cy="93.49" r="3.75" fill="#00ff4c" fill-opacity="0.72" stroke="#000" stroke-opacity="0.75" stroke-width="0.9"/>
<circle cx="838.49" cy="93.47" r="3.75" fill="#00ff4c" fill-opacity="0.72" stroke="#000" stroke-opacity="0.75" stroke-width="0.9"/>
<circle cx="839.4" cy="99.03" r="3.75" fill="#00ff4c" fill-opacity="0.72" stroke="#000" stroke-opacity="0.75" stroke-width="0.9"/>
<circle cx="840.33" cy="90.34" r="3.75" fill="#00ff4c" fill-opacity="0.72" stroke="#000" stroke-opacity="0.75" stroke-width="0.9"/>
<circle cx="841.47" cy="94.02" r="3.75" fill="#00ff4c" fill-opacity="0.72" stroke="#000" stroke-opacity="0.75" stroke-width="0.9"/>
<circle cx="842.57" cy="88.74" r="3.75" fill="#00ff4c" fill-opacity="0.72" stroke="#000" stroke-opacity="0.75" stroke-width="0.9"/>
<circle cx="843.36" cy="76.96" r="3.75" fill="#00ff4c" fill-opacity="0.72" stroke="#000" stroke-opacity="0.75" stroke-width="0.9"/>
<circle cx="844.21" cy="85.65" r="3.75" fill="#00ff4c" fill-opacity="0.72" stroke="#000" stroke-opacity="0.75" stroke-width="0.9"/>
<circle cx="845.34" cy="102.92" r="3.75" fill="#00ff4c" fill-opacity="0.72" stroke="#000" stroke-opacity="0.75" stroke-width="0.9"/>
<circle cx="846.62" cy="102.29" r="3.75" fill="#00ff4c" fill-opacity="0.72" stroke="#000" stroke-opacity="0.75" stroke-width="0.9"/>
<circle cx="847.27" cy="109.77" r="3.75" fill="#00ff4c" fill-opacity="0.72" stroke="#000" stroke-opacity="0.75" stroke-width="0.9"/>
<circle cx="848.43" cy="101.17" r="3.75" fill="#00ff4c" fill-opacity="0.72" stroke="#000" stroke-opacity="0.75" stroke-width="0.9"/>
<circle cx="849.56" cy="107.14" r="3.75" fill="#00ff4c" fill-opacity="0.72" stroke="#000" stroke-opacity="0.75" stroke-width="0.9"/>
<circle cx="850.69" cy="90.83" r="3.75" fill="#00ff4c" fill-opacity="0.72" stroke="#000" stroke-opacity="0.75" stroke-width="0.9"/>
<circle cx="851.39" cy="94.37" r="3.75" fill="#00ff4c" fill-opacity="0.72" stroke="#000" stroke-opacity="0.75" stroke-width="0.9"/>
<circle cx="852.68" cy="101.72" r="3.75" fill="#00ff4c" fill-opacity="0.72" stroke="#000" stroke-opacity="0.75" stroke-width="0.9"/>
<circle cx="853.62" cy="82.73" r="3.75" fill="#00ff4c" fill-opacity="0.72" stroke="#000" stroke-opacity="0.75" stroke-width="0.9"/>
<circle cx="854.55" cy="107.59" r="3.75" fill="#00ff4c" fill-opacity="0.72" stroke="#000" stroke-opacity="0.75" stroke-width="0.9"/>
<circle cx="855.74" cy="87.52" r="3.75" fill="#00ff4c" fill-opacity="0.72" stroke="#000" stroke-opacity="0.75" stroke-width="0.9"/>
<circle cx="856.3" cy="84.49" r="3.75" fill="#00ff4c" fill-opacity="0.72" stroke="#000" stroke-opacity="0.75" stroke-width="0.9"/>
<circle cx="857.57" cy="96.67" r="3.75" fill="#00ff4c" fill-opacity="0.72" stroke="#000" stroke-opacity="0.75" stroke-width="0.9"/>
<circle cx="858.7" cy="100.53" r="3.75" fill="#00ff4c" fill-opacity="0.72" stroke="#000" stroke-opacity="0.75" stroke-width="0.9"/>
<circle cx="859.51" cy="92.15" r="3.75" fill="#00ff4c" fill-opacity="0.72" stroke="#000" stroke-opacity="0.75" stroke-width="0.9"/>
<circle cx="860.6" cy="88.65" r="3.75" fill="#00ff4c" fill-opacity="0.72" stroke="#000" stroke-opacity="0.75" stroke-width="0.9"/>
<circle cx="861.51" cy="86.96" r="3.75" fill="#00ff4c" fill-opacity="0.72" stroke="#000" stroke-opacity="0.75" stroke-width="0.9"/>
<circle cx="862.82" cy="91.95" r="3.75" fill="#00ff4c" fill-opacity="0.72" stroke="#000" stroke-opacity="0.75" stroke-width="0.9"/>
<circle cx="863.57" cy="97.86" r="3.75" fill="#00ff4c" fill-opacity="0.72" stroke="#000" stroke-opacity="0.75" stroke-width="0.9"/>
<circle cx="864.38" cy="102.51" r="3.75" fill="#00ff4c" fill-opacity="0.72" stroke="#000" stroke-opacity="0.75" stroke-width="0.9"/>
<circle cx="865.66" cy="93.1" r="3.75" fill="#00ff4c" fill-opacity="0.72" stroke="#000" stroke-opacity="0.75" stroke-width="0.9"/>
<circle cx="866.68" cy="89.94" r="3.75" fill="#00ff4c" fill-opacity="0.72" stroke="#000" stroke-opacity="0.75" stroke-width="0.9"/>
<path d="M564.47 97.02 L565.22 96.85 L565.98 96.68 L566.74 96.51 L567.5 96.35 L568.25 96.18 L569.01 96.02 L569.77 95.86 L570.52 95.7 L571.28 95.54 L572.04 95.38 L572.8 95.22 L573.55 95.07 L574.31 94.91 L575.07 94.76 L575.83 94.61 L576.58 94.45 L577.34 94.31 L578.1 94.16 L578.85 94.01 L579.61 93.87 L580.37 93.72 L581.13 93.58 L581.88 93.44 L582.64 93.3 L583.4 93.16 L584.15 93.02 L584.91 92.88 L585.67 92.75 L586.43 92.61 L587.18 92.48 L587.94 92.35 L588.7 92.22 L589.46 92.09 L590.21 91.97 L590.97 91.84 L591.73 91.72 L592.48 91.59 L593.24 91.47 L594 91.35 L594.76 91.23 L595.51 91.11 L596.27 91 L597.03 90.88 L597.79 90.77 L598.54 90.65 L599.3 90.54 L600.06 90.43 L600.81 90.32 L601.57 90.21 L602.33 90.11 L603.09 90 L603.84 89.9 L604.6 89.8 L605.36 89.7 L606.12 89.6 L606.87 89.5 L607.63 89.4 L608.39 89.3 L609.14 89.21 L609.9 89.12 L610.66 89.02 L611.42 88.93 L612.17 88.84 L612.93 88.76 L613.69 88.67 L614.45 88.58 L615.2 88.5 L615.96 88.42 L616.72 88.33 L617.47 88.25 L618.23 88.18 L618.99 88.1 L619.75 88.02 L620.5 87.95 L621.26 87.87 L622.02 87.8 L622.78 87.73 L623.53 87.66 L624.29 87.59 L625.05 87.52 L625.8 87.46 L626.56 87.39 L627.32 87.33 L628.08 87.27 L628.83 87.21 L629.59 87.15 L630.35 87.09 L631.11 87.03 L631.86 86.98 L632.62 86.92 L633.38 86.87 L634.13 86.82 L634.89 86.77 L635.65 86.72 L636.41 86.67 L637.16 86.62 L637.92 86.58 L638.68 86.53 L639.44 86.49 L640.19 86.45 L640.95 86.41 L641.71 86.37 L642.46 86.34 L643.22 86.3 L643.98 86.26 L644.74 86.23 L645.49 86.2 L646.25 86.17 L647.01 86.14 L647.77 86.11 L648.52 86.08 L649.28 86.06 L650.04 86.03 L650.79 86.01 L651.55 85.99 L652.31 85.97 L653.07 85.95 L653.82 85.93 L654.58 85.92 L655.34 85.9 L656.1 85.89 L656.85 85.87 L657.61 85.86 L658.37 85.85 L659.12 85.84 L659.88 85.84 L660.64 85.83 L661.4 85.83 L662.15 85.82 L662.91 85.82 L663.67 85.82 L664.43 85.82 L665.18 85.82 L665.94 85.83 L666.7 85.83 L667.45 85.84 L668.21 85.84 L668.97 85.85 L669.73 85.86 L670.48 85.87 L671.24 85.88 L672 85.9 L672.76 85.91 L673.51 85.93 L674.27 85.95 L675.03 85.96 L675.78 85.98 L676.54 86.01 L677.3 86.03 L678.06 86.05 L678.81 86.08 L679.57 86.1 L680.33 86.13 L681.09 86.16 L681.84 86.19 L682.6 86.22 L683.36 86.26 L684.11 86.29 L684.87 86.33 L685.63 86.36 L686.39 86.4 L687.14 86.44 L687.9 86.48 L688.66 86.52 L689.42 86.57 L690.17 86.61 L690.93 86.66 L691.69 90.9 L692.44 96.31 L693.2 101.71 L693.96 107.12 L694.72 112.53 L695.47 117.94 L696.23 123.35 L696.99 128.76 L697.75 134.16 L698.5 139.57 L699.26 144.98 L700.02 150.39 L700.77 155.8 L701.53 158.24 L702.29 158.24 L703.05 158.24 L703.8 158.24 L704.56 158.24 L705.32 158.24 L706.08 158.24 L706.83 158.24 L707.59 158.24 L708.35 158.24 L709.1 158.24 L709.86 158.24 L710.62 158.24 L711.38 158.24 L712.13 158.24 L712.89 158.24 L713.65 158.24 L714.41 158.24 L715.16 158.24 L715.92 158.24 L716.68 158.24 L717.43 158.24 L718.19 158.24 L718.95 158.24 L719.71 158.24 L720.46 158.24 L721.22 158.24 L721.98 158.24 L722.74 158.24 L723.49 158.24 L724.25 158.24 L725.01 158.24 L725.76 158.24 L726.52 158.24 L727.28 158.24 L728.04 158.24 L728.79 158.24 L729.55 158.24 L730.31 158.24 L731.07 158.24 L731.82 158.24 L732.58 158.24 L733.34 158.24 L734.09 158.24 L734.85 158.24 L735.61 158.24 L736.37 158.24 L737.12 158.24 L737.88 158.24 L738.64 158.24 L739.4 158.24 L740.15 158.24 L740.91 158.24 L741.67 158.24 L742.42 158.24 L743.18 158.24 L743.94 158.24 L744.7 158.24 L745.45 158.24 L746.21 158.24 L746.97 158.24 L747.73 158.24 L748.48 158.24 L749.24 158.24 L750 158.24 L750.75 158.24 L751.51 158.24 L752.27 158.24 L753.03 158.24 L753.78 158.24 L754.54 158.24 L755.3 158.24 L756.05 158.24 L756.81 158.24 L757.57 158.24 L758.33 158.24 L759.08 158.24 L759.84 158.24 L760.6 158.24 L761.36 158.24 L762.11 158.24 L762.87 158.24 L763.63 158.24 L764.38 158.24 L765.14 158.24 L765.9 158.24 L766.66 158.24 L767.41 158.24 L768.17 158.24 L768.93 158.24 L769.69 158.24 L770.44 158.24 L771.2 158.24 L771.96 158.24 L772.71 158.24 L773.47 158.24 L774.23 158.24 L774.99 158.24 L775.74 158.24 L776.5 158.24 L777.26 158.24 L778.02 158.24 L778.77 158.24 L779.53 158.24 L780.29 158.24 L781.04 158.24 L781.8 158.24 L782.56 155.82 L783.32 150.8 L784.07 145.77 L784.83 140.75 L785.59 135.73 L786.35 130.71 L787.1 125.68 L787.86 120.66 L788.62 115.64 L789.37 110.62 L790.13 105.59 L790.89 100.57 L791.65 95.55 L792.4 91.78 L793.16 91.8 L793.92 91.83 L794.68 91.85 L795.43 91.88 L796.19 91.9 L796.95 91.93 L797.7 91.95 L798.46 91.98 L799.22 92 L799.98 92.03 L800.73 92.05 L801.49 92.08 L802.25 92.1 L803.01 92.13 L803.76 92.15 L804.52 92.18 L805.28 92.2 L806.03 92.23 L806.79 92.25 L807.55 92.28 L808.31 92.3 L809.06 92.33 L809.82 92.35 L810.58 92.38 L811.34 92.4 L812.09 92.43 L812.85 92.45 L813.61 92.48 L814.36 92.5 L815.12 92.53 L815.88 92.55 L816.64 92.58 L817.39 92.6 L818.15 92.63 L818.91 92.65 L819.67 92.68 L820.42 92.7 L821.18 92.73 L821.94 92.75 L822.69 92.78 L823.45 92.8 L824.21 92.83 L824.97 92.85 L825.72 92.88 L826.48 92.9 L827.24 92.93 L828 92.95 L828.75 92.98 L829.51 93 L830.27 93.03 L831.02 93.05 L831.78 93.08 L832.54 93.1 L833.3 93.13 L834.05 93.15 L834.81 93.18 L835.57 93.2 L836.33 93.23 L837.08 93.25 L837.84 93.28 L838.6 93.3 L839.35 93.33 L840.11 93.35 L840.87 93.38 L841.63 93.4 L842.38 93.43 L843.14 93.45 L843.9 93.48 L844.66 93.5 L845.41 93.53 L846.17 93.55 L846.93 93.58 L847.68 93.6 L848.44 93.63 L849.2 93.65 L849.96 93.68 L850.71 93.7 L851.47 93.73 L852.23 93.75 L852.99 93.78 L853.74 93.8 L854.5 93.83 L855.26 93.85 L856.01 93.88 L856.77 93.9 L857.53 93.93 L858.29 93.95 L859.04 93.98 L859.8 94 L860.56 94.03 L861.32 94.05 L862.07 94.08 L862.83 94.1 L863.59 94.13 L864.34 94.15 L865.1 94.18 L865.86 94.2 L866.62 94.23 L867.37 94.25" fill="none" stroke="#000" stroke-width="2"/>
</g>
<rect x="549.4" y="40.2" width="333.5" height="156.5" fill="none" stroke="#262626" stroke-width="1.5"/>
<line x1="541.4" y1="150.3" x2="549.4" y2="150.3" stroke="#1a1a1a" stroke-width="1.5" />
<text x="536.8" y="156.1" font-size="16.3" text-anchor="end" font-weight="normal" fill="#111" >0</text>
<line x1="541.4" y1="100.7" x2="549.4" y2="100.7" stroke="#1a1a1a" stroke-width="1.5" />
<text x="536.8" y="106.5" font-size="16.3" text-anchor="end" font-weight="normal" fill="#111" >1,000</text>
<line x1="541.4" y1="51.1" x2="549.4" y2="51.1" stroke="#1a1a1a" stroke-width="1.5" />
<text x="536.8" y="56.9" font-size="16.3" text-anchor="end" font-weight="normal" fill="#111" >2,000</text>
<line x1="559" y1="196.7" x2="559" y2="205.2" stroke="#1a1a1a" stroke-width="1.5" />
<line x1="650.1" y1="196.7" x2="650.1" y2="205.2" stroke="#1a1a1a" stroke-width="1.5" />
<line x1="741.2" y1="196.7" x2="741.2" y2="205.2" stroke="#1a1a1a" stroke-width="1.5" />
<line x1="832.3" y1="196.7" x2="832.3" y2="205.2" stroke="#1a1a1a" stroke-width="1.5" />
<text x="558" y="174" font-size="17" font-family="Liberation Serif" font-style="italic" fill="#111">λ</text>
<text x="570.6" y="174" font-size="16.6" text-anchor="start" font-weight="normal" fill="#111" >=</text>
<text x="586" y="174" font-size="16.6" text-anchor="start" font-weight="normal" fill="#111" >1.72 μm</text>
<clipPath id="c14"><rect x="854.6" y="310" width="333.9" height="261.8"/></clipPath>
<rect x="854.6" y="310" width="333.9" height="261.8" fill="#fff"/>
<g clip-path="url(#c14)">
<circle cx="869.53" cy="420.83" r="3.65" fill="#ff7f0e" fill-opacity="0.72" stroke="#000" stroke-opacity="0.75" stroke-width="0.9"/>
<circle cx="871.04" cy="445.98" r="3.65" fill="#ff7f0e" fill-opacity="0.72" stroke="#000" stroke-opacity="0.75" stroke-width="0.9"/>
<circle cx="871.74" cy="409.58" r="3.65" fill="#ff7f0e" fill-opacity="0.72" stroke="#000" stroke-opacity="0.75" stroke-width="0.9"/>
<circle cx="873.01" cy="363.23" r="3.65" fill="#ff7f0e" fill-opacity="0.72" stroke="#000" stroke-opacity="0.75" stroke-width="0.9"/>
<circle cx="873.89" cy="417.65" r="3.65" fill="#ff7f0e" fill-opacity="0.72" stroke="#000" stroke-opacity="0.75" stroke-width="0.9"/>
<circle cx="875.21" cy="430.87" r="3.65" fill="#ff7f0e" fill-opacity="0.72" stroke="#000" stroke-opacity="0.75" stroke-width="0.9"/>
<circle cx="875.92" cy="395.82" r="3.65" fill="#ff7f0e" fill-opacity="0.72" stroke="#000" stroke-opacity="0.75" stroke-width="0.9"/>
<circle cx="877.11" cy="347.45" r="3.65" fill="#ff7f0e" fill-opacity="0.72" stroke="#000" stroke-opacity="0.75" stroke-width="0.9"/>
<circle cx="878.12" cy="391.51" r="3.65" fill="#ff7f0e" fill-opacity="0.72" stroke="#000" stroke-opacity="0.75" stroke-width="0.9"/>
<circle cx="879.13" cy="439.77" r="3.65" fill="#ff7f0e" fill-opacity="0.72" stroke="#000" stroke-opacity="0.75" stroke-width="0.9"/>
<circle cx="880.41" cy="411.38" r="3.65" fill="#ff7f0e" fill-opacity="0.72" stroke="#000" stroke-opacity="0.75" stroke-width="0.9"/>
<circle cx="881.52" cy="416.34" r="3.65" fill="#ff7f0e" fill-opacity="0.72" stroke="#000" stroke-opacity="0.75" stroke-width="0.9"/>
<circle cx="882.31" cy="407.84" r="3.65" fill="#ff7f0e" fill-opacity="0.72" stroke="#000" stroke-opacity="0.75" stroke-width="0.9"/>
<circle cx="883.41" cy="391.74" r="3.65" fill="#ff7f0e" fill-opacity="0.72" stroke="#000" stroke-opacity="0.75" stroke-width="0.9"/>
<circle cx="884.89" cy="468.42" r="3.65" fill="#ff7f0e" fill-opacity="0.72" stroke="#000" stroke-opacity="0.75" stroke-width="0.9"/>
<circle cx="885.67" cy="353.21" r="3.65" fill="#ff7f0e" fill-opacity="0.72" stroke="#000" stroke-opacity="0.75" stroke-width="0.9"/>
<circle cx="886.82" cy="370.82" r="3.65" fill="#ff7f0e" fill-opacity="0.72" stroke="#000" stroke-opacity="0.75" stroke-width="0.9"/>
<circle cx="887.62" cy="428.7" r="3.65" fill="#ff7f0e" fill-opacity="0.72" stroke="#000" stroke-opacity="0.75" stroke-width="0.9"/>
<circle cx="888.94" cy="409.82" r="3.65" fill="#ff7f0e" fill-opacity="0.72" stroke="#000" stroke-opacity="0.75" stroke-width="0.9"/>
<circle cx="889.74" cy="410.72" r="3.65" fill="#ff7f0e" fill-opacity="0.72" stroke="#000" stroke-opacity="0.75" stroke-width="0.9"/>
<circle cx="891.22" cy="414.9" r="3.65" fill="#ff7f0e" fill-opacity="0.72" stroke="#000" stroke-opacity="0.75" stroke-width="0.9"/>
<circle cx="892.06" cy="398.3" r="3.65" fill="#ff7f0e" fill-opacity="0.72" stroke="#000" stroke-opacity="0.75" stroke-width="0.9"/>
<circle cx="893" cy="386.76" r="3.65" fill="#ff7f0e" fill-opacity="0.72" stroke="#000" stroke-opacity="0.75" stroke-width="0.9"/>
<circle cx="894" cy="426.18" r="3.65" fill="#ff7f0e" fill-opacity="0.72" stroke="#000" stroke-opacity="0.75" stroke-width="0.9"/>
<circle cx="895.44" cy="376.43" r="3.65" fill="#ff7f0e" fill-opacity="0.72" stroke="#000" stroke-opacity="0.75" stroke-width="0.9"/>
<circle cx="896.09" cy="382.96" r="3.65" fill="#ff7f0e" fill-opacity="0.72" stroke="#000" stroke-opacity="0.75" stroke-width="0.9"/>
<circle cx="897.53" cy="368.99" r="3.65" fill="#ff7f0e" fill-opacity="0.72" stroke="#000" stroke-opacity="0.75" stroke-width="0.9"/>
<circle cx="898.25" cy="371.88" r="3.65" fill="#ff7f0e" fill-opacity="0.72" stroke="#000" stroke-opacity="0.75" stroke-width="0.9"/>
<circle cx="899.52" cy="406.13" r="3.65" fill="#ff7f0e" fill-opacity="0.72" stroke="#000" stroke-opacity="0.75" stroke-width="0.9"/>
<circle cx="900.57" cy="423.12" r="3.65" fill="#ff7f0e" fill-opacity="0.72" stroke="#000" stroke-opacity="0.75" stroke-width="0.9"/>
<circle cx="901.65" cy="425.4" r="3.65" fill="#ff7f0e" fill-opacity="0.72" stroke="#000" stroke-opacity="0.75" stroke-width="0.9"/>
<circle cx="902.51" cy="377.35" r="3.65" fill="#ff7f0e" fill-opacity="0.72" stroke="#000" stroke-opacity="0.75" stroke-width="0.9"/>
<circle cx="903.77" cy="386.06" r="3.65" fill="#ff7f0e" fill-opacity="0.72" stroke="#000" stroke-opacity="0.75" stroke-width="0.9"/>
<circle cx="905.08" cy="336.08" r="3.65" fill="#ff7f0e" fill-opacity="0.72" stroke="#000" stroke-opacity="0.75" stroke-width="0.9"/>
<circle cx="905.68" cy="363.55" r="3.65" fill="#ff7f0e" fill-opacity="0.72" stroke="#000" stroke-opacity="0.75" stroke-width="0.9"/>
<circle cx="907.02" cy="356.02" r="3.65" fill="#ff7f0e" fill-opacity="0.72" stroke="#000" stroke-opacity="0.75" stroke-width="0.9"/>
<circle cx="907.79" cy="406.84" r="3.65" fill="#ff7f0e" fill-opacity="0.72" stroke="#000" stroke-opacity="0.75" stroke-width="0.9"/>
<circle cx="909.07" cy="450.38" r="3.65" fill="#ff7f0e" fill-opacity="0.72" stroke="#000" stroke-opacity="0.75" stroke-width="0.9"/>
<circle cx="910.09" cy="445.53" r="3.65" fill="#ff7f0e" fill-opacity="0.72" stroke="#000" stroke-opacity="0.75" stroke-width="0.9"/>
<circle cx="911.11" cy="414.02" r="3.65" fill="#ff7f0e" fill-opacity="0.72" stroke="#000" stroke-opacity="0.75" stroke-width="0.9"/>
<circle cx="912.19" cy="372.13" r="3.65" fill="#ff7f0e" fill-opacity="0.72" stroke="#000" stroke-opacity="0.75" stroke-width="0.9"/>
<circle cx="913.35" cy="350.56" r="3.65" fill="#ff7f0e" fill-opacity="0.72" stroke="#000" stroke-opacity="0.75" stroke-width="0.9"/>
<circle cx="914.3" cy="390.84" r="3.65" fill="#ff7f0e" fill-opacity="0.72" stroke="#000" stroke-opacity="0.75" stroke-width="0.9"/>
<circle cx="915.39" cy="380.13" r="3.65" fill="#ff7f0e" fill-opacity="0.72" stroke="#000" stroke-opacity="0.75" stroke-width="0.9"/>
<circle cx="916.81" cy="402.97" r="3.65" fill="#ff7f0e" fill-opacity="0.72" stroke="#000" stroke-opacity="0.75" stroke-width="0.9"/>
<circle cx="917.85" cy="394.88" r="3.65" fill="#ff7f0e" fill-opacity="0.72" stroke="#000" stroke-opacity="0.75" stroke-width="0.9"/>
<circle cx="918.61" cy="383.22" r="3.65" fill="#ff7f0e" fill-opacity="0.72" stroke="#000" stroke-opacity="0.75" stroke-width="0.9"/>
<circle cx="919.56" cy="375.43" r="3.65" fill="#ff7f0e" fill-opacity="0.72" stroke="#000" stroke-opacity="0.75" stroke-width="0.9"/>
<circle cx="920.65" cy="375.23" r="3.65" fill="#ff7f0e" fill-opacity="0.72" stroke="#000" stroke-opacity="0.75" stroke-width="0.9"/>
<circle cx="921.75" cy="327.02" r="3.65" fill="#ff7f0e" fill-opacity="0.72" stroke="#000" stroke-opacity="0.75" stroke-width="0.9"/>
<circle cx="922.8" cy="428.97" r="3.65" fill="#ff7f0e" fill-opacity="0.72" stroke="#000" stroke-opacity="0.75" stroke-width="0.9"/>
<circle cx="923.89" cy="417.15" r="3.65" fill="#ff7f0e" fill-opacity="0.72" stroke="#000" stroke-opacity="0.75" stroke-width="0.9"/>
<circle cx="925.21" cy="403.37" r="3.65" fill="#ff7f0e" fill-opacity="0.72" stroke="#000" stroke-opacity="0.75" stroke-width="0.9"/>
<circle cx="926.18" cy="353.82" r="3.65" fill="#ff7f0e" fill-opacity="0.72" stroke="#000" stroke-opacity="0.75" stroke-width="0.9"/>
<circle cx="927.43" cy="377.22" r="3.65" fill="#ff7f0e" fill-opacity="0.72" stroke="#000" stroke-opacity="0.75" stroke-width="0.9"/>
<circle cx="928.44" cy="410.39" r="3.65" fill="#ff7f0e" fill-opacity="0.72" stroke="#000" stroke-opacity="0.75" stroke-width="0.9"/>
<circle cx="929.25" cy="429.03" r="3.65" fill="#ff7f0e" fill-opacity="0.72" stroke="#000" stroke-opacity="0.75" stroke-width="0.9"/>
<circle cx="930.41" cy="331.56" r="3.65" fill="#ff7f0e" fill-opacity="0.72" stroke="#000" stroke-opacity="0.75" stroke-width="0.9"/>
<circle cx="931.6" cy="400.36" r="3.65" fill="#ff7f0e" fill-opacity="0.72" stroke="#000" stroke-opacity="0.75" stroke-width="0.9"/>
<circle cx="932.57" cy="320.96" r="3.65" fill="#ff7f0e" fill-opacity="0.72" stroke="#000" stroke-opacity="0.75" stroke-width="0.9"/>
<circle cx="933.44" cy="347.98" r="3.65" fill="#ff7f0e" fill-opacity="0.72" stroke="#000" stroke-opacity="0.75" stroke-width="0.9"/>
<circle cx="934.56" cy="387.63" r="3.65" fill="#ff7f0e" fill-opacity="0.72" stroke="#000" stroke-opacity="0.75" stroke-width="0.9"/>
<circle cx="935.58" cy="360.42" r="3.65" fill="#ff7f0e" fill-opacity="0.72" stroke="#000" stroke-opacity="0.75" stroke-width="0.9"/>
<circle cx="936.87" cy="363.34" r="3.65" fill="#ff7f0e" fill-opacity="0.72" stroke="#000" stroke-opacity="0.75" stroke-width="0.9"/>
<circle cx="937.64" cy="375.56" r="3.65" fill="#ff7f0e" fill-opacity="0.72" stroke="#000" stroke-opacity="0.75" stroke-width="0.9"/>
<circle cx="938.92" cy="343.99" r="3.65" fill="#ff7f0e" fill-opacity="0.72" stroke="#000" stroke-opacity="0.75" stroke-width="0.9"/>
<circle cx="939.9" cy="368.45" r="3.65" fill="#ff7f0e" fill-opacity="0.72" stroke="#000" stroke-opacity="0.75" stroke-width="0.9"/>
<circle cx="940.96" cy="392.93" r="3.65" fill="#ff7f0e" fill-opacity="0.72" stroke="#000" stroke-opacity="0.75" stroke-width="0.9"/>
<circle cx="942.05" cy="358.93" r="3.65" fill="#ff7f0e" fill-opacity="0.72" stroke="#000" stroke-opacity="0.75" stroke-width="0.9"/>
<circle cx="942.97" cy="357.93" r="3.65" fill="#ff7f0e" fill-opacity="0.72" stroke="#000" stroke-opacity="0.75" stroke-width="0.9"/>
<circle cx="944.34" cy="347.02" r="3.65" fill="#ff7f0e" fill-opacity="0.72" stroke="#000" stroke-opacity="0.75" stroke-width="0.9"/>
<circle cx="945.13" cy="339.07" r="3.65" fill="#ff7f0e" fill-opacity="0.72" stroke="#000" stroke-opacity="0.75" stroke-width="0.9"/>
<circle cx="946.42" cy="384.63" r="3.65" fill="#ff7f0e" fill-opacity="0.72" stroke="#000" stroke-opacity="0.75" stroke-width="0.9"/>
<circle cx="947.64" cy="391.29" r="3.65" fill="#ff7f0e" fill-opacity="0.72" stroke="#000" stroke-opacity="0.75" stroke-width="0.9"/>
<circle cx="948.56" cy="377.78" r="3.65" fill="#ff7f0e" fill-opacity="0.72" stroke="#000" stroke-opacity="0.75" stroke-width="0.9"/>
<circle cx="949.49" cy="372.65" r="3.65" fill="#ff7f0e" fill-opacity="0.72" stroke="#000" stroke-opacity="0.75" stroke-width="0.9"/>
<circle cx="950.48" cy="431.29" r="3.65" fill="#ff7f0e" fill-opacity="0.72" stroke="#000" stroke-opacity="0.75" stroke-width="0.9"/>
<circle cx="951.86" cy="357.26" r="3.65" fill="#ff7f0e" fill-opacity="0.72" stroke="#000" stroke-opacity="0.75" stroke-width="0.9"/>
<circle cx="952.5" cy="395.79" r="3.65" fill="#ff7f0e" fill-opacity="0.72" stroke="#000" stroke-opacity="0.75" stroke-width="0.9"/>
<circle cx="953.82" cy="425.8" r="3.65" fill="#ff7f0e" fill-opacity="0.72" stroke="#000" stroke-opacity="0.75" stroke-width="0.9"/>
<circle cx="954.64" cy="349.41" r="3.65" fill="#ff7f0e" fill-opacity="0.72" stroke="#000" stroke-opacity="0.75" stroke-width="0.9"/>
<circle cx="956.18" cy="389.41" r="3.65" fill="#ff7f0e" fill-opacity="0.72" stroke="#000" stroke-opacity="0.75" stroke-width="0.9"/>
<circle cx="957.19" cy="338.3" r="3.65" fill="#ff7f0e" fill-opacity="0.72" stroke="#000" stroke-opacity="0.75" stroke-width="0.9"/>
<circle cx="957.82" cy="423.04" r="3.65" fill="#ff7f0e" fill-opacity="0.72" stroke="#000" stroke-opacity="0.75" stroke-width="0.9"/>
<circle cx="959.27" cy="372.74" r="3.65" fill="#ff7f0e" fill-opacity="0.72" stroke="#000" stroke-opacity="0.75" stroke-width="0.9"/>
<circle cx="960.11" cy="353.97" r="3.65" fill="#ff7f0e" fill-opacity="0.72" stroke="#000" stroke-opacity="0.75" stroke-width="0.9"/>
<circle cx="961.29" cy="338.02" r="3.65" fill="#ff7f0e" fill-opacity="0.72" stroke="#000" stroke-opacity="0.75" stroke-width="0.9"/>
<circle cx="962.46" cy="366.57" r="3.65" fill="#ff7f0e" fill-opacity="0.72" stroke="#000" stroke-opacity="0.75" stroke-width="0.9"/>
<circle cx="963.37" cy="389.74" r="3.65" fill="#ff7f0e" fill-opacity="0.72" stroke="#000" stroke-opacity="0.75" stroke-width="0.9"/>
<circle cx="964.68" cy="371.34" r="3.65" fill="#ff7f0e" fill-opacity="0.72" stroke="#000" stroke-opacity="0.75" stroke-width="0.9"/>
<circle cx="965.36" cy="383.67" r="3.65" fill="#ff7f0e" fill-opacity="0.72" stroke="#000" stroke-opacity="0.75" stroke-width="0.9"/>
<circle cx="966.3" cy="402.69" r="3.65" fill="#ff7f0e" fill-opacity="0.72" stroke="#000" stroke-opacity="0.75" stroke-width="0.9"/>
<circle cx="967.89" cy="359.89" r="3.65" fill="#ff7f0e" fill-opacity="0.72" stroke="#000" stroke-opacity="0.75" stroke-width="0.9"/>
<circle cx="968.92" cy="286.52" r="3.65" fill="#ff7f0e" fill-opacity="0.72" stroke="#000" stroke-opacity="0.75" stroke-width="0.9"/>
<circle cx="969.97" cy="350.59" r="3.65" fill="#ff7f0e" fill-opacity="0.72" stroke="#000" stroke-opacity="0.75" stroke-width="0.9"/>
<circle cx="970.79" cy="388.85" r="3.65" fill="#ff7f0e" fill-opacity="0.72" stroke="#000" stroke-opacity="0.75" stroke-width="0.9"/>
<circle cx="971.8" cy="361.32" r="3.65" fill="#ff7f0e" fill-opacity="0.72" stroke="#000" stroke-opacity="0.75" stroke-width="0.9"/>
<circle cx="972.75" cy="370.02" r="3.65" fill="#ff7f0e" fill-opacity="0.72" stroke="#000" stroke-opacity="0.75" stroke-width="0.9"/>
<circle cx="974.25" cy="352.83" r="3.65" fill="#ff7f0e" fill-opacity="0.72" stroke="#000" stroke-opacity="0.75" stroke-width="0.9"/>
<circle cx="975.32" cy="407.31" r="3.65" fill="#ff7f0e" fill-opacity="0.72" stroke="#000" stroke-opacity="0.75" stroke-width="0.9"/>
<circle cx="976.15" cy="352.74" r="3.65" fill="#ff7f0e" fill-opacity="0.72" stroke="#000" stroke-opacity="0.75" stroke-width="0.9"/>
<circle cx="977.42" cy="392.96" r="3.65" fill="#ff7f0e" fill-opacity="0.72" stroke="#000" stroke-opacity="0.75" stroke-width="0.9"/>
<circle cx="978.04" cy="400.71" r="3.65" fill="#ff7f0e" fill-opacity="0.72" stroke="#000" stroke-opacity="0.75" stroke-width="0.9"/>
<circle cx="979.49" cy="354.59" r="3.65" fill="#ff7f0e" fill-opacity="0.72" stroke="#000" stroke-opacity="0.75" stroke-width="0.9"/>
<circle cx="980.35" cy="398.05" r="3.65" fill="#ff7f0e" fill-opacity="0.72" stroke="#000" stroke-opacity="0.75" stroke-width="0.9"/>
<circle cx="981.41" cy="432.5" r="3.65" fill="#ff7f0e" fill-opacity="0.72" stroke="#000" stroke-opacity="0.75" stroke-width="0.9"/>
<circle cx="982.36" cy="315.48" r="3.65" fill="#ff7f0e" fill-opacity="0.72" stroke="#000" stroke-opacity="0.75" stroke-width="0.9"/>
<circle cx="983.57" cy="358.3" r="3.65" fill="#ff7f0e" fill-opacity="0.72" stroke="#000" stroke-opacity="0.75" stroke-width="0.9"/>
<circle cx="984.59" cy="382.21" r="3.65" fill="#ff7f0e" fill-opacity="0.72" stroke="#000" stroke-opacity="0.75" stroke-width="0.9"/>
<circle cx="985.57" cy="370.43" r="3.65" fill="#ff7f0e" fill-opacity="0.72" stroke="#000" stroke-opacity="0.75" stroke-width="0.9"/>
<circle cx="986.64" cy="370.6" r="3.65" fill="#ff7f0e" fill-opacity="0.72" stroke="#000" stroke-opacity="0.75" stroke-width="0.9"/>
<circle cx="987.71" cy="315.44" r="3.65" fill="#ff7f0e" fill-opacity="0.72" stroke="#000" stroke-opacity="0.75" stroke-width="0.9"/>
<circle cx="988.69" cy="346.01" r="3.65" fill="#ff7f0e" fill-opacity="0.72" stroke="#000" stroke-opacity="0.75" stroke-width="0.9"/>
<circle cx="989.72" cy="394.99" r="3.65" fill="#ff7f0e" fill-opacity="0.72" stroke="#000" stroke-opacity="0.75" stroke-width="0.9"/>
<circle cx="991.13" cy="384.78" r="3.65" fill="#ff7f0e" fill-opacity="0.72" stroke="#000" stroke-opacity="0.75" stroke-width="0.9"/>
<circle cx="992.24" cy="405.73" r="3.65" fill="#ff7f0e" fill-opacity="0.72" stroke="#000" stroke-opacity="0.75" stroke-width="0.9"/>
<circle cx="993.12" cy="362.76" r="3.65" fill="#ff7f0e" fill-opacity="0.72" stroke="#000" stroke-opacity="0.75" stroke-width="0.9"/>
<circle cx="994.29" cy="325.82" r="3.65" fill="#ff7f0e" fill-opacity="0.72" stroke="#000" stroke-opacity="0.75" stroke-width="0.9"/>
<circle cx="995.4" cy="360.45" r="3.65" fill="#ff7f0e" fill-opacity="0.72" stroke="#000" stroke-opacity="0.75" stroke-width="0.9"/>
<circle cx="996.46" cy="361.22" r="3.65" fill="#ff7f0e" fill-opacity="0.72" stroke="#000" stroke-opacity="0.75" stroke-width="0.9"/>
<circle cx="997.36" cy="421.59" r="3.65" fill="#ff7f0e" fill-opacity="0.72" stroke="#000" stroke-opacity="0.75" stroke-width="0.9"/>
<circle cx="998.62" cy="432.25" r="3.65" fill="#ff7f0e" fill-opacity="0.72" stroke="#000" stroke-opacity="0.75" stroke-width="0.9"/>
<circle cx="999.47" cy="475.95" r="3.65" fill="#ff7f0e" fill-opacity="0.72" stroke="#000" stroke-opacity="0.75" stroke-width="0.9"/>
<circle cx="1000.51" cy="438.36" r="3.65" fill="#ff7f0e" fill-opacity="0.72" stroke="#000" stroke-opacity="0.75" stroke-width="0.9"/>
<circle cx="1001.5" cy="461.67" r="3.65" fill="#ff7f0e" fill-opacity="0.72" stroke="#000" stroke-opacity="0.75" stroke-width="0.9"/>
<circle cx="1002.93" cy="482.11" r="3.65" fill="#ff7f0e" fill-opacity="0.72" stroke="#000" stroke-opacity="0.75" stroke-width="0.9"/>
<circle cx="1003.68" cy="453.65" r="3.65" fill="#ff7f0e" fill-opacity="0.72" stroke="#000" stroke-opacity="0.75" stroke-width="0.9"/>
<circle cx="1004.68" cy="513.39" r="3.65" fill="#ff7f0e" fill-opacity="0.72" stroke="#000" stroke-opacity="0.75" stroke-width="0.9"/>
<circle cx="1005.94" cy="524.01" r="3.65" fill="#ff7f0e" fill-opacity="0.72" stroke="#000" stroke-opacity="0.75" stroke-width="0.9"/>
<circle cx="1007.07" cy="544.07" r="3.65" fill="#ff7f0e" fill-opacity="0.72" stroke="#000" stroke-opacity="0.75" stroke-width="0.9"/>
<circle cx="1007.99" cy="505.5" r="3.65" fill="#ff7f0e" fill-opacity="0.72" stroke="#000" stroke-opacity="0.75" stroke-width="0.9"/>
<circle cx="1009.28" cy="526.04" r="3.65" fill="#ff7f0e" fill-opacity="0.72" stroke="#000" stroke-opacity="0.75" stroke-width="0.9"/>
<circle cx="1009.93" cy="531.86" r="3.65" fill="#ff7f0e" fill-opacity="0.72" stroke="#000" stroke-opacity="0.75" stroke-width="0.9"/>
<circle cx="1011.05" cy="522.36" r="3.65" fill="#ff7f0e" fill-opacity="0.72" stroke="#000" stroke-opacity="0.75" stroke-width="0.9"/>
<circle cx="1012.36" cy="502.79" r="3.65" fill="#ff7f0e" fill-opacity="0.72" stroke="#000" stroke-opacity="0.75" stroke-width="0.9"/>
<circle cx="1013.33" cy="535.2" r="3.65" fill="#ff7f0e" fill-opacity="0.72" stroke="#000" stroke-opacity="0.75" stroke-width="0.9"/>
<circle cx="1014.43" cy="541.94" r="3.65" fill="#ff7f0e" fill-opacity="0.72" stroke="#000" stroke-opacity="0.75" stroke-width="0.9"/>
<circle cx="1015.43" cy="537.54" r="3.65" fill="#ff7f0e" fill-opacity="0.72" stroke="#000" stroke-opacity="0.75" stroke-width="0.9"/>
<circle cx="1016.76" cy="545.89" r="3.65" fill="#ff7f0e" fill-opacity="0.72" stroke="#000" stroke-opacity="0.75" stroke-width="0.9"/>
<circle cx="1017.8" cy="530.87" r="3.65" fill="#ff7f0e" fill-opacity="0.72" stroke="#000" stroke-opacity="0.75" stroke-width="0.9"/>
<circle cx="1018.96" cy="526.59" r="3.65" fill="#ff7f0e" fill-opacity="0.72" stroke="#000" stroke-opacity="0.75" stroke-width="0.9"/>
<circle cx="1019.66" cy="520.34" r="3.65" fill="#ff7f0e" fill-opacity="0.72" stroke="#000" stroke-opacity="0.75" stroke-width="0.9"/>
<circle cx="1021.04" cy="513.85" r="3.65" fill="#ff7f0e" fill-opacity="0.72" stroke="#000" stroke-opacity="0.75" stroke-width="0.9"/>
<circle cx="1022.05" cy="506.49" r="3.65" fill="#ff7f0e" fill-opacity="0.72" stroke="#000" stroke-opacity="0.75" stroke-width="0.9"/>
<circle cx="1022.75" cy="511.05" r="3.65" fill="#ff7f0e" fill-opacity="0.72" stroke="#000" stroke-opacity="0.75" stroke-width="0.9"/>
<circle cx="1023.96" cy="538.13" r="3.65" fill="#ff7f0e" fill-opacity="0.72" stroke="#000" stroke-opacity="0.75" stroke-width="0.9"/>
<circle cx="1025.13" cy="486.83" r="3.65" fill="#ff7f0e" fill-opacity="0.72" stroke="#000" stroke-opacity="0.75" stroke-width="0.9"/>
<circle cx="1026.11" cy="492.19" r="3.65" fill="#ff7f0e" fill-opacity="0.72" stroke="#000" stroke-opacity="0.75" stroke-width="0.9"/>
<circle cx="1027.35" cy="521.52" r="3.65" fill="#ff7f0e" fill-opacity="0.72" stroke="#000" stroke-opacity="0.75" stroke-width="0.9"/>
<circle cx="1028.45" cy="533.27" r="3.65" fill="#ff7f0e" fill-opacity="0.72" stroke="#000" stroke-opacity="0.75" stroke-width="0.9"/>
<circle cx="1029.51" cy="520.63" r="3.65" fill="#ff7f0e" fill-opacity="0.72" stroke="#000" stroke-opacity="0.75" stroke-width="0.9"/>
<circle cx="1030.25" cy="486.38" r="3.65" fill="#ff7f0e" fill-opacity="0.72" stroke="#000" stroke-opacity="0.75" stroke-width="0.9"/>
<circle cx="1031.49" cy="522.23" r="3.65" fill="#ff7f0e" fill-opacity="0.72" stroke="#000" stroke-opacity="0.75" stroke-width="0.9"/>
<circle cx="1032.55" cy="548.85" r="3.65" fill="#ff7f0e" fill-opacity="0.72" stroke="#000" stroke-opacity="0.75" stroke-width="0.9"/>
<circle cx="1033.4" cy="497.78" r="3.65" fill="#ff7f0e" fill-opacity="0.72" stroke="#000" stroke-opacity="0.75" stroke-width="0.9"/>
<circle cx="1034.83" cy="551.33" r="3.65" fill="#ff7f0e" fill-opacity="0.72" stroke="#000" stroke-opacity="0.75" stroke-width="0.9"/>
<circle cx="1035.5" cy="522.91" r="3.65" fill="#ff7f0e" fill-opacity="0.72" stroke="#000" stroke-opacity="0.75" stroke-width="0.9"/>
<circle cx="1036.82" cy="534.35" r="3.65" fill="#ff7f0e" fill-opacity="0.72" stroke="#000" stroke-opacity="0.75" stroke-width="0.9"/>
<circle cx="1037.71" cy="512.14" r="3.65" fill="#ff7f0e" fill-opacity="0.72" stroke="#000" stroke-opacity="0.75" stroke-width="0.9"/>
<circle cx="1038.9" cy="530.02" r="3.65" fill="#ff7f0e" fill-opacity="0.72" stroke="#000" stroke-opacity="0.75" stroke-width="0.9"/>
<circle cx="1039.96" cy="530.04" r="3.65" fill="#ff7f0e" fill-opacity="0.72" stroke="#000" stroke-opacity="0.75" stroke-width="0.9"/>
<circle cx="1041.13" cy="516.1" r="3.65" fill="#ff7f0e" fill-opacity="0.72" stroke="#000" stroke-opacity="0.75" stroke-width="0.9"/>
<circle cx="1042.36" cy="559.78" r="3.65" fill="#ff7f0e" fill-opacity="0.72" stroke="#000" stroke-opacity="0.75" stroke-width="0.9"/>
<circle cx="1043.08" cy="478.21" r="3.65" fill="#ff7f0e" fill-opacity="0.72" stroke="#000" stroke-opacity="0.75" stroke-width="0.9"/>
<circle cx="1044.11" cy="592.33" r="3.65" fill="#ff7f0e" fill-opacity="0.72" stroke="#000" stroke-opacity="0.75" stroke-width="0.9"/>
<circle cx="1045.45" cy="502.23" r="3.65" fill="#ff7f0e" fill-opacity="0.72" stroke="#000" stroke-opacity="0.75" stroke-width="0.9"/>
<circle cx="1046.43" cy="493.88" r="3.65" fill="#ff7f0e" fill-opacity="0.72" stroke="#000" stroke-opacity="0.75" stroke-width="0.9"/>
<circle cx="1047.17" cy="515.31" r="3.65" fill="#ff7f0e" fill-opacity="0.72" stroke="#000" stroke-opacity="0.75" stroke-width="0.9"/>
<circle cx="1048.26" cy="537.05" r="3.65" fill="#ff7f0e" fill-opacity="0.72" stroke="#000" stroke-opacity="0.75" stroke-width="0.9"/>
<circle cx="1049.34" cy="508.43" r="3.65" fill="#ff7f0e" fill-opacity="0.72" stroke="#000" stroke-opacity="0.75" stroke-width="0.9"/>
<circle cx="1050.62" cy="510.15" r="3.65" fill="#ff7f0e" fill-opacity="0.72" stroke="#000" stroke-opacity="0.75" stroke-width="0.9"/>
<circle cx="1051.9" cy="583.04" r="3.65" fill="#ff7f0e" fill-opacity="0.72" stroke="#000" stroke-opacity="0.75" stroke-width="0.9"/>
<circle cx="1052.71" cy="492.33" r="3.65" fill="#ff7f0e" fill-opacity="0.72" stroke="#000" stroke-opacity="0.75" stroke-width="0.9"/>
<circle cx="1053.77" cy="459.9" r="3.65" fill="#ff7f0e" fill-opacity="0.72" stroke="#000" stroke-opacity="0.75" stroke-width="0.9"/>
<circle cx="1054.79" cy="507.09" r="3.65" fill="#ff7f0e" fill-opacity="0.72" stroke="#000" stroke-opacity="0.75" stroke-width="0.9"/>
<circle cx="1056.18" cy="553.51" r="3.65" fill="#ff7f0e" fill-opacity="0.72" stroke="#000" stroke-opacity="0.75" stroke-width="0.9"/>
<circle cx="1057.11" cy="507.92" r="3.65" fill="#ff7f0e" fill-opacity="0.72" stroke="#000" stroke-opacity="0.75" stroke-width="0.9"/>
<circle cx="1058.3" cy="527.82" r="3.65" fill="#ff7f0e" fill-opacity="0.72" stroke="#000" stroke-opacity="0.75" stroke-width="0.9"/>
<circle cx="1059.15" cy="530.16" r="3.65" fill="#ff7f0e" fill-opacity="0.72" stroke="#000" stroke-opacity="0.75" stroke-width="0.9"/>
<circle cx="1060.06" cy="544.24" r="3.65" fill="#ff7f0e" fill-opacity="0.72" stroke="#000" stroke-opacity="0.75" stroke-width="0.9"/>
<circle cx="1061.15" cy="489.47" r="3.65" fill="#ff7f0e" fill-opacity="0.72" stroke="#000" stroke-opacity="0.75" stroke-width="0.9"/>
<circle cx="1062.12" cy="462.32" r="3.65" fill="#ff7f0e" fill-opacity="0.72" stroke="#000" stroke-opacity="0.75" stroke-width="0.9"/>
<circle cx="1063.25" cy="534.86" r="3.65" fill="#ff7f0e" fill-opacity="0.72" stroke="#000" stroke-opacity="0.75" stroke-width="0.9"/>
<circle cx="1064.3" cy="536.24" r="3.65" fill="#ff7f0e" fill-opacity="0.72" stroke="#000" stroke-opacity="0.75" stroke-width="0.9"/>
<circle cx="1065.38" cy="522.24" r="3.65" fill="#ff7f0e" fill-opacity="0.72" stroke="#000" stroke-opacity="0.75" stroke-width="0.9"/>
<circle cx="1066.71" cy="518.77" r="3.65" fill="#ff7f0e" fill-opacity="0.72" stroke="#000" stroke-opacity="0.75" stroke-width="0.9"/>
<circle cx="1067.73" cy="544.02" r="3.65" fill="#ff7f0e" fill-opacity="0.72" stroke="#000" stroke-opacity="0.75" stroke-width="0.9"/>
<circle cx="1068.74" cy="468.76" r="3.65" fill="#ff7f0e" fill-opacity="0.72" stroke="#000" stroke-opacity="0.75" stroke-width="0.9"/>
<circle cx="1069.62" cy="503.55" r="3.65" fill="#ff7f0e" fill-opacity="0.72" stroke="#000" stroke-opacity="0.75" stroke-width="0.9"/>
<circle cx="1071" cy="526.89" r="3.65" fill="#ff7f0e" fill-opacity="0.72" stroke="#000" stroke-opacity="0.75" stroke-width="0.9"/>
<circle cx="1072.07" cy="470.21" r="3.65" fill="#ff7f0e" fill-opacity="0.72" stroke="#000" stroke-opacity="0.75" stroke-width="0.9"/>
<circle cx="1072.92" cy="521.67" r="3.65" fill="#ff7f0e" fill-opacity="0.72" stroke="#000" stroke-opacity="0.75" stroke-width="0.9"/>
<circle cx="1074.03" cy="494.67" r="3.65" fill="#ff7f0e" fill-opacity="0.72" stroke="#000" stroke-opacity="0.75" stroke-width="0.9"/>
<circle cx="1074.95" cy="532.52" r="3.65" fill="#ff7f0e" fill-opacity="0.72" stroke="#000" stroke-opacity="0.75" stroke-width="0.9"/>
<circle cx="1075.91" cy="500.21" r="3.65" fill="#ff7f0e" fill-opacity="0.72" stroke="#000" stroke-opacity="0.75" stroke-width="0.9"/>
<circle cx="1077.33" cy="542.27" r="3.65" fill="#ff7f0e" fill-opacity="0.72" stroke="#000" stroke-opacity="0.75" stroke-width="0.9"/>
<circle cx="1078.36" cy="459.66" r="3.65" fill="#ff7f0e" fill-opacity="0.72" stroke="#000" stroke-opacity="0.75" stroke-width="0.9"/>
<circle cx="1079.58" cy="530.6" r="3.65" fill="#ff7f0e" fill-opacity="0.72" stroke="#000" stroke-opacity="0.75" stroke-width="0.9"/>
<circle cx="1080.41" cy="503.06" r="3.65" fill="#ff7f0e" fill-opacity="0.72" stroke="#000" stroke-opacity="0.75" stroke-width="0.9"/>
<circle cx="1081.27" cy="535" r="3.65" fill="#ff7f0e" fill-opacity="0.72" stroke="#000" stroke-opacity="0.75" stroke-width="0.9"/>
<circle cx="1082.61" cy="451.32" r="3.65" fill="#ff7f0e" fill-opacity="0.72" stroke="#000" stroke-opacity="0.75" stroke-width="0.9"/>
<circle cx="1083.51" cy="509.71" r="3.65" fill="#ff7f0e" fill-opacity="0.72" stroke="#000" stroke-opacity="0.75" stroke-width="0.9"/>
<circle cx="1084.63" cy="528.69" r="3.65" fill="#ff7f0e" fill-opacity="0.72" stroke="#000" stroke-opacity="0.75" stroke-width="0.9"/>
<circle cx="1085.75" cy="493.5" r="3.65" fill="#ff7f0e" fill-opacity="0.72" stroke="#000" stroke-opacity="0.75" stroke-width="0.9"/>
<circle cx="1086.95" cy="491.91" r="3.65" fill="#ff7f0e" fill-opacity="0.72" stroke="#000" stroke-opacity="0.75" stroke-width="0.9"/>
<circle cx="1087.72" cy="510.49" r="3.65" fill="#ff7f0e" fill-opacity="0.72" stroke="#000" stroke-opacity="0.75" stroke-width="0.9"/>
<circle cx="1089.17" cy="520.1" r="3.65" fill="#ff7f0e" fill-opacity="0.72" stroke="#000" stroke-opacity="0.75" stroke-width="0.9"/>
<circle cx="1090.22" cy="467.48" r="3.65" fill="#ff7f0e" fill-opacity="0.72" stroke="#000" stroke-opacity="0.75" stroke-width="0.9"/>
<circle cx="1090.99" cy="488.29" r="3.65" fill="#ff7f0e" fill-opacity="0.72" stroke="#000" stroke-opacity="0.75" stroke-width="0.9"/>
<circle cx="1091.97" cy="436.22" r="3.65" fill="#ff7f0e" fill-opacity="0.72" stroke="#000" stroke-opacity="0.75" stroke-width="0.9"/>
<circle cx="1093.29" cy="443.74" r="3.65" fill="#ff7f0e" fill-opacity="0.72" stroke="#000" stroke-opacity="0.75" stroke-width="0.9"/>
<circle cx="1094.28" cy="391.25" r="3.65" fill="#ff7f0e" fill-opacity="0.72" stroke="#000" stroke-opacity="0.75" stroke-width="0.9"/>
<circle cx="1095.45" cy="408.58" r="3.65" fill="#ff7f0e" fill-opacity="0.72" stroke="#000" stroke-opacity="0.75" stroke-width="0.9"/>
<circle cx="1096.61" cy="421.62" r="3.65" fill="#ff7f0e" fill-opacity="0.72" stroke="#000" stroke-opacity="0.75" stroke-width="0.9"/>
<circle cx="1097.67" cy="339.31" r="3.65" fill="#ff7f0e" fill-opacity="0.72" stroke="#000" stroke-opacity="0.75" stroke-width="0.9"/>
<circle cx="1098.47" cy="395.47" r="3.65" fill="#ff7f0e" fill-opacity="0.72" stroke="#000" stroke-opacity="0.75" stroke-width="0.9"/>
<circle cx="1099.49" cy="359.91" r="3.65" fill="#ff7f0e" fill-opacity="0.72" stroke="#000" stroke-opacity="0.75" stroke-width="0.9"/>
<circle cx="1100.76" cy="403.47" r="3.65" fill="#ff7f0e" fill-opacity="0.72" stroke="#000" stroke-opacity="0.75" stroke-width="0.9"/>
<circle cx="1101.63" cy="383.59" r="3.65" fill="#ff7f0e" fill-opacity="0.72" stroke="#000" stroke-opacity="0.75" stroke-width="0.9"/>
<circle cx="1102.88" cy="376.71" r="3.65" fill="#ff7f0e" fill-opacity="0.72" stroke="#000" stroke-opacity="0.75" stroke-width="0.9"/>
<circle cx="1103.71" cy="424.32" r="3.65" fill="#ff7f0e" fill-opacity="0.72" stroke="#000" stroke-opacity="0.75" stroke-width="0.9"/>
<circle cx="1105.06" cy="379.64" r="3.65" fill="#ff7f0e" fill-opacity="0.72" stroke="#000" stroke-opacity="0.75" stroke-width="0.9"/>
<circle cx="1106.18" cy="391.81" r="3.65" fill="#ff7f0e" fill-opacity="0.72" stroke="#000" stroke-opacity="0.75" stroke-width="0.9"/>
<circle cx="1107.24" cy="398.82" r="3.65" fill="#ff7f0e" fill-opacity="0.72" stroke="#000" stroke-opacity="0.75" stroke-width="0.9"/>
<circle cx="1107.84" cy="434.66" r="3.65" fill="#ff7f0e" fill-opacity="0.72" stroke="#000" stroke-opacity="0.75" stroke-width="0.9"/>
<circle cx="1109.32" cy="350.46" r="3.65" fill="#ff7f0e" fill-opacity="0.72" stroke="#000" stroke-opacity="0.75" stroke-width="0.9"/>
<circle cx="1110.25" cy="371.49" r="3.65" fill="#ff7f0e" fill-opacity="0.72" stroke="#000" stroke-opacity="0.75" stroke-width="0.9"/>
<circle cx="1111.02" cy="395.6" r="3.65" fill="#ff7f0e" fill-opacity="0.72" stroke="#000" stroke-opacity="0.75" stroke-width="0.9"/>
<circle cx="1112.22" cy="376.57" r="3.65" fill="#ff7f0e" fill-opacity="0.72" stroke="#000" stroke-opacity="0.75" stroke-width="0.9"/>
<circle cx="1113.3" cy="387.17" r="3.65" fill="#ff7f0e" fill-opacity="0.72" stroke="#000" stroke-opacity="0.75" stroke-width="0.9"/>
<circle cx="1114.46" cy="369.29" r="3.65" fill="#ff7f0e" fill-opacity="0.72" stroke="#000" stroke-opacity="0.75" stroke-width="0.9"/>
<circle cx="1115.31" cy="331.85" r="3.65" fill="#ff7f0e" fill-opacity="0.72" stroke="#000" stroke-opacity="0.75" stroke-width="0.9"/>
<circle cx="1116.37" cy="380.64" r="3.65" fill="#ff7f0e" fill-opacity="0.72" stroke="#000" stroke-opacity="0.75" stroke-width="0.9"/>
<circle cx="1117.5" cy="385.31" r="3.65" fill="#ff7f0e" fill-opacity="0.72" stroke="#000" stroke-opacity="0.75" stroke-width="0.9"/>
<circle cx="1118.67" cy="367.75" r="3.65" fill="#ff7f0e" fill-opacity="0.72" stroke="#000" stroke-opacity="0.75" stroke-width="0.9"/>
<circle cx="1119.82" cy="402.7" r="3.65" fill="#ff7f0e" fill-opacity="0.72" stroke="#000" stroke-opacity="0.75" stroke-width="0.9"/>
<circle cx="1121" cy="423.92" r="3.65" fill="#ff7f0e" fill-opacity="0.72" stroke="#000" stroke-opacity="0.75" stroke-width="0.9"/>
<circle cx="1121.65" cy="421.08" r="3.65" fill="#ff7f0e" fill-opacity="0.72" stroke="#000" stroke-opacity="0.75" stroke-width="0.9"/>
<circle cx="1122.99" cy="334.52" r="3.65" fill="#ff7f0e" fill-opacity="0.72" stroke="#000" stroke-opacity="0.75" stroke-width="0.9"/>
<circle cx="1123.78" cy="380.32" r="3.65" fill="#ff7f0e" fill-opacity="0.72" stroke="#000" stroke-opacity="0.75" stroke-width="0.9"/>
<circle cx="1124.88" cy="421.61" r="3.65" fill="#ff7f0e" fill-opacity="0.72" stroke="#000" stroke-opacity="0.75" stroke-width="0.9"/>
<circle cx="1125.9" cy="371.69" r="3.65" fill="#ff7f0e" fill-opacity="0.72" stroke="#000" stroke-opacity="0.75" stroke-width="0.9"/>
<circle cx="1127.3" cy="369.28" r="3.65" fill="#ff7f0e" fill-opacity="0.72" stroke="#000" stroke-opacity="0.75" stroke-width="0.9"/>
<circle cx="1128.05" cy="374.21" r="3.65" fill="#ff7f0e" fill-opacity="0.72" stroke="#000" stroke-opacity="0.75" stroke-width="0.9"/>
<circle cx="1129.47" cy="366.41" r="3.65" fill="#ff7f0e" fill-opacity="0.72" stroke="#000" stroke-opacity="0.75" stroke-width="0.9"/>
<circle cx="1130.32" cy="429.8" r="3.65" fill="#ff7f0e" fill-opacity="0.72" stroke="#000" stroke-opacity="0.75" stroke-width="0.9"/>
<circle cx="1131.35" cy="341.22" r="3.65" fill="#ff7f0e" fill-opacity="0.72" stroke="#000" stroke-opacity="0.75" stroke-width="0.9"/>
<circle cx="1132.8" cy="401.78" r="3.65" fill="#ff7f0e" fill-opacity="0.72" stroke="#000" stroke-opacity="0.75" stroke-width="0.9"/>
<circle cx="1133.56" cy="360.75" r="3.65" fill="#ff7f0e" fill-opacity="0.72" stroke="#000" stroke-opacity="0.75" stroke-width="0.9"/>
<circle cx="1134.83" cy="418.69" r="3.65" fill="#ff7f0e" fill-opacity="0.72" stroke="#000" stroke-opacity="0.75" stroke-width="0.9"/>
<circle cx="1135.74" cy="384.31" r="3.65" fill="#ff7f0e" fill-opacity="0.72" stroke="#000" stroke-opacity="0.75" stroke-width="0.9"/>
<circle cx="1136.68" cy="422.44" r="3.65" fill="#ff7f0e" fill-opacity="0.72" stroke="#000" stroke-opacity="0.75" stroke-width="0.9"/>
<circle cx="1137.85" cy="352.6" r="3.65" fill="#ff7f0e" fill-opacity="0.72" stroke="#000" stroke-opacity="0.75" stroke-width="0.9"/>
<circle cx="1138.84" cy="381.74" r="3.65" fill="#ff7f0e" fill-opacity="0.72" stroke="#000" stroke-opacity="0.75" stroke-width="0.9"/>
<circle cx="1139.82" cy="383.6" r="3.65" fill="#ff7f0e" fill-opacity="0.72" stroke="#000" stroke-opacity="0.75" stroke-width="0.9"/>
<circle cx="1140.96" cy="424.61" r="3.65" fill="#ff7f0e" fill-opacity="0.72" stroke="#000" stroke-opacity="0.75" stroke-width="0.9"/>
<circle cx="1142.35" cy="366.87" r="3.65" fill="#ff7f0e" fill-opacity="0.72" stroke="#000" stroke-opacity="0.75" stroke-width="0.9"/>
<circle cx="1143.21" cy="404.32" r="3.65" fill="#ff7f0e" fill-opacity="0.72" stroke="#000" stroke-opacity="0.75" stroke-width="0.9"/>
<circle cx="1143.98" cy="443.49" r="3.65" fill="#ff7f0e" fill-opacity="0.72" stroke="#000" stroke-opacity="0.75" stroke-width="0.9"/>
<circle cx="1145.32" cy="331.31" r="3.65" fill="#ff7f0e" fill-opacity="0.72" stroke="#000" stroke-opacity="0.75" stroke-width="0.9"/>
<circle cx="1146.64" cy="389.59" r="3.65" fill="#ff7f0e" fill-opacity="0.72" stroke="#000" stroke-opacity="0.75" stroke-width="0.9"/>
<circle cx="1147.21" cy="393.83" r="3.65" fill="#ff7f0e" fill-opacity="0.72" stroke="#000" stroke-opacity="0.75" stroke-width="0.9"/>
<circle cx="1148.28" cy="392.51" r="3.65" fill="#ff7f0e" fill-opacity="0.72" stroke="#000" stroke-opacity="0.75" stroke-width="0.9"/>
<circle cx="1149.71" cy="476.07" r="3.65" fill="#ff7f0e" fill-opacity="0.72" stroke="#000" stroke-opacity="0.75" stroke-width="0.9"/>
<circle cx="1150.69" cy="415.34" r="3.65" fill="#ff7f0e" fill-opacity="0.72" stroke="#000" stroke-opacity="0.75" stroke-width="0.9"/>
<circle cx="1151.5" cy="378.1" r="3.65" fill="#ff7f0e" fill-opacity="0.72" stroke="#000" stroke-opacity="0.75" stroke-width="0.9"/>
<circle cx="1152.71" cy="360.92" r="3.65" fill="#ff7f0e" fill-opacity="0.72" stroke="#000" stroke-opacity="0.75" stroke-width="0.9"/>
<circle cx="1153.85" cy="362.74" r="3.65" fill="#ff7f0e" fill-opacity="0.72" stroke="#000" stroke-opacity="0.75" stroke-width="0.9"/>
<circle cx="1154.82" cy="383.53" r="3.65" fill="#ff7f0e" fill-opacity="0.72" stroke="#000" stroke-opacity="0.75" stroke-width="0.9"/>
<circle cx="1156.15" cy="415.93" r="3.65" fill="#ff7f0e" fill-opacity="0.72" stroke="#000" stroke-opacity="0.75" stroke-width="0.9"/>
<circle cx="1157.13" cy="423.15" r="3.65" fill="#ff7f0e" fill-opacity="0.72" stroke="#000" stroke-opacity="0.75" stroke-width="0.9"/>
<circle cx="1158.15" cy="424.41" r="3.65" fill="#ff7f0e" fill-opacity="0.72" stroke="#000" stroke-opacity="0.75" stroke-width="0.9"/>
<circle cx="1159.36" cy="364.03" r="3.65" fill="#ff7f0e" fill-opacity="0.72" stroke="#000" stroke-opacity="0.75" stroke-width="0.9"/>
<circle cx="1160.46" cy="399.95" r="3.65" fill="#ff7f0e" fill-opacity="0.72" stroke="#000" stroke-opacity="0.75" stroke-width="0.9"/>
<circle cx="1161.14" cy="348.98" r="3.65" fill="#ff7f0e" fill-opacity="0.72" stroke="#000" stroke-opacity="0.75" stroke-width="0.9"/>
<circle cx="1162.41" cy="424.59" r="3.65" fill="#ff7f0e" fill-opacity="0.72" stroke="#000" stroke-opacity="0.75" stroke-width="0.9"/>
<circle cx="1163.19" cy="379.75" r="3.65" fill="#ff7f0e" fill-opacity="0.72" stroke="#000" stroke-opacity="0.75" stroke-width="0.9"/>
<circle cx="1164.38" cy="417.34" r="3.65" fill="#ff7f0e" fill-opacity="0.72" stroke="#000" stroke-opacity="0.75" stroke-width="0.9"/>
<circle cx="1165.77" cy="367.5" r="3.65" fill="#ff7f0e" fill-opacity="0.72" stroke="#000" stroke-opacity="0.75" stroke-width="0.9"/>
<circle cx="1166.45" cy="380.51" r="3.65" fill="#ff7f0e" fill-opacity="0.72" stroke="#000" stroke-opacity="0.75" stroke-width="0.9"/>
<circle cx="1167.85" cy="398.64" r="3.65" fill="#ff7f0e" fill-opacity="0.72" stroke="#000" stroke-opacity="0.75" stroke-width="0.9"/>
<circle cx="1168.72" cy="389.07" r="3.65" fill="#ff7f0e" fill-opacity="0.72" stroke="#000" stroke-opacity="0.75" stroke-width="0.9"/>
<circle cx="1169.76" cy="401.65" r="3.65" fill="#ff7f0e" fill-opacity="0.72" stroke="#000" stroke-opacity="0.75" stroke-width="0.9"/>
<circle cx="1170.74" cy="424.22" r="3.65" fill="#ff7f0e" fill-opacity="0.72" stroke="#000" stroke-opacity="0.75" stroke-width="0.9"/>
<circle cx="1171.8" cy="416.27" r="3.65" fill="#ff7f0e" fill-opacity="0.72" stroke="#000" stroke-opacity="0.75" stroke-width="0.9"/>
<path d="M869.47 409.36 L870.23 408.91 L870.99 408.46 L871.75 408.02 L872.5 407.58 L873.26 407.14 L874.02 406.7 L874.78 406.27 L875.54 405.84 L876.29 405.41 L877.05 404.98 L877.81 404.56 L878.57 404.14 L879.33 403.73 L880.09 403.31 L880.84 402.9 L881.6 402.49 L882.36 402.09 L883.12 401.68 L883.88 401.28 L884.63 400.89 L885.39 400.49 L886.15 400.1 L886.91 399.71 L887.67 399.32 L888.42 398.94 L889.18 398.56 L889.94 398.18 L890.7 397.81 L891.46 397.43 L892.22 397.06 L892.97 396.7 L893.73 396.33 L894.49 395.97 L895.25 395.61 L896.01 395.25 L896.76 394.9 L897.52 394.55 L898.28 394.2 L899.04 393.86 L899.8 393.51 L900.55 393.17 L901.31 392.84 L902.07 392.5 L902.83 392.17 L903.59 391.84 L904.34 391.52 L905.1 391.19 L905.86 390.87 L906.62 390.56 L907.38 390.24 L908.14 389.93 L908.89 389.62 L909.65 389.31 L910.41 389.01 L911.17 388.71 L911.93 388.41 L912.68 388.11 L913.44 387.82 L914.2 387.53 L914.96 387.24 L915.72 386.96 L916.47 386.67 L917.23 386.39 L917.99 386.12 L918.75 385.84 L919.51 385.57 L920.26 385.3 L921.02 385.04 L921.78 384.78 L922.54 384.52 L923.3 384.26 L924.06 384 L924.81 383.75 L925.57 383.5 L926.33 383.26 L927.09 383.01 L927.85 382.77 L928.6 382.53 L929.36 382.3 L930.12 382.07 L930.88 381.84 L931.64 381.61 L932.39 381.38 L933.15 381.16 L933.91 380.94 L934.67 380.73 L935.43 380.51 L936.18 380.3 L936.94 380.1 L937.7 379.89 L938.46 379.69 L939.22 379.49 L939.98 379.29 L940.73 379.1 L941.49 378.91 L942.25 378.72 L943.01 378.53 L943.77 378.35 L944.52 378.17 L945.28 377.99 L946.04 377.81 L946.8 377.64 L947.56 377.47 L948.31 377.31 L949.07 377.14 L949.83 376.98 L950.59 376.82 L951.35 376.67 L952.1 376.51 L952.86 376.36 L953.62 376.22 L954.38 376.07 L955.14 375.93 L955.9 375.79 L956.65 375.65 L957.41 375.52 L958.17 375.39 L958.93 375.26 L959.69 375.13 L960.44 375.01 L961.2 374.89 L961.96 374.77 L962.72 374.66 L963.48 374.55 L964.23 374.44 L964.99 374.33 L965.75 374.23 L966.51 374.13 L967.27 374.03 L968.03 373.93 L968.78 373.84 L969.54 373.75 L970.3 373.66 L971.06 373.58 L971.82 373.5 L972.57 373.42 L973.33 373.34 L974.09 373.27 L974.85 373.2 L975.61 373.13 L976.36 373.07 L977.12 373 L977.88 372.94 L978.64 372.89 L979.4 372.83 L980.15 372.78 L980.91 372.73 L981.67 372.69 L982.43 372.64 L983.19 372.6 L983.95 372.57 L984.7 372.53 L985.46 372.5 L986.22 372.47 L986.98 372.44 L987.74 372.42 L988.49 372.4 L989.25 372.38 L990.01 372.36 L990.77 372.35 L991.53 372.34 L992.28 372.33 L993.04 372.33 L993.8 372.33 L994.56 372.33 L995.32 372.33 L996.07 382.18 L996.83 392.17 L997.59 402.17 L998.35 412.16 L999.11 422.15 L999.87 432.15 L1000.62 442.14 L1001.38 452.14 L1002.14 462.13 L1002.9 472.13 L1003.66 482.12 L1004.41 492.12 L1005.17 502.11 L1005.93 512.11 L1006.69 516.62 L1007.45 516.62 L1008.2 516.62 L1008.96 516.62 L1009.72 516.62 L1010.48 516.62 L1011.24 516.62 L1011.99 516.62 L1012.75 516.62 L1013.51 516.62 L1014.27 516.62 L1015.03 516.62 L1015.79 516.62 L1016.54 516.62 L1017.3 516.62 L1018.06 516.62 L1018.82 516.62 L1019.58 516.62 L1020.33 516.62 L1021.09 516.62 L1021.85 516.62 L1022.61 516.62 L1023.37 516.62 L1024.12 516.62 L1024.88 516.62 L1025.64 516.62 L1026.4 516.62 L1027.16 516.62 L1027.91 516.62 L1028.67 516.62 L1029.43 516.62 L1030.19 516.62 L1030.95 516.62 L1031.71 516.62 L1032.46 516.62 L1033.22 516.62 L1033.98 516.62 L1034.74 516.62 L1035.5 516.62 L1036.25 516.62 L1037.01 516.62 L1037.77 516.62 L1038.53 516.62 L1039.29 516.62 L1040.04 516.62 L1040.8 516.62 L1041.56 516.62 L1042.32 516.62 L1043.08 516.62 L1043.84 516.62 L1044.59 516.62 L1045.35 516.62 L1046.11 516.62 L1046.87 516.62 L1047.63 516.62 L1048.38 516.62 L1049.14 516.62 L1049.9 516.62 L1050.66 516.62 L1051.42 516.62 L1052.17 516.62 L1052.93 516.62 L1053.69 516.62 L1054.45 516.62 L1055.21 516.62 L1055.96 516.62 L1056.72 516.62 L1057.48 516.62 L1058.24 516.62 L1059 516.62 L1059.76 516.62 L1060.51 516.62 L1061.27 516.62 L1062.03 516.62 L1062.79 516.62 L1063.55 516.62 L1064.3 516.62 L1065.06 516.62 L1065.82 516.62 L1066.58 516.62 L1067.34 516.62 L1068.09 516.62 L1068.85 516.62 L1069.61 516.62 L1070.37 516.62 L1071.13 516.62 L1071.88 516.62 L1072.64 516.62 L1073.4 516.62 L1074.16 516.62 L1074.92 516.62 L1075.68 516.62 L1076.43 516.62 L1077.19 516.62 L1077.95 516.62 L1078.71 516.62 L1079.47 516.62 L1080.22 516.62 L1080.98 516.62 L1081.74 516.62 L1082.5 516.62 L1083.26 516.62 L1084.01 516.62 L1084.77 516.62 L1085.53 516.62 L1086.29 516.62 L1087.05 516.62 L1087.8 511.6 L1088.56 501.19 L1089.32 490.78 L1090.08 480.37 L1090.84 469.96 L1091.6 459.55 L1092.35 449.14 L1093.11 438.73 L1093.87 428.31 L1094.63 417.9 L1095.39 407.49 L1096.14 397.08 L1096.9 386.67 L1097.66 378.9 L1098.42 379.14 L1099.18 379.38 L1099.93 379.63 L1100.69 379.87 L1101.45 380.11 L1102.21 380.35 L1102.97 380.6 L1103.72 380.84 L1104.48 381.08 L1105.24 381.32 L1106 381.57 L1106.76 381.81 L1107.52 382.05 L1108.27 382.29 L1109.03 382.53 L1109.79 382.78 L1110.55 383.02 L1111.31 383.26 L1112.06 383.5 L1112.82 383.75 L1113.58 383.99 L1114.34 384.23 L1115.1 384.47 L1115.85 384.72 L1116.61 384.96 L1117.37 385.2 L1118.13 385.44 L1118.89 385.68 L1119.64 385.93 L1120.4 386.17 L1121.16 386.41 L1121.92 386.65 L1122.68 386.9 L1123.44 387.14 L1124.19 387.38 L1124.95 387.62 L1125.71 387.87 L1126.47 388.11 L1127.23 388.35 L1127.98 388.59 L1128.74 388.83 L1129.5 389.08 L1130.26 389.32 L1131.02 389.56 L1131.77 389.8 L1132.53 390.05 L1133.29 390.29 L1134.05 390.53 L1134.81 390.77 L1135.57 391.02 L1136.32 391.26 L1137.08 391.5 L1137.84 391.74 L1138.6 391.98 L1139.36 392.23 L1140.11 392.47 L1140.87 392.71 L1141.63 392.95 L1142.39 393.2 L1143.15 393.44 L1143.9 393.68 L1144.66 393.92 L1145.42 394.17 L1146.18 394.41 L1146.94 394.65 L1147.69 394.89 L1148.45 395.13 L1149.21 395.38 L1149.97 395.62 L1150.73 395.86 L1151.49 396.1 L1152.24 396.35 L1153 396.59 L1153.76 396.83 L1154.52 397.07 L1155.28 397.32 L1156.03 397.56 L1156.79 397.8 L1157.55 398.04 L1158.31 398.28 L1159.07 398.53 L1159.82 398.77 L1160.58 399.01 L1161.34 399.25 L1162.1 399.5 L1162.86 399.74 L1163.61 399.98 L1164.37 400.22 L1165.13 400.46 L1165.89 400.71 L1166.65 400.95 L1167.41 401.19 L1168.16 401.43 L1168.92 401.68 L1169.68 401.92 L1170.44 402.16 L1171.2 402.4 L1171.95 402.65 L1172.71 402.89" fill="none" stroke="#000" stroke-width="2"/>
</g>
<rect x="854.6" y="310" width="333.9" height="261.8" fill="none" stroke="#262626" stroke-width="1.5"/>
<line x1="846.6" y1="559.2" x2="854.6" y2="559.2" stroke="#1a1a1a" stroke-width="1.5" />
<text x="842" y="565" font-size="16.3" text-anchor="end" font-weight="normal" fill="#111" >−1,000</text>
<line x1="846.6" y1="509.1" x2="854.6" y2="509.1" stroke="#1a1a1a" stroke-width="1.5" />
<text x="842" y="514.9" font-size="16.3" text-anchor="end" font-weight="normal" fill="#111" >0</text>
<line x1="846.6" y1="459" x2="854.6" y2="459" stroke="#1a1a1a" stroke-width="1.5" />
<text x="842" y="464.8" font-size="16.3" text-anchor="end" font-weight="normal" fill="#111" >1,000</text>
<line x1="846.6" y1="408.9" x2="854.6" y2="408.9" stroke="#1a1a1a" stroke-width="1.5" />
<text x="842" y="414.7" font-size="16.3" text-anchor="end" font-weight="normal" fill="#111" >2,000</text>
<line x1="846.6" y1="358.8" x2="854.6" y2="358.8" stroke="#1a1a1a" stroke-width="1.5" />
<text x="842" y="364.6" font-size="16.3" text-anchor="end" font-weight="normal" fill="#111" >3,000</text>
<line x1="864" y1="571.8" x2="864" y2="580.3" stroke="#1a1a1a" stroke-width="1.5" />
<line x1="955.2" y1="571.8" x2="955.2" y2="580.3" stroke="#1a1a1a" stroke-width="1.5" />
<line x1="1046.4" y1="571.8" x2="1046.4" y2="580.3" stroke="#1a1a1a" stroke-width="1.5" />
<line x1="1137.6" y1="571.8" x2="1137.6" y2="580.3" stroke="#1a1a1a" stroke-width="1.5" />
<text x="863.5" y="533.5" font-size="17" font-family="Liberation Serif" font-style="italic" fill="#111">λ</text>
<text x="876.1" y="533.5" font-size="16.6" text-anchor="start" font-weight="normal" fill="#111" >=</text>
<text x="891.5" y="533.5" font-size="16.6" text-anchor="start" font-weight="normal" fill="#111" >2.77 μm</text>
<path d="M88.3 886.7 C88.87 884.47 90.67 886.08 91.7 873.3 C92.73 860.52 93.67 824.17 94.5 810 C95.33 795.83 96.03 790.3 96.7 788.3 C97.37 786.3 97.95 794.93 98.5 798 C99.05 801.07 99.2 804.15 100 806.7 C100.8 809.25 101.92 808.87 103.3 813.3 C104.68 817.73 106.93 827.18 108.3 833.3 C109.67 839.42 110.5 845.83 111.5 850 C112.5 854.17 113.47 858.3 114.3 858.3 C115.13 858.3 115.83 854.17 116.5 850 C117.17 845.83 117.47 843.3 118.3 833.3 C119.13 823.3 120.38 804.55 121.5 790 C122.62 775.45 124 751.83 125 746 C126 740.17 126.67 750.45 127.5 755 C128.33 759.55 128.75 764.13 130 773.3 C131.25 782.47 133.58 801.88 135 810 C136.42 818.12 137.38 819.22 138.5 822 C139.62 824.78 140.33 825.82 141.7 826.7 C143.07 827.58 145.32 829.25 146.7 827.3 C148.08 825.35 148.9 820.1 150 815 C151.1 809.9 151.88 806.7 153.3 796.7 C154.72 786.7 156.67 766.57 158.5 755 C160.33 743.43 162.63 731.47 164.3 727.3 C165.97 723.13 167 727.33 168.5 730 C170 732.67 171.88 737.47 173.3 743.3 C174.72 749.13 175.88 757.77 177 765 C178.12 772.23 178.95 780.42 180 786.7 C181.05 792.98 182.18 803.82 183.3 802.7 C184.42 801.58 185.42 791.28 186.7 780 C187.98 768.72 189.5 747.78 191 735 C192.5 722.22 194.2 705.8 195.7 703.3 C197.2 700.8 198.7 712.22 200 720 C201.3 727.78 202.38 740 203.5 750 C204.62 760 205.07 770.55 206.7 780 C208.33 789.45 211.42 801.37 213.3 806.7 C215.18 812.03 216.55 812.28 218 812 C219.45 811.72 220.55 811.45 222 805 C223.45 798.55 225.37 782.8 226.7 773.3 C228.03 763.8 228.9 754.67 230 748 C231.1 741.33 231.63 735.18 233.3 733.3 C234.97 731.42 237.22 733.92 240 736.7 C242.78 739.48 247.5 745.28 250 750 C252.5 754.72 253.33 759.45 255 765 C256.67 770.55 258.67 780.8 260 783.3 C261.33 785.8 261.88 782.22 263 780 C264.12 777.78 265.2 773 266.7 770 C268.2 767 270.33 764.78 272 762 C273.67 759.22 275.08 759.08 276.7 753.3 C278.32 747.52 280.32 730.85 281.7 727.3 C283.08 723.75 283.62 728.77 285 732 C286.38 735.23 288.33 742.03 290 746.7 C291.67 751.37 293.33 755.57 295 760 C296.67 764.43 298.67 773.3 300 773.3 C301.33 773.3 302 765.27 303 760 C304 754.73 305 744.2 306 741.7 C307 739.2 308.05 742.78 309 745 C309.95 747.22 310.53 751.5 311.7 755 C312.87 758.5 314.62 762.95 316 766 C317.38 769.05 318.5 771.97 320 773.3 C321.5 774.63 323.33 773.72 325 774 C326.67 774.28 328.17 774.17 330 775 C331.83 775.83 333.78 777.62 336 779 C338.22 780.38 341.3 783.13 343.3 783.3 C345.3 783.47 346.33 781.67 348 780 C349.67 778.33 351.8 775.3 353.3 773.3 C354.8 771.3 355.6 769.55 357 768 C358.4 766.45 360.2 764.17 361.7 764 C363.2 763.83 364.62 765.72 366 767 C367.38 768.28 368.33 769.53 370 771.7 C371.67 773.87 374.33 777.78 376 780 C377.67 782.22 378.22 782.22 380 785 C381.78 787.78 383.92 793.65 386.7 796.7 C389.48 799.75 393.37 801.08 396.7 803.3 C400.03 805.52 402.82 808.88 406.7 810 C410.58 811.12 415.57 809.45 420 810 C424.43 810.55 428.85 810.8 433.3 813.3 C437.75 815.8 442.25 821.93 446.7 825 C451.15 828.07 455.57 827.82 460 831.7 C464.43 835.58 469.42 843.58 473.3 848.3 C477.18 853.02 479.97 856.38 483.3 860 C486.63 863.62 489.97 867.22 493.3 870 C496.63 872.78 500.8 876.7 503.3 876.7 C505.8 876.7 506.63 872.5 508.3 870 C509.97 867.5 511.63 862.82 513.3 861.7 C514.97 860.58 515.52 861.37 518.3 863.3 C521.08 865.23 525.83 869.97 530 873.3 C534.17 876.63 538.85 879.97 543.3 883.3 C547.75 886.63 552.25 889.4 556.7 893.3 C561.15 897.2 565.57 902.25 570 906.7 C574.43 911.15 578.85 915 583.3 920 C587.75 925 592.25 931.15 596.7 936.7 C601.15 942.25 605.57 948.3 610 953.3 C614.43 958.3 618.85 962.8 623.3 966.7 C627.75 970.6 632.8 974.2 636.7 976.7 C640.6 979.2 643.37 980.03 646.7 981.7 C650.03 983.37 652.82 984.2 656.7 986.7 C660.58 989.2 665.57 993.37 670 996.7 C674.43 1000.03 678.97 1003.82 683.3 1006.7 C687.63 1009.58 692.22 1012.4 696 1014 C699.78 1015.6 702.17 1014.13 706 1016.3 C709.83 1018.47 714.67 1023.02 719 1027 C723.33 1030.98 727.67 1036.03 732 1040.2 C736.33 1044.37 740.67 1048.03 745 1052 C749.33 1055.97 753.5 1060.67 758 1064 C762.5 1067.33 766.95 1069.12 772 1072 C777.05 1074.88 783.13 1078.8 788.3 1081.3 C793.47 1083.8 797.93 1085.18 803 1087 C808.07 1088.82 813.37 1090.03 818.7 1092.2 C824.03 1094.37 829.23 1097.48 835 1100 C840.77 1102.52 847.47 1105.13 853.3 1107.3 C859.13 1109.47 864.22 1111.18 870 1113 C875.78 1114.82 883 1116.06 888 1118.2 C893 1120.34 896.67 1124.13 900 1125.85 C903.33 1127.56 905.33 1127.61 908 1128.46 C910.67 1129.32 913.33 1130.16 916 1130.98 C918.67 1131.8 921.33 1132.61 924 1133.4 C926.67 1134.19 929.33 1134.96 932 1135.72 C934.67 1136.48 937.33 1137.22 940 1137.95 C942.67 1138.68 945.33 1139.39 948 1140.09 C950.67 1140.78 953.33 1141.47 956 1142.14 C958.67 1142.8 961.33 1143.46 964 1144.1 C966.67 1144.74 969.33 1145.37 972 1145.98 C974.67 1146.59 977.33 1147.19 980 1147.78 C982.67 1148.37 985.33 1148.94 988 1149.51 C990.67 1150.07 993.33 1150.62 996 1151.16 C998.67 1151.69 1001.33 1152.22 1004 1152.73 C1006.67 1153.25 1009.33 1153.75 1012 1154.24 C1014.67 1154.73 1017.33 1155.21 1020 1155.68 C1022.67 1156.15 1025.33 1156.61 1028 1157.06 C1030.67 1157.51 1033.33 1157.95 1036 1158.38 C1038.67 1158.81 1041.33 1159.23 1044 1159.63 C1046.67 1160.04 1049.33 1160.44 1052 1160.83 C1054.67 1161.22 1057.33 1161.61 1060 1161.98 C1062.67 1162.35 1065.33 1162.71 1068 1163.07 C1070.67 1163.42 1073.33 1163.77 1076 1164.11 C1078.67 1164.45 1081.33 1164.78 1084 1165.1 C1086.67 1165.42 1089.33 1165.74 1092 1166.05 C1094.67 1166.35 1097.33 1166.65 1100 1166.95 C1102.67 1167.24 1105.33 1167.53 1108 1167.81 C1110.67 1168.08 1113.33 1168.36 1116 1168.62 C1118.67 1168.89 1121.33 1169.15 1124 1169.4 C1126.67 1169.65 1129.33 1169.9 1132 1170.14 C1134.67 1170.38 1137.33 1170.61 1140 1170.84 C1142.67 1171.07 1145.33 1171.29 1148 1171.51 C1150.67 1171.73 1153.33 1171.94 1156 1172.15 C1158.67 1172.36 1161.33 1172.56 1164 1172.75 C1166.67 1172.95 1169.33 1173.14 1172 1173.33 C1174.67 1173.52 1177.33 1173.7 1180 1173.88 C1182.67 1174.05 1185.33 1174.23 1188 1174.39 C1190.67 1174.56 1194.67 1174.81 1196 1174.89" fill="none" stroke="#1f77b4" stroke-width="2" stroke-linejoin="round"/>
<path d="M88.3 955.36 L89.3 953.95 L90.3 952.54 L91.3 951.12 L92.3 949.71 L93.3 948.29 L94.3 946.88 L95.3 945.46 L96.3 944.04 L97.3 942.62 L98.3 941.2 L99.3 939.78 L100.3 938.36 L101.3 936.93 L102.3 935.51 L103.3 934.09 L104.3 932.66 L105.3 931.24 L106.3 929.81 L107.3 928.39 L108.3 926.96 L109.3 925.54 L110.3 924.11 L111.3 922.68 L112.3 921.26 L113.3 919.83 L114.3 918.41 L115.3 916.98 L116.3 915.56 L117.3 914.13 L118.3 912.71 L119.3 911.29 L120.3 909.86 L121.3 908.44 L122.3 907.02 L123.3 905.6 L124.3 904.18 L125.3 902.76 L126.3 901.35 L127.3 899.93 L128.3 898.51 L129.3 897.1 L130.3 895.69 L131.3 894.28 L132.3 892.87 L133.3 891.46 L134.3 890.06 L135.3 888.65 L136.3 887.25 L137.3 885.85 L138.3 884.45 L139.3 883.05 L140.3 881.66 L141.3 880.27 L142.3 878.88 L143.3 877.49 L144.3 876.1 L145.3 874.72 L146.3 873.34 L147.3 871.96 L148.3 870.59 L149.3 869.21 L150.3 867.84 L151.3 866.48 L152.3 865.11 L153.3 863.75 L154.3 862.39 L155.3 861.04 L156.3 859.69 L157.3 858.34 L158.3 857 L159.3 855.65 L160.3 854.32 L161.3 852.98 L162.3 851.65 L163.3 850.32 L164.3 849 L165.3 847.68 L166.3 846.37 L167.3 845.06 L168.3 843.75 L169.3 842.45 L170.3 841.15 L171.3 839.85 L172.3 838.56 L173.3 837.27 L174.3 835.99 L175.3 834.72 L176.3 833.44 L177.3 832.18 L178.3 830.91 L179.3 829.65 L180.3 828.4 L181.3 827.15 L182.3 825.91 L183.3 824.67 L184.3 823.44 L185.3 822.21 L186.3 820.99 L187.3 819.77 L188.3 818.56 L189.3 817.35 L190.3 816.15 L191.3 814.95 L192.3 813.76 L193.3 812.58 L194.3 811.4 L195.3 810.22 L196.3 809.06 L197.3 807.89 L198.3 806.74 L199.3 805.59 L200.3 804.44 L201.3 803.31 L202.3 802.18 L203.3 801.05 L204.3 799.93 L205.3 798.82 L206.3 797.71 L207.3 796.61 L208.3 795.52 L209.3 794.43 L210.3 793.35 L211.3 792.28 L212.3 791.21 L213.3 790.15 L214.3 789.1 L215.3 788.05 L216.3 787.01 L217.3 785.98 L218.3 784.96 L219.3 783.94 L220.3 782.93 L221.3 781.92 L222.3 780.92 L223.3 779.93 L224.3 778.95 L225.3 777.98 L226.3 777.01 L227.3 776.05 L228.3 775.1 L229.3 774.15 L230.3 773.21 L231.3 772.28 L232.3 771.36 L233.3 770.44 L234.3 769.54 L235.3 768.64 L236.3 767.75 L237.3 766.86 L238.3 765.98 L239.3 765.12 L240.3 764.26 L241.3 763.4 L242.3 762.56 L243.3 761.72 L244.3 760.89 L245.3 760.07 L246.3 759.26 L247.3 758.46 L248.3 757.66 L249.3 756.87 L250.3 756.1 L251.3 755.32 L252.3 754.56 L253.3 753.81 L254.3 753.06 L255.3 752.32 L256.3 751.6 L257.3 750.87 L258.3 750.16 L259.3 749.46 L260.3 748.76 L261.3 748.08 L262.3 747.4 L263.3 746.73 L264.3 746.07 L265.3 745.42 L266.3 744.77 L267.3 744.14 L268.3 743.51 L269.3 742.9 L270.3 742.29 L271.3 741.69 L272.3 741.1 L273.3 740.51 L274.3 739.94 L275.3 739.38 L276.3 738.82 L277.3 738.27 L278.3 737.74 L279.3 737.21 L280.3 736.69 L281.3 736.17 L282.3 735.67 L283.3 735.18 L284.3 734.69 L285.3 734.22 L286.3 733.75 L287.3 733.3 L288.3 732.85 L289.3 732.41 L290.3 731.98 L291.3 731.56 L292.3 731.14 L293.3 730.74 L294.3 730.34 L295.3 729.96 L296.3 729.58 L297.3 729.22 L298.3 728.86 L299.3 728.51 L300.3 728.17 L301.3 727.84 L302.3 727.51 L303.3 727.2 L304.3 726.9 L305.3 726.6 L306.3 726.32 L307.3 726.04 L308.3 725.77 L309.3 725.51 L310.3 725.26 L311.3 725.02 L312.3 724.79 L313.3 724.57 L314.3 724.35 L315.3 724.15 L316.3 723.95 L317.3 723.76 L318.3 723.59 L319.3 723.42 L320.3 723.26 L321.3 723.11 L322.3 722.96 L323.3 722.83 L324.3 722.71 L325.3 722.59 L326.3 722.48 L327.3 722.39 L328.3 722.3 L329.3 722.22 L330.3 722.15 L331.3 722.08 L332.3 722.03 L333.3 721.98 L334.3 721.95 L335.3 721.92 L336.3 721.9 L337.3 721.89 L338.3 721.89 L339.3 721.9 L340.3 721.91 L341.3 721.94 L342.3 721.97 L343.3 722.01 L344.3 722.06 L345.3 722.12 L346.3 722.19 L347.3 722.27 L348.3 722.35 L349.3 722.44 L350.3 722.55 L351.3 722.66 L352.3 722.77 L353.3 722.9 L354.3 723.04 L355.3 723.18 L356.3 723.33 L357.3 723.49 L358.3 723.66 L359.3 723.83 L360.3 724.02 L361.3 724.21 L362.3 724.41 L363.3 724.62 L364.3 724.84 L365.3 725.06 L366.3 725.29 L367.3 725.53 L368.3 725.78 L369.3 726.04 L370.3 726.3 L371.3 726.58 L372.3 726.86 L373.3 727.14 L374.3 727.44 L375.3 727.74 L376.3 728.05 L377.3 728.37 L378.3 728.7 L379.3 729.03 L380.3 729.37 L381.3 729.72 L382.3 730.08 L383.3 730.44 L384.3 730.82 L385.3 731.19 L386.3 731.58 L387.3 731.97 L388.3 732.37 L389.3 732.78 L390.3 733.2 L391.3 733.62 L392.3 734.05 L393.3 734.48 L394.3 734.93 L395.3 735.38 L396.3 735.83 L397.3 736.3 L398.3 736.77 L399.3 737.25 L400.3 737.73 L401.3 738.22 L402.3 738.72 L403.3 739.23 L404.3 739.74 L405.3 740.25 L406.3 740.78 L407.3 741.31 L408.3 741.85 L409.3 742.39 L410.3 742.94 L411.3 743.5 L412.3 744.06 L413.3 744.63 L414.3 745.21 L415.3 745.79 L416.3 746.38 L417.3 746.97 L418.3 747.57 L419.3 748.18 L420.3 748.79 L421.3 749.41 L422.3 750.03 L423.3 750.66 L424.3 751.3 L425.3 751.94 L426.3 752.58 L427.3 753.24 L428.3 753.89 L429.3 754.56 L430.3 755.23 L431.3 755.9 L432.3 756.58 L433.3 757.27 L434.3 757.96 L435.3 758.66 L436.3 759.36 L437.3 760.06 L438.3 760.78 L439.3 761.49 L440.3 762.22 L441.3 762.94 L442.3 763.67 L443.3 764.41 L444.3 765.15 L445.3 765.9 L446.3 766.65 L447.3 767.41 L448.3 768.17 L449.3 768.94 L450.3 769.71 L451.3 770.48 L452.3 771.26 L453.3 772.05 L454.3 772.84 L455.3 773.63 L456.3 774.43 L457.3 775.23 L458.3 776.03 L459.3 776.84 L460.3 777.66 L461.3 778.48 L462.3 779.3 L463.3 780.13 L464.3 780.96 L465.3 781.79 L466.3 782.63 L467.3 783.47 L468.3 784.32 L469.3 785.17 L470.3 786.03 L471.3 786.88 L472.3 787.74 L473.3 788.61 L474.3 789.48 L475.3 790.35 L476.3 791.23 L477.3 792.1 L478.3 792.99 L479.3 793.87 L480.3 794.76 L481.3 795.65 L482.3 796.55 L483.3 797.45 L484.3 798.35 L485.3 799.25 L486.3 800.16 L487.3 801.07 L488.3 801.99 L489.3 802.9 L490.3 803.82 L491.3 804.74 L492.3 805.67 L493.3 806.6 L494.3 807.53 L495.3 808.46 L496.3 809.4 L497.3 810.33 L498.3 811.27 L499.3 812.22 L500.3 813.16 L501.3 814.11 L502.3 815.06 L503.3 816.01 L504.3 816.97 L505.3 817.93 L506.3 818.89 L507.3 819.85 L508.3 820.81 L509.3 821.78 L510.3 822.74 L511.3 823.71 L512.3 824.69 L513.3 825.66 L514.3 826.63 L515.3 827.61 L516.3 828.59 L517.3 829.57 L518.3 830.55 L519.3 831.54 L520.3 832.52 L521.3 833.51 L522.3 834.5 L523.3 835.49 L524.3 836.48 L525.3 837.47 L526.3 838.47 L527.3 839.46 L528.3 840.46 L529.3 841.46 L530.3 842.46 L531.3 843.46 L532.3 844.46 L533.3 845.46 L534.3 846.47 L535.3 847.47 L536.3 848.48 L537.3 849.49 L538.3 850.49 L539.3 851.5 L540.3 852.51 L541.3 853.52 L542.3 854.53 L543.3 855.55 L544.3 856.56 L545.3 857.57 L546.3 858.59 L547.3 859.6 L548.3 860.62 L549.3 861.63 L550.3 862.65 L551.3 863.67 L552.3 864.68 L553.3 865.7 L554.3 866.72 L555.3 867.74 L556.3 868.76 L557.3 869.78 L558.3 870.79 L559.3 871.81 L560.3 872.83 L561.3 873.85 L562.3 874.87 L563.3 875.89 L564.3 876.91 L565.3 877.93 L566.3 878.95 L567.3 879.97 L568.3 880.99 L569.3 882.01 L570.3 883.03 L571.3 884.05 L572.3 885.07 L573.3 886.09 L574.3 887.11 L575.3 888.13 L576.3 889.15 L577.3 890.17 L578.3 891.18 L579.3 892.2 L580.3 893.22 L581.3 894.23 L582.3 895.25 L583.3 896.26 L584.3 897.28 L585.3 898.29 L586.3 899.31 L587.3 900.32 L588.3 901.33 L589.3 902.34 L590.3 903.36 L591.3 904.37 L592.3 905.37 L593.3 906.38 L594.3 907.39 L595.3 908.4 L596.3 909.41 L597.3 910.41 L598.3 911.42 L599.3 912.42 L600.3 913.42 L601.3 914.42 L602.3 915.42 L603.3 916.42 L604.3 917.42 L605.3 918.42 L606.3 919.42 L607.3 920.41 L608.3 921.41 L609.3 922.4 L610.3 923.39 L611.3 924.38 L612.3 925.37 L613.3 926.36 L614.3 927.35 L615.3 928.33 L616.3 929.32 L617.3 930.3 L618.3 931.28 L619.3 932.26 L620.3 933.24 L621.3 934.22 L622.3 935.2 L623.3 936.17 L624.3 937.15 L625.3 938.12 L626.3 939.09 L627.3 940.06 L628.3 941.03 L629.3 941.99 L630.3 942.96 L631.3 943.92 L632.3 944.88 L633.3 945.84 L634.3 946.8 L635.3 947.75 L636.3 948.71 L637.3 949.66 L638.3 950.61 L639.3 951.56 L640.3 952.51 L641.3 953.46 L642.3 954.4 L643.3 955.34 L644.3 956.28 L645.3 957.22 L646.3 958.16 L647.3 959.1 L648.3 960.03 L649.3 960.96 L650.3 961.89 L651.3 962.82 L652.3 963.74 L653.3 964.67 L654.3 965.59 L655.3 966.51 L656.3 967.43 L657.3 968.34 L658.3 969.26 L659.3 970.17 L660.3 971.08 L661.3 971.99 L662.3 972.9 L663.3 973.8 L664.3 974.7 L665.3 975.6 L666.3 976.5 L667.3 977.39 L668.3 978.29 L669.3 979.18 L670.3 980.07 L671.3 980.96 L672.3 981.84 L673.3 982.72 L674.3 983.61 L675.3 984.48 L676.3 985.36 L677.3 986.24 L678.3 987.11 L679.3 987.98 L680.3 988.84 L681.3 989.71 L682.3 990.57 L683.3 991.43 L684.3 992.29 L685.3 993.15 L686.3 994 L687.3 994.86 L688.3 995.71 L689.3 996.55 L690.3 997.4 L691.3 998.24 L692.3 999.08 L693.3 999.92 L694.3 1000.75 L695.3 1001.59 L696.3 1002.42 L697.3 1003.25 L698.3 1004.07 L699.3 1004.9 L700.3 1005.72 L701.3 1006.54 L702.3 1007.36 L703.3 1008.17 L704.3 1008.98 L705.3 1009.79 L706.3 1010.6 L707.3 1011.4 L708.3 1012.21 L709.3 1013.01 L710.3 1013.81 L711.3 1014.6 L712.3 1015.39 L713.3 1016.18 L714.3 1016.97 L715.3 1017.76 L716.3 1018.54 L717.3 1019.32 L718.3 1020.1 L719.3 1020.88 L720.3 1021.65 L721.3 1022.42 L722.3 1023.19 L723.3 1023.95 L724.3 1024.72 L725.3 1025.48 L726.3 1026.24 L727.3 1026.99 L728.3 1027.75 L729.3 1028.5 L730.3 1029.25 L731.3 1029.99 L732.3 1030.74 L733.3 1031.48 L734.3 1032.22 L735.3 1032.95 L736.3 1033.69 L737.3 1034.42 L738.3 1035.15 L739.3 1035.87 L740.3 1036.6 L741.3 1037.32 L742.3 1038.04 L743.3 1038.75 L744.3 1039.47 L745.3 1040.18 L746.3 1040.89 L747.3 1041.59 L748.3 1042.3 L749.3 1043 L750.3 1043.7 L751.3 1044.39 L752.3 1045.09 L753.3 1045.78 L754.3 1046.47 L755.3 1047.15 L756.3 1047.84 L757.3 1048.52 L758.3 1049.2 L759.3 1049.87 L760.3 1050.55 L761.3 1051.22 L762.3 1051.89 L763.3 1052.56 L764.3 1053.22 L765.3 1053.88 L766.3 1054.54 L767.3 1055.2 L768.3 1055.85 L769.3 1056.5 L770.3 1057.15 L771.3 1057.8 L772.3 1058.44 L773.3 1059.08 L774.3 1059.72 L775.3 1060.36 L776.3 1060.99 L777.3 1061.63 L778.3 1062.25 L779.3 1062.88 L780.3 1063.51 L781.3 1064.13 L782.3 1064.75 L783.3 1065.36 L784.3 1065.98 L785.3 1066.59 L786.3 1067.2 L787.3 1067.81 L788.3 1068.41 L789.3 1069.02 L790.3 1069.62 L791.3 1070.21 L792.3 1070.81 L793.3 1071.4 L794.3 1071.99 L795.3 1072.58 L796.3 1073.16 L797.3 1073.75 L798.3 1074.33 L799.3 1074.91 L800.3 1075.48 L801.3 1076.06 L802.3 1076.63 L803.3 1077.2 L804.3 1077.76 L805.3 1078.33 L806.3 1078.89 L807.3 1079.45 L808.3 1080.01 L809.3 1080.56 L810.3 1081.11 L811.3 1081.66 L812.3 1082.21 L813.3 1082.75 L814.3 1083.3 L815.3 1083.84 L816.3 1084.38 L817.3 1084.91 L818.3 1085.45 L819.3 1085.98 L820.3 1086.51 L821.3 1087.03 L822.3 1087.56 L823.3 1088.08 L824.3 1088.6 L825.3 1089.12 L826.3 1089.63 L827.3 1090.15 L828.3 1090.66 L829.3 1091.17 L830.3 1091.67 L831.3 1092.18 L832.3 1092.68 L833.3 1093.18 L834.3 1093.67 L835.3 1094.17 L836.3 1094.66 L837.3 1095.15 L838.3 1095.64 L839.3 1096.13 L840.3 1096.61 L841.3 1097.09 L842.3 1097.57 L843.3 1098.05 L844.3 1098.53 L845.3 1099 L846.3 1099.47 L847.3 1099.94 L848.3 1100.41 L849.3 1100.87 L850.3 1101.33 L851.3 1101.79 L852.3 1102.25 L853.3 1102.71 L854.3 1103.16 L855.3 1103.61 L856.3 1104.06 L857.3 1104.51 L858.3 1104.96 L859.3 1105.4 L860.3 1105.84 L861.3 1106.28 L862.3 1106.72 L863.3 1107.15 L864.3 1107.58 L865.3 1108.02 L866.3 1108.44 L867.3 1108.87 L868.3 1109.3 L869.3 1109.72 L870.3 1110.14 L871.3 1110.56 L872.3 1110.98 L873.3 1111.39 L874.3 1111.8 L875.3 1112.21 L876.3 1112.62 L877.3 1113.03 L878.3 1113.43 L879.3 1113.84 L880.3 1114.24 L881.3 1114.64 L882.3 1115.03 L883.3 1115.43 L884.3 1115.82 L885.3 1116.21 L886.3 1116.6 L887.3 1116.99 L888.3 1117.38 L889.3 1117.76 L890.3 1118.14 L891.3 1118.52 L892.3 1118.9 L893.3 1119.27 L894.3 1119.65 L895.3 1120.02 L896.3 1120.39 L897.3 1120.76 L898.3 1121.13 L899.3 1121.49 L900.3 1121.85 L901.3 1122.22 L902.3 1122.57 L903.3 1122.93 L904.3 1123.29 L905.3 1123.64 L906.3 1123.99 L907.3 1124.34 L908.3 1124.69 L909.3 1125.04 L910.3 1125.39 L911.3 1125.73 L912.3 1126.07 L913.3 1126.41 L914.3 1126.75 L915.3 1127.08 L916.3 1127.42 L917.3 1127.75 L918.3 1128.08 L919.3 1128.41 L920.3 1128.74 L921.3 1129.07 L922.3 1129.39 L923.3 1129.71 L924.3 1130.03 L925.3 1130.35 L926.3 1130.67 L927.3 1130.99 L928.3 1131.3 L929.3 1131.62 L930.3 1131.93 L931.3 1132.24 L932.3 1132.54 L933.3 1132.85 L934.3 1133.15 L935.3 1133.46 L936.3 1133.76 L937.3 1134.06 L938.3 1134.36 L939.3 1134.65 L940.3 1134.95 L941.3 1135.24 L942.3 1135.53 L943.3 1135.83 L944.3 1136.11 L945.3 1136.4 L946.3 1136.69 L947.3 1136.97 L948.3 1137.25 L949.3 1137.54 L950.3 1137.82 L951.3 1138.09 L952.3 1138.37 L953.3 1138.65 L954.3 1138.92 L955.3 1139.19 L956.3 1139.46 L957.3 1139.73 L958.3 1140 L959.3 1140.27 L960.3 1140.53 L961.3 1140.79 L962.3 1141.06 L963.3 1141.32 L964.3 1141.58 L965.3 1141.83 L966.3 1142.09 L967.3 1142.35 L968.3 1142.6 L969.3 1142.85 L970.3 1143.1 L971.3 1143.35 L972.3 1143.6 L973.3 1143.85 L974.3 1144.09 L975.3 1144.34 L976.3 1144.58 L977.3 1144.82 L978.3 1145.06 L979.3 1145.3 L980.3 1145.54 L981.3 1145.77 L982.3 1146.01 L983.3 1146.24 L984.3 1146.47 L985.3 1146.7 L986.3 1146.93 L987.3 1147.16 L988.3 1147.39 L989.3 1147.61 L990.3 1147.84 L991.3 1148.06 L992.3 1148.28 L993.3 1148.5 L994.3 1148.72 L995.3 1148.94 L996.3 1149.16 L997.3 1149.37 L998.3 1149.59 L999.3 1149.8 L1000.3 1150.01 L1001.3 1150.23 L1002.3 1150.44 L1003.3 1150.64 L1004.3 1150.85 L1005.3 1151.06 L1006.3 1151.26 L1007.3 1151.47 L1008.3 1151.67 L1009.3 1151.87 L1010.3 1152.07 L1011.3 1152.27 L1012.3 1152.47 L1013.3 1152.66 L1014.3 1152.86 L1015.3 1153.06 L1016.3 1153.25 L1017.3 1153.44 L1018.3 1153.63 L1019.3 1153.82 L1020.3 1154.01 L1021.3 1154.2 L1022.3 1154.39 L1023.3 1154.57 L1024.3 1154.76 L1025.3 1154.94 L1026.3 1155.12 L1027.3 1155.31 L1028.3 1155.49 L1029.3 1155.67 L1030.3 1155.84 L1031.3 1156.02 L1032.3 1156.2 L1033.3 1156.37 L1034.3 1156.55 L1035.3 1156.72 L1036.3 1156.89 L1037.3 1157.06 L1038.3 1157.23 L1039.3 1157.4 L1040.3 1157.57 L1041.3 1157.74 L1042.3 1157.9 L1043.3 1158.07 L1044.3 1158.23 L1045.3 1158.4 L1046.3 1158.56 L1047.3 1158.72 L1048.3 1158.88 L1049.3 1159.04 L1050.3 1159.2 L1051.3 1159.36 L1052.3 1159.51 L1053.3 1159.67 L1054.3 1159.83 L1055.3 1159.98 L1056.3 1160.13 L1057.3 1160.28 L1058.3 1160.44 L1059.3 1160.59 L1060.3 1160.74 L1061.3 1160.88 L1062.3 1161.03 L1063.3 1161.18 L1064.3 1161.32 L1065.3 1161.47 L1066.3 1161.61 L1067.3 1161.76 L1068.3 1161.9 L1069.3 1162.04 L1070.3 1162.18 L1071.3 1162.32 L1072.3 1162.46 L1073.3 1162.6 L1074.3 1162.74 L1075.3 1162.87 L1076.3 1163.01 L1077.3 1163.14 L1078.3 1163.28 L1079.3 1163.41 L1080.3 1163.54 L1081.3 1163.67 L1082.3 1163.8 L1083.3 1163.93 L1084.3 1164.06 L1085.3 1164.19 L1086.3 1164.32 L1087.3 1164.45 L1088.3 1164.57 L1089.3 1164.7 L1090.3 1164.82 L1091.3 1164.95 L1092.3 1165.07 L1093.3 1165.19 L1094.3 1165.31 L1095.3 1165.43 L1096.3 1165.55 L1097.3 1165.67 L1098.3 1165.79 L1099.3 1165.91 L1100.3 1166.03 L1101.3 1166.14 L1102.3 1166.26 L1103.3 1166.37 L1104.3 1166.49 L1105.3 1166.6 L1106.3 1166.71 L1107.3 1166.83 L1108.3 1166.94 L1109.3 1167.05 L1110.3 1167.16 L1111.3 1167.27 L1112.3 1167.38 L1113.3 1167.49 L1114.3 1167.59 L1115.3 1167.7 L1116.3 1167.81 L1117.3 1167.91 L1118.3 1168.02 L1119.3 1168.12 L1120.3 1168.22 L1121.3 1168.33 L1122.3 1168.43 L1123.3 1168.53 L1124.3 1168.63 L1125.3 1168.73 L1126.3 1168.83 L1127.3 1168.93 L1128.3 1169.03 L1129.3 1169.13 L1130.3 1169.22 L1131.3 1169.32 L1132.3 1169.42 L1133.3 1169.51 L1134.3 1169.61 L1135.3 1169.7 L1136.3 1169.79 L1137.3 1169.89 L1138.3 1169.98 L1139.3 1170.07 L1140.3 1170.16 L1141.3 1170.25 L1142.3 1170.34 L1143.3 1170.43 L1144.3 1170.52 L1145.3 1170.61 L1146.3 1170.7 L1147.3 1170.79 L1148.3 1170.87 L1149.3 1170.96 L1150.3 1171.04 L1151.3 1171.13 L1152.3 1171.21 L1153.3 1171.3 L1154.3 1171.38 L1155.3 1171.46 L1156.3 1171.55 L1157.3 1171.63 L1158.3 1171.71 L1159.3 1171.79 L1160.3 1171.87 L1161.3 1171.95 L1162.3 1172.03 L1163.3 1172.11 L1164.3 1172.19 L1165.3 1172.26 L1166.3 1172.34 L1167.3 1172.42 L1168.3 1172.5 L1169.3 1172.57 L1170.3 1172.65 L1171.3 1172.72 L1172.3 1172.8 L1173.3 1172.87 L1174.3 1172.94 L1175.3 1173.02 L1176.3 1173.09 L1177.3 1173.16 L1178.3 1173.23 L1179.3 1173.3 L1180.3 1173.37 L1181.3 1173.44 L1182.3 1173.51 L1183.3 1173.58 L1184.3 1173.65 L1185.3 1173.72 L1186.3 1173.79 L1187.3 1173.86 L1188.3 1173.92 L1189.3 1173.99 L1190.3 1174.06 L1191.3 1174.12 L1192.3 1174.19 L1193.3 1174.25 L1194.3 1174.32 L1195.3 1174.38 L1196.3 1174.44 L1197.3 1174.51 L1198.3 1174.57 L1199.3 1174.63" fill="none" stroke="#9467bd" stroke-width="2" stroke-opacity="0.72" stroke-dasharray="13.5 5.5" stroke-dashoffset="10.3"/>
<path d="M88.3 1010.35 L89.3 1009.18 L90.3 1008.02 L91.3 1006.85 L92.3 1005.68 L93.3 1004.5 L94.3 1003.33 L95.3 1002.15 L96.3 1000.97 L97.3 999.79 L98.3 998.61 L99.3 997.42 L100.3 996.24 L101.3 995.05 L102.3 993.86 L103.3 992.67 L104.3 991.48 L105.3 990.29 L106.3 989.1 L107.3 987.9 L108.3 986.71 L109.3 985.51 L110.3 984.31 L111.3 983.11 L112.3 981.91 L113.3 980.71 L114.3 979.51 L115.3 978.31 L116.3 977.1 L117.3 975.9 L118.3 974.69 L119.3 973.49 L120.3 972.28 L121.3 971.08 L122.3 969.87 L123.3 968.67 L124.3 967.46 L125.3 966.25 L126.3 965.05 L127.3 963.84 L128.3 962.63 L129.3 961.42 L130.3 960.22 L131.3 959.01 L132.3 957.8 L133.3 956.6 L134.3 955.39 L135.3 954.19 L136.3 952.98 L137.3 951.78 L138.3 950.58 L139.3 949.37 L140.3 948.17 L141.3 946.97 L142.3 945.77 L143.3 944.57 L144.3 943.37 L145.3 942.17 L146.3 940.98 L147.3 939.78 L148.3 938.59 L149.3 937.4 L150.3 936.2 L151.3 935.01 L152.3 933.83 L153.3 932.64 L154.3 931.45 L155.3 930.27 L156.3 929.09 L157.3 927.91 L158.3 926.73 L159.3 925.55 L160.3 924.38 L161.3 923.21 L162.3 922.03 L163.3 920.87 L164.3 919.7 L165.3 918.54 L166.3 917.38 L167.3 916.22 L168.3 915.06 L169.3 913.9 L170.3 912.75 L171.3 911.6 L172.3 910.46 L173.3 909.31 L174.3 908.17 L175.3 907.04 L176.3 905.9 L177.3 904.77 L178.3 903.64 L179.3 902.51 L180.3 901.39 L181.3 900.27 L182.3 899.15 L183.3 898.04 L184.3 896.93 L185.3 895.83 L186.3 894.72 L187.3 893.62 L188.3 892.53 L189.3 891.44 L190.3 890.35 L191.3 889.26 L192.3 888.18 L193.3 887.11 L194.3 886.03 L195.3 884.96 L196.3 883.9 L197.3 882.84 L198.3 881.78 L199.3 880.73 L200.3 879.68 L201.3 878.64 L202.3 877.6 L203.3 876.56 L204.3 875.53 L205.3 874.51 L206.3 873.49 L207.3 872.47 L208.3 871.46 L209.3 870.45 L210.3 869.45 L211.3 868.45 L212.3 867.46 L213.3 866.47 L214.3 865.49 L215.3 864.51 L216.3 863.54 L217.3 862.57 L218.3 861.61 L219.3 860.65 L220.3 859.7 L221.3 858.75 L222.3 857.81 L223.3 856.88 L224.3 855.95 L225.3 855.02 L226.3 854.1 L227.3 853.19 L228.3 852.28 L229.3 851.38 L230.3 850.48 L231.3 849.59 L232.3 848.7 L233.3 847.83 L234.3 846.95 L235.3 846.08 L236.3 845.22 L237.3 844.37 L238.3 843.52 L239.3 842.67 L240.3 841.84 L241.3 841.01 L242.3 840.18 L243.3 839.36 L244.3 838.55 L245.3 837.74 L246.3 836.95 L247.3 836.15 L248.3 835.37 L249.3 834.58 L250.3 833.81 L251.3 833.04 L252.3 832.28 L253.3 831.53 L254.3 830.78 L255.3 830.04 L256.3 829.31 L257.3 828.58 L258.3 827.86 L259.3 827.14 L260.3 826.44 L261.3 825.74 L262.3 825.04 L263.3 824.35 L264.3 823.68 L265.3 823 L266.3 822.34 L267.3 821.68 L268.3 821.03 L269.3 820.38 L270.3 819.74 L271.3 819.11 L272.3 818.49 L273.3 817.87 L274.3 817.26 L275.3 816.66 L276.3 816.07 L277.3 815.48 L278.3 814.9 L279.3 814.33 L280.3 813.76 L281.3 813.2 L282.3 812.65 L283.3 812.11 L284.3 811.57 L285.3 811.04 L286.3 810.52 L287.3 810 L288.3 809.5 L289.3 809 L290.3 808.51 L291.3 808.02 L292.3 807.54 L293.3 807.07 L294.3 806.61 L295.3 806.16 L296.3 805.71 L297.3 805.27 L298.3 804.84 L299.3 804.41 L300.3 804 L301.3 803.59 L302.3 803.19 L303.3 802.79 L304.3 802.41 L305.3 802.03 L306.3 801.66 L307.3 801.29 L308.3 800.94 L309.3 800.59 L310.3 800.25 L311.3 799.91 L312.3 799.59 L313.3 799.27 L314.3 798.96 L315.3 798.66 L316.3 798.36 L317.3 798.08 L318.3 797.8 L319.3 797.52 L320.3 797.26 L321.3 797 L322.3 796.75 L323.3 796.51 L324.3 796.28 L325.3 796.05 L326.3 795.84 L327.3 795.62 L328.3 795.42 L329.3 795.23 L330.3 795.04 L331.3 794.86 L332.3 794.69 L333.3 794.52 L334.3 794.36 L335.3 794.21 L336.3 794.07 L337.3 793.94 L338.3 793.81 L339.3 793.69 L340.3 793.58 L341.3 793.47 L342.3 793.38 L343.3 793.29 L344.3 793.2 L345.3 793.13 L346.3 793.06 L347.3 793 L348.3 792.95 L349.3 792.91 L350.3 792.87 L351.3 792.84 L352.3 792.82 L353.3 792.8 L354.3 792.79 L355.3 792.79 L356.3 792.8 L357.3 792.81 L358.3 792.84 L359.3 792.87 L360.3 792.9 L361.3 792.95 L362.3 793 L363.3 793.05 L364.3 793.12 L365.3 793.19 L366.3 793.27 L367.3 793.36 L368.3 793.45 L369.3 793.55 L370.3 793.66 L371.3 793.77 L372.3 793.9 L373.3 794.03 L374.3 794.16 L375.3 794.3 L376.3 794.45 L377.3 794.61 L378.3 794.77 L379.3 794.94 L380.3 795.12 L381.3 795.31 L382.3 795.5 L383.3 795.69 L384.3 795.9 L385.3 796.11 L386.3 796.33 L387.3 796.55 L388.3 796.78 L389.3 797.02 L390.3 797.27 L391.3 797.52 L392.3 797.77 L393.3 798.04 L394.3 798.31 L395.3 798.59 L396.3 798.87 L397.3 799.16 L398.3 799.45 L399.3 799.76 L400.3 800.07 L401.3 800.38 L402.3 800.7 L403.3 801.03 L404.3 801.36 L405.3 801.7 L406.3 802.05 L407.3 802.4 L408.3 802.76 L409.3 803.12 L410.3 803.49 L411.3 803.87 L412.3 804.25 L413.3 804.64 L414.3 805.03 L415.3 805.43 L416.3 805.83 L417.3 806.24 L418.3 806.66 L419.3 807.08 L420.3 807.51 L421.3 807.94 L422.3 808.38 L423.3 808.83 L424.3 809.28 L425.3 809.73 L426.3 810.2 L427.3 810.66 L428.3 811.13 L429.3 811.61 L430.3 812.09 L431.3 812.58 L432.3 813.07 L433.3 813.57 L434.3 814.08 L435.3 814.58 L436.3 815.1 L437.3 815.62 L438.3 816.14 L439.3 816.67 L440.3 817.2 L441.3 817.74 L442.3 818.28 L443.3 818.83 L444.3 819.38 L445.3 819.94 L446.3 820.5 L447.3 821.07 L448.3 821.64 L449.3 822.22 L450.3 822.8 L451.3 823.39 L452.3 823.98 L453.3 824.57 L454.3 825.17 L455.3 825.77 L456.3 826.38 L457.3 826.99 L458.3 827.61 L459.3 828.23 L460.3 828.85 L461.3 829.48 L462.3 830.11 L463.3 830.75 L464.3 831.39 L465.3 832.04 L466.3 832.68 L467.3 833.34 L468.3 833.99 L469.3 834.65 L470.3 835.32 L471.3 835.99 L472.3 836.66 L473.3 837.33 L474.3 838.01 L475.3 838.7 L476.3 839.38 L477.3 840.07 L478.3 840.77 L479.3 841.46 L480.3 842.16 L481.3 842.87 L482.3 843.57 L483.3 844.28 L484.3 845 L485.3 845.71 L486.3 846.43 L487.3 847.16 L488.3 847.88 L489.3 848.61 L490.3 849.35 L491.3 850.08 L492.3 850.82 L493.3 851.56 L494.3 852.3 L495.3 853.05 L496.3 853.8 L497.3 854.55 L498.3 855.31 L499.3 856.07 L500.3 856.83 L501.3 857.59 L502.3 858.36 L503.3 859.13 L504.3 859.9 L505.3 860.67 L506.3 861.45 L507.3 862.23 L508.3 863.01 L509.3 863.79 L510.3 864.58 L511.3 865.36 L512.3 866.15 L513.3 866.95 L514.3 867.74 L515.3 868.54 L516.3 869.34 L517.3 870.14 L518.3 870.94 L519.3 871.74 L520.3 872.55 L521.3 873.36 L522.3 874.17 L523.3 874.98 L524.3 875.8 L525.3 876.61 L526.3 877.43 L527.3 878.25 L528.3 879.07 L529.3 879.89 L530.3 880.72 L531.3 881.54 L532.3 882.37 L533.3 883.2 L534.3 884.03 L535.3 884.86 L536.3 885.69 L537.3 886.53 L538.3 887.36 L539.3 888.2 L540.3 889.04 L541.3 889.88 L542.3 890.72 L543.3 891.56 L544.3 892.4 L545.3 893.25 L546.3 894.09 L547.3 894.94 L548.3 895.79 L549.3 896.63 L550.3 897.48 L551.3 898.33 L552.3 899.18 L553.3 900.04 L554.3 900.89 L555.3 901.74 L556.3 902.6 L557.3 903.45 L558.3 904.31 L559.3 905.16 L560.3 906.02 L561.3 906.88 L562.3 907.73 L563.3 908.59 L564.3 909.45 L565.3 910.31 L566.3 911.17 L567.3 912.03 L568.3 912.89 L569.3 913.75 L570.3 914.61 L571.3 915.48 L572.3 916.34 L573.3 917.2 L574.3 918.06 L575.3 918.93 L576.3 919.79 L577.3 920.65 L578.3 921.52 L579.3 922.38 L580.3 923.24 L581.3 924.11 L582.3 924.97 L583.3 925.83 L584.3 926.7 L585.3 927.56 L586.3 928.42 L587.3 929.29 L588.3 930.15 L589.3 931.01 L590.3 931.87 L591.3 932.74 L592.3 933.6 L593.3 934.46 L594.3 935.32 L595.3 936.18 L596.3 937.04 L597.3 937.91 L598.3 938.77 L599.3 939.63 L600.3 940.48 L601.3 941.34 L602.3 942.2 L603.3 943.06 L604.3 943.92 L605.3 944.77 L606.3 945.63 L607.3 946.49 L608.3 947.34 L609.3 948.2 L610.3 949.05 L611.3 949.9 L612.3 950.76 L613.3 951.61 L614.3 952.46 L615.3 953.31 L616.3 954.16 L617.3 955.01 L618.3 955.85 L619.3 956.7 L620.3 957.55 L621.3 958.39 L622.3 959.24 L623.3 960.08 L624.3 960.92 L625.3 961.77 L626.3 962.61 L627.3 963.45 L628.3 964.28 L629.3 965.12 L630.3 965.96 L631.3 966.79 L632.3 967.63 L633.3 968.46 L634.3 969.29 L635.3 970.13 L636.3 970.96 L637.3 971.78 L638.3 972.61 L639.3 973.44 L640.3 974.26 L641.3 975.09 L642.3 975.91 L643.3 976.73 L644.3 977.55 L645.3 978.37 L646.3 979.19 L647.3 980 L648.3 980.82 L649.3 981.63 L650.3 982.44 L651.3 983.25 L652.3 984.06 L653.3 984.87 L654.3 985.68 L655.3 986.48 L656.3 987.29 L657.3 988.09 L658.3 988.89 L659.3 989.69 L660.3 990.49 L661.3 991.28 L662.3 992.08 L663.3 992.87 L664.3 993.66 L665.3 994.45 L666.3 995.24 L667.3 996.03 L668.3 996.81 L669.3 997.6 L670.3 998.38 L671.3 999.16 L672.3 999.94 L673.3 1000.71 L674.3 1001.49 L675.3 1002.26 L676.3 1003.04 L677.3 1003.81 L678.3 1004.57 L679.3 1005.34 L680.3 1006.11 L681.3 1006.87 L682.3 1007.63 L683.3 1008.39 L684.3 1009.15 L685.3 1009.9 L686.3 1010.66 L687.3 1011.41 L688.3 1012.16 L689.3 1012.91 L690.3 1013.66 L691.3 1014.4 L692.3 1015.15 L693.3 1015.89 L694.3 1016.63 L695.3 1017.37 L696.3 1018.1 L697.3 1018.84 L698.3 1019.57 L699.3 1020.3 L700.3 1021.03 L701.3 1021.76 L702.3 1022.48 L703.3 1023.2 L704.3 1023.92 L705.3 1024.64 L706.3 1025.36 L707.3 1026.08 L708.3 1026.79 L709.3 1027.5 L710.3 1028.21 L711.3 1028.92 L712.3 1029.62 L713.3 1030.33 L714.3 1031.03 L715.3 1031.73 L716.3 1032.42 L717.3 1033.12 L718.3 1033.81 L719.3 1034.5 L720.3 1035.19 L721.3 1035.88 L722.3 1036.56 L723.3 1037.25 L724.3 1037.93 L725.3 1038.61 L726.3 1039.29 L727.3 1039.96 L728.3 1040.63 L729.3 1041.3 L730.3 1041.97 L731.3 1042.64 L732.3 1043.3 L733.3 1043.97 L734.3 1044.63 L735.3 1045.29 L736.3 1045.94 L737.3 1046.6 L738.3 1047.25 L739.3 1047.9 L740.3 1048.55 L741.3 1049.19 L742.3 1049.84 L743.3 1050.48 L744.3 1051.12 L745.3 1051.76 L746.3 1052.39 L747.3 1053.03 L748.3 1053.66 L749.3 1054.29 L750.3 1054.91 L751.3 1055.54 L752.3 1056.16 L753.3 1056.78 L754.3 1057.4 L755.3 1058.02 L756.3 1058.63 L757.3 1059.25 L758.3 1059.86 L759.3 1060.46 L760.3 1061.07 L761.3 1061.67 L762.3 1062.28 L763.3 1062.88 L764.3 1063.47 L765.3 1064.07 L766.3 1064.66 L767.3 1065.25 L768.3 1065.84 L769.3 1066.43 L770.3 1067.02 L771.3 1067.6 L772.3 1068.18 L773.3 1068.76 L774.3 1069.33 L775.3 1069.91 L776.3 1070.48 L777.3 1071.05 L778.3 1071.62 L779.3 1072.19 L780.3 1072.75 L781.3 1073.31 L782.3 1073.87 L783.3 1074.43 L784.3 1074.98 L785.3 1075.54 L786.3 1076.09 L787.3 1076.64 L788.3 1077.18 L789.3 1077.73 L790.3 1078.27 L791.3 1078.81 L792.3 1079.35 L793.3 1079.89 L794.3 1080.42 L795.3 1080.96 L796.3 1081.49 L797.3 1082.01 L798.3 1082.54 L799.3 1083.07 L800.3 1083.59 L801.3 1084.11 L802.3 1084.63 L803.3 1085.14 L804.3 1085.66 L805.3 1086.17 L806.3 1086.68 L807.3 1087.18 L808.3 1087.69 L809.3 1088.19 L810.3 1088.7 L811.3 1089.19 L812.3 1089.69 L813.3 1090.19 L814.3 1090.68 L815.3 1091.17 L816.3 1091.66 L817.3 1092.15 L818.3 1092.63 L819.3 1093.12 L820.3 1093.6 L821.3 1094.08 L822.3 1094.56 L823.3 1095.03 L824.3 1095.5 L825.3 1095.98 L826.3 1096.44 L827.3 1096.91 L828.3 1097.38 L829.3 1097.84 L830.3 1098.3 L831.3 1098.76 L832.3 1099.22 L833.3 1099.67 L834.3 1100.13 L835.3 1100.58 L836.3 1101.03 L837.3 1101.48 L838.3 1101.92 L839.3 1102.37 L840.3 1102.81 L841.3 1103.25 L842.3 1103.68 L843.3 1104.12 L844.3 1104.56 L845.3 1104.99 L846.3 1105.42 L847.3 1105.85 L848.3 1106.27 L849.3 1106.7 L850.3 1107.12 L851.3 1107.54 L852.3 1107.96 L853.3 1108.38 L854.3 1108.79 L855.3 1109.2 L856.3 1109.62 L857.3 1110.03 L858.3 1110.43 L859.3 1110.84 L860.3 1111.24 L861.3 1111.65 L862.3 1112.05 L863.3 1112.44 L864.3 1112.84 L865.3 1113.24 L866.3 1113.63 L867.3 1114.02 L868.3 1114.41 L869.3 1114.8 L870.3 1115.18 L871.3 1115.57 L872.3 1115.95 L873.3 1116.33 L874.3 1116.71 L875.3 1117.08 L876.3 1117.46 L877.3 1117.83 L878.3 1118.2 L879.3 1118.57 L880.3 1118.94 L881.3 1119.31 L882.3 1119.67 L883.3 1120.04 L884.3 1120.4 L885.3 1120.76 L886.3 1121.11 L887.3 1121.47 L888.3 1121.83 L889.3 1122.18 L890.3 1122.53 L891.3 1122.88 L892.3 1123.23 L893.3 1123.57 L894.3 1123.92 L895.3 1124.26 L896.3 1124.6 L897.3 1124.94 L898.3 1125.28 L899.3 1125.61 L900.3 1125.95 L901.3 1126.28 L902.3 1126.61 L903.3 1126.94 L904.3 1127.27 L905.3 1127.59 L906.3 1127.92 L907.3 1128.24 L908.3 1128.56 L909.3 1128.88 L910.3 1129.2 L911.3 1129.52 L912.3 1129.83 L913.3 1130.14 L914.3 1130.46 L915.3 1130.77 L916.3 1131.07 L917.3 1131.38 L918.3 1131.69 L919.3 1131.99 L920.3 1132.29 L921.3 1132.59 L922.3 1132.89 L923.3 1133.19 L924.3 1133.49 L925.3 1133.78 L926.3 1134.08 L927.3 1134.37 L928.3 1134.66 L929.3 1134.95 L930.3 1135.24 L931.3 1135.52 L932.3 1135.81 L933.3 1136.09 L934.3 1136.37 L935.3 1136.65 L936.3 1136.93 L937.3 1137.21 L938.3 1137.48 L939.3 1137.76 L940.3 1138.03 L941.3 1138.3 L942.3 1138.57 L943.3 1138.84 L944.3 1139.11 L945.3 1139.38 L946.3 1139.64 L947.3 1139.9 L948.3 1140.16 L949.3 1140.43 L950.3 1140.68 L951.3 1140.94 L952.3 1141.2 L953.3 1141.45 L954.3 1141.71 L955.3 1141.96 L956.3 1142.21 L957.3 1142.46 L958.3 1142.71 L959.3 1142.96 L960.3 1143.2 L961.3 1143.45 L962.3 1143.69 L963.3 1143.93 L964.3 1144.17 L965.3 1144.41 L966.3 1144.65 L967.3 1144.88 L968.3 1145.12 L969.3 1145.35 L970.3 1145.59 L971.3 1145.82 L972.3 1146.05 L973.3 1146.28 L974.3 1146.51 L975.3 1146.73 L976.3 1146.96 L977.3 1147.18 L978.3 1147.41 L979.3 1147.63 L980.3 1147.85 L981.3 1148.07 L982.3 1148.29 L983.3 1148.5 L984.3 1148.72 L985.3 1148.93 L986.3 1149.15 L987.3 1149.36 L988.3 1149.57 L989.3 1149.78 L990.3 1149.99 L991.3 1150.2 L992.3 1150.4 L993.3 1150.61 L994.3 1150.81 L995.3 1151.01 L996.3 1151.22 L997.3 1151.42 L998.3 1151.62 L999.3 1151.82 L1000.3 1152.01 L1001.3 1152.21 L1002.3 1152.4 L1003.3 1152.6 L1004.3 1152.79 L1005.3 1152.98 L1006.3 1153.17 L1007.3 1153.36 L1008.3 1153.55 L1009.3 1153.74 L1010.3 1153.93 L1011.3 1154.11 L1012.3 1154.3 L1013.3 1154.48 L1014.3 1154.66 L1015.3 1154.85 L1016.3 1155.03 L1017.3 1155.21 L1018.3 1155.38 L1019.3 1155.56 L1020.3 1155.74 L1021.3 1155.91 L1022.3 1156.09 L1023.3 1156.26 L1024.3 1156.43 L1025.3 1156.6 L1026.3 1156.78 L1027.3 1156.94 L1028.3 1157.11 L1029.3 1157.28 L1030.3 1157.45 L1031.3 1157.61 L1032.3 1157.78 L1033.3 1157.94 L1034.3 1158.1 L1035.3 1158.27 L1036.3 1158.43 L1037.3 1158.59 L1038.3 1158.75 L1039.3 1158.9 L1040.3 1159.06 L1041.3 1159.22 L1042.3 1159.37 L1043.3 1159.53 L1044.3 1159.68 L1045.3 1159.83 L1046.3 1159.99 L1047.3 1160.14 L1048.3 1160.29 L1049.3 1160.44 L1050.3 1160.58 L1051.3 1160.73 L1052.3 1160.88 L1053.3 1161.02 L1054.3 1161.17 L1055.3 1161.31 L1056.3 1161.46 L1057.3 1161.6 L1058.3 1161.74 L1059.3 1161.88 L1060.3 1162.02 L1061.3 1162.16 L1062.3 1162.3 L1063.3 1162.43 L1064.3 1162.57 L1065.3 1162.71 L1066.3 1162.84 L1067.3 1162.98 L1068.3 1163.11 L1069.3 1163.24 L1070.3 1163.37 L1071.3 1163.5 L1072.3 1163.63 L1073.3 1163.76 L1074.3 1163.89 L1075.3 1164.02 L1076.3 1164.15 L1077.3 1164.27 L1078.3 1164.4 L1079.3 1164.52 L1080.3 1164.65 L1081.3 1164.77 L1082.3 1164.89 L1083.3 1165.02 L1084.3 1165.14 L1085.3 1165.26 L1086.3 1165.38 L1087.3 1165.5 L1088.3 1165.62 L1089.3 1165.73 L1090.3 1165.85 L1091.3 1165.97 L1092.3 1166.08 L1093.3 1166.2 L1094.3 1166.31 L1095.3 1166.42 L1096.3 1166.54 L1097.3 1166.65 L1098.3 1166.76 L1099.3 1166.87 L1100.3 1166.98 L1101.3 1167.09 L1102.3 1167.2 L1103.3 1167.31 L1104.3 1167.41 L1105.3 1167.52 L1106.3 1167.63 L1107.3 1167.73 L1108.3 1167.84 L1109.3 1167.94 L1110.3 1168.04 L1111.3 1168.15 L1112.3 1168.25 L1113.3 1168.35 L1114.3 1168.45 L1115.3 1168.55 L1116.3 1168.65 L1117.3 1168.75 L1118.3 1168.85 L1119.3 1168.95 L1120.3 1169.04 L1121.3 1169.14 L1122.3 1169.24 L1123.3 1169.33 L1124.3 1169.43 L1125.3 1169.52 L1126.3 1169.62 L1127.3 1169.71 L1128.3 1169.8 L1129.3 1169.89 L1130.3 1169.98 L1131.3 1170.08 L1132.3 1170.17 L1133.3 1170.26 L1134.3 1170.34 L1135.3 1170.43 L1136.3 1170.52 L1137.3 1170.61 L1138.3 1170.7 L1139.3 1170.78 L1140.3 1170.87 L1141.3 1170.95 L1142.3 1171.04 L1143.3 1171.12 L1144.3 1171.21 L1145.3 1171.29 L1146.3 1171.37 L1147.3 1171.45 L1148.3 1171.54 L1149.3 1171.62 L1150.3 1171.7 L1151.3 1171.78 L1152.3 1171.86 L1153.3 1171.94 L1154.3 1172.02 L1155.3 1172.09 L1156.3 1172.17 L1157.3 1172.25 L1158.3 1172.33 L1159.3 1172.4 L1160.3 1172.48 L1161.3 1172.55 L1162.3 1172.63 L1163.3 1172.7 L1164.3 1172.78 L1165.3 1172.85 L1166.3 1172.92 L1167.3 1172.99 L1168.3 1173.07 L1169.3 1173.14 L1170.3 1173.21 L1171.3 1173.28 L1172.3 1173.35 L1173.3 1173.42 L1174.3 1173.49 L1175.3 1173.56 L1176.3 1173.63 L1177.3 1173.69 L1178.3 1173.76 L1179.3 1173.83 L1180.3 1173.9 L1181.3 1173.96 L1182.3 1174.03 L1183.3 1174.09 L1184.3 1174.16 L1185.3 1174.22 L1186.3 1174.29 L1187.3 1174.35 L1188.3 1174.41 L1189.3 1174.48 L1190.3 1174.54 L1191.3 1174.6 L1192.3 1174.66 L1193.3 1174.72 L1194.3 1174.79 L1195.3 1174.85 L1196.3 1174.91 L1197.3 1174.97 L1198.3 1175.02 L1199.3 1175.08" fill="none" stroke="#9467bd" stroke-width="2" stroke-opacity="0.72" stroke-dasharray="23 5.5 4 5.5" stroke-dashoffset="4"/>
<path d="M88.3 1054.61 L89.3 1053.67 L90.3 1052.72 L91.3 1051.78 L92.3 1050.83 L93.3 1049.87 L94.3 1048.92 L95.3 1047.96 L96.3 1047 L97.3 1046.04 L98.3 1045.08 L99.3 1044.11 L100.3 1043.14 L101.3 1042.17 L102.3 1041.2 L103.3 1040.23 L104.3 1039.25 L105.3 1038.27 L106.3 1037.29 L107.3 1036.31 L108.3 1035.33 L109.3 1034.34 L110.3 1033.36 L111.3 1032.37 L112.3 1031.38 L113.3 1030.39 L114.3 1029.39 L115.3 1028.4 L116.3 1027.4 L117.3 1026.41 L118.3 1025.41 L119.3 1024.41 L120.3 1023.41 L121.3 1022.41 L122.3 1021.4 L123.3 1020.4 L124.3 1019.39 L125.3 1018.39 L126.3 1017.38 L127.3 1016.37 L128.3 1015.36 L129.3 1014.35 L130.3 1013.34 L131.3 1012.33 L132.3 1011.32 L133.3 1010.31 L134.3 1009.29 L135.3 1008.28 L136.3 1007.27 L137.3 1006.25 L138.3 1005.24 L139.3 1004.22 L140.3 1003.21 L141.3 1002.19 L142.3 1001.18 L143.3 1000.16 L144.3 999.15 L145.3 998.13 L146.3 997.11 L147.3 996.1 L148.3 995.08 L149.3 994.07 L150.3 993.05 L151.3 992.04 L152.3 991.02 L153.3 990.01 L154.3 989 L155.3 987.98 L156.3 986.97 L157.3 985.96 L158.3 984.95 L159.3 983.94 L160.3 982.93 L161.3 981.92 L162.3 980.91 L163.3 979.9 L164.3 978.89 L165.3 977.89 L166.3 976.89 L167.3 975.88 L168.3 974.88 L169.3 973.88 L170.3 972.88 L171.3 971.88 L172.3 970.88 L173.3 969.89 L174.3 968.89 L175.3 967.9 L176.3 966.91 L177.3 965.92 L178.3 964.93 L179.3 963.95 L180.3 962.96 L181.3 961.98 L182.3 961 L183.3 960.02 L184.3 959.05 L185.3 958.07 L186.3 957.1 L187.3 956.13 L188.3 955.16 L189.3 954.2 L190.3 953.23 L191.3 952.27 L192.3 951.31 L193.3 950.36 L194.3 949.4 L195.3 948.45 L196.3 947.5 L197.3 946.55 L198.3 945.61 L199.3 944.67 L200.3 943.73 L201.3 942.8 L202.3 941.86 L203.3 940.93 L204.3 940.01 L205.3 939.08 L206.3 938.16 L207.3 937.25 L208.3 936.33 L209.3 935.42 L210.3 934.51 L211.3 933.61 L212.3 932.71 L213.3 931.81 L214.3 930.92 L215.3 930.03 L216.3 929.14 L217.3 928.25 L218.3 927.37 L219.3 926.5 L220.3 925.63 L221.3 924.76 L222.3 923.89 L223.3 923.03 L224.3 922.17 L225.3 921.32 L226.3 920.47 L227.3 919.62 L228.3 918.78 L229.3 917.94 L230.3 917.11 L231.3 916.28 L232.3 915.46 L233.3 914.64 L234.3 913.82 L235.3 913.01 L236.3 912.2 L237.3 911.4 L238.3 910.6 L239.3 909.8 L240.3 909.01 L241.3 908.23 L242.3 907.45 L243.3 906.67 L244.3 905.9 L245.3 905.14 L246.3 904.37 L247.3 903.62 L248.3 902.86 L249.3 902.12 L250.3 901.38 L251.3 900.64 L252.3 899.91 L253.3 899.18 L254.3 898.46 L255.3 897.74 L256.3 897.03 L257.3 896.32 L258.3 895.62 L259.3 894.92 L260.3 894.23 L261.3 893.54 L262.3 892.86 L263.3 892.19 L264.3 891.52 L265.3 890.85 L266.3 890.19 L267.3 889.54 L268.3 888.89 L269.3 888.25 L270.3 887.61 L271.3 886.98 L272.3 886.35 L273.3 885.73 L274.3 885.12 L275.3 884.51 L276.3 883.9 L277.3 883.3 L278.3 882.71 L279.3 882.13 L280.3 881.54 L281.3 880.97 L282.3 880.4 L283.3 879.84 L284.3 879.28 L285.3 878.73 L286.3 878.18 L287.3 877.64 L288.3 877.11 L289.3 876.58 L290.3 876.06 L291.3 875.54 L292.3 875.04 L293.3 874.53 L294.3 874.03 L295.3 873.54 L296.3 873.06 L297.3 872.58 L298.3 872.11 L299.3 871.64 L300.3 871.18 L301.3 870.72 L302.3 870.28 L303.3 869.83 L304.3 869.4 L305.3 868.97 L306.3 868.54 L307.3 868.13 L308.3 867.72 L309.3 867.31 L310.3 866.91 L311.3 866.52 L312.3 866.14 L313.3 865.76 L314.3 865.38 L315.3 865.02 L316.3 864.66 L317.3 864.3 L318.3 863.96 L319.3 863.61 L320.3 863.28 L321.3 862.95 L322.3 862.63 L323.3 862.31 L324.3 862 L325.3 861.7 L326.3 861.41 L327.3 861.12 L328.3 860.83 L329.3 860.56 L330.3 860.29 L331.3 860.02 L332.3 859.76 L333.3 859.51 L334.3 859.27 L335.3 859.03 L336.3 858.8 L337.3 858.57 L338.3 858.35 L339.3 858.14 L340.3 857.93 L341.3 857.73 L342.3 857.54 L343.3 857.35 L344.3 857.17 L345.3 857 L346.3 856.83 L347.3 856.67 L348.3 856.52 L349.3 856.37 L350.3 856.23 L351.3 856.09 L352.3 855.96 L353.3 855.84 L354.3 855.72 L355.3 855.61 L356.3 855.51 L357.3 855.41 L358.3 855.32 L359.3 855.23 L360.3 855.16 L361.3 855.08 L362.3 855.02 L363.3 854.96 L364.3 854.91 L365.3 854.86 L366.3 854.82 L367.3 854.78 L368.3 854.76 L369.3 854.73 L370.3 854.72 L371.3 854.71 L372.3 854.71 L373.3 854.71 L374.3 854.72 L375.3 854.73 L376.3 854.75 L377.3 854.78 L378.3 854.82 L379.3 854.86 L380.3 854.9 L381.3 854.95 L382.3 855.01 L383.3 855.08 L384.3 855.15 L385.3 855.22 L386.3 855.3 L387.3 855.39 L388.3 855.49 L389.3 855.59 L390.3 855.69 L391.3 855.8 L392.3 855.92 L393.3 856.04 L394.3 856.17 L395.3 856.31 L396.3 856.45 L397.3 856.59 L398.3 856.75 L399.3 856.9 L400.3 857.07 L401.3 857.24 L402.3 857.41 L403.3 857.59 L404.3 857.78 L405.3 857.97 L406.3 858.17 L407.3 858.37 L408.3 858.58 L409.3 858.79 L410.3 859.01 L411.3 859.24 L412.3 859.47 L413.3 859.71 L414.3 859.95 L415.3 860.19 L416.3 860.45 L417.3 860.7 L418.3 860.96 L419.3 861.23 L420.3 861.51 L421.3 861.78 L422.3 862.07 L423.3 862.36 L424.3 862.65 L425.3 862.95 L426.3 863.25 L427.3 863.56 L428.3 863.87 L429.3 864.19 L430.3 864.52 L431.3 864.85 L432.3 865.18 L433.3 865.52 L434.3 865.86 L435.3 866.21 L436.3 866.56 L437.3 866.92 L438.3 867.28 L439.3 867.65 L440.3 868.02 L441.3 868.4 L442.3 868.78 L443.3 869.17 L444.3 869.56 L445.3 869.95 L446.3 870.35 L447.3 870.76 L448.3 871.16 L449.3 871.58 L450.3 871.99 L451.3 872.42 L452.3 872.84 L453.3 873.27 L454.3 873.71 L455.3 874.14 L456.3 874.59 L457.3 875.03 L458.3 875.49 L459.3 875.94 L460.3 876.4 L461.3 876.86 L462.3 877.33 L463.3 877.8 L464.3 878.28 L465.3 878.76 L466.3 879.24 L467.3 879.73 L468.3 880.22 L469.3 880.71 L470.3 881.21 L471.3 881.71 L472.3 882.22 L473.3 882.73 L474.3 883.24 L475.3 883.76 L476.3 884.28 L477.3 884.8 L478.3 885.33 L479.3 885.86 L480.3 886.4 L481.3 886.93 L482.3 887.47 L483.3 888.02 L484.3 888.57 L485.3 889.12 L486.3 889.67 L487.3 890.23 L488.3 890.79 L489.3 891.35 L490.3 891.92 L491.3 892.49 L492.3 893.06 L493.3 893.64 L494.3 894.22 L495.3 894.8 L496.3 895.39 L497.3 895.97 L498.3 896.57 L499.3 897.16 L500.3 897.76 L501.3 898.35 L502.3 898.96 L503.3 899.56 L504.3 900.17 L505.3 900.78 L506.3 901.39 L507.3 902.01 L508.3 902.62 L509.3 903.24 L510.3 903.87 L511.3 904.49 L512.3 905.12 L513.3 905.75 L514.3 906.38 L515.3 907.02 L516.3 907.65 L517.3 908.29 L518.3 908.94 L519.3 909.58 L520.3 910.23 L521.3 910.87 L522.3 911.52 L523.3 912.18 L524.3 912.83 L525.3 913.49 L526.3 914.14 L527.3 914.8 L528.3 915.47 L529.3 916.13 L530.3 916.8 L531.3 917.46 L532.3 918.13 L533.3 918.8 L534.3 919.48 L535.3 920.15 L536.3 920.83 L537.3 921.51 L538.3 922.19 L539.3 922.87 L540.3 923.55 L541.3 924.24 L542.3 924.92 L543.3 925.61 L544.3 926.3 L545.3 926.99 L546.3 927.68 L547.3 928.37 L548.3 929.07 L549.3 929.76 L550.3 930.46 L551.3 931.16 L552.3 931.86 L553.3 932.56 L554.3 933.26 L555.3 933.96 L556.3 934.67 L557.3 935.37 L558.3 936.08 L559.3 936.78 L560.3 937.49 L561.3 938.2 L562.3 938.91 L563.3 939.62 L564.3 940.33 L565.3 941.05 L566.3 941.76 L567.3 942.47 L568.3 943.19 L569.3 943.9 L570.3 944.62 L571.3 945.34 L572.3 946.06 L573.3 946.77 L574.3 947.49 L575.3 948.21 L576.3 948.93 L577.3 949.65 L578.3 950.38 L579.3 951.1 L580.3 951.82 L581.3 952.54 L582.3 953.27 L583.3 953.99 L584.3 954.71 L585.3 955.44 L586.3 956.16 L587.3 956.89 L588.3 957.61 L589.3 958.34 L590.3 959.06 L591.3 959.79 L592.3 960.52 L593.3 961.24 L594.3 961.97 L595.3 962.69 L596.3 963.42 L597.3 964.15 L598.3 964.87 L599.3 965.6 L600.3 966.33 L601.3 967.05 L602.3 967.78 L603.3 968.51 L604.3 969.23 L605.3 969.96 L606.3 970.69 L607.3 971.41 L608.3 972.14 L609.3 972.86 L610.3 973.59 L611.3 974.32 L612.3 975.04 L613.3 975.76 L614.3 976.49 L615.3 977.21 L616.3 977.94 L617.3 978.66 L618.3 979.38 L619.3 980.11 L620.3 980.83 L621.3 981.55 L622.3 982.27 L623.3 982.99 L624.3 983.71 L625.3 984.43 L626.3 985.15 L627.3 985.87 L628.3 986.59 L629.3 987.31 L630.3 988.02 L631.3 988.74 L632.3 989.46 L633.3 990.17 L634.3 990.89 L635.3 991.6 L636.3 992.31 L637.3 993.03 L638.3 993.74 L639.3 994.45 L640.3 995.16 L641.3 995.87 L642.3 996.58 L643.3 997.29 L644.3 997.99 L645.3 998.7 L646.3 999.4 L647.3 1000.11 L648.3 1000.81 L649.3 1001.52 L650.3 1002.22 L651.3 1002.92 L652.3 1003.62 L653.3 1004.32 L654.3 1005.01 L655.3 1005.71 L656.3 1006.41 L657.3 1007.1 L658.3 1007.8 L659.3 1008.49 L660.3 1009.18 L661.3 1009.87 L662.3 1010.56 L663.3 1011.25 L664.3 1011.94 L665.3 1012.62 L666.3 1013.31 L667.3 1013.99 L668.3 1014.68 L669.3 1015.36 L670.3 1016.04 L671.3 1016.72 L672.3 1017.4 L673.3 1018.07 L674.3 1018.75 L675.3 1019.42 L676.3 1020.1 L677.3 1020.77 L678.3 1021.44 L679.3 1022.11 L680.3 1022.78 L681.3 1023.44 L682.3 1024.11 L683.3 1024.77 L684.3 1025.44 L685.3 1026.1 L686.3 1026.76 L687.3 1027.42 L688.3 1028.07 L689.3 1028.73 L690.3 1029.38 L691.3 1030.04 L692.3 1030.69 L693.3 1031.34 L694.3 1031.99 L695.3 1032.64 L696.3 1033.28 L697.3 1033.93 L698.3 1034.57 L699.3 1035.21 L700.3 1035.85 L701.3 1036.49 L702.3 1037.13 L703.3 1037.76 L704.3 1038.4 L705.3 1039.03 L706.3 1039.66 L707.3 1040.29 L708.3 1040.92 L709.3 1041.55 L710.3 1042.17 L711.3 1042.79 L712.3 1043.42 L713.3 1044.04 L714.3 1044.65 L715.3 1045.27 L716.3 1045.89 L717.3 1046.5 L718.3 1047.11 L719.3 1047.72 L720.3 1048.33 L721.3 1048.94 L722.3 1049.55 L723.3 1050.15 L724.3 1050.75 L725.3 1051.35 L726.3 1051.95 L727.3 1052.55 L728.3 1053.15 L729.3 1053.74 L730.3 1054.33 L731.3 1054.93 L732.3 1055.51 L733.3 1056.1 L734.3 1056.69 L735.3 1057.27 L736.3 1057.86 L737.3 1058.44 L738.3 1059.02 L739.3 1059.59 L740.3 1060.17 L741.3 1060.74 L742.3 1061.32 L743.3 1061.89 L744.3 1062.46 L745.3 1063.02 L746.3 1063.59 L747.3 1064.15 L748.3 1064.71 L749.3 1065.27 L750.3 1065.83 L751.3 1066.39 L752.3 1066.94 L753.3 1067.5 L754.3 1068.05 L755.3 1068.6 L756.3 1069.15 L757.3 1069.69 L758.3 1070.24 L759.3 1070.78 L760.3 1071.32 L761.3 1071.86 L762.3 1072.4 L763.3 1072.93 L764.3 1073.47 L765.3 1074 L766.3 1074.53 L767.3 1075.06 L768.3 1075.59 L769.3 1076.11 L770.3 1076.64 L771.3 1077.16 L772.3 1077.68 L773.3 1078.2 L774.3 1078.71 L775.3 1079.23 L776.3 1079.74 L777.3 1080.25 L778.3 1080.76 L779.3 1081.27 L780.3 1081.77 L781.3 1082.28 L782.3 1082.78 L783.3 1083.28 L784.3 1083.78 L785.3 1084.27 L786.3 1084.77 L787.3 1085.26 L788.3 1085.75 L789.3 1086.24 L790.3 1086.73 L791.3 1087.22 L792.3 1087.7 L793.3 1088.18 L794.3 1088.66 L795.3 1089.14 L796.3 1089.62 L797.3 1090.1 L798.3 1090.57 L799.3 1091.04 L800.3 1091.51 L801.3 1091.98 L802.3 1092.45 L803.3 1092.91 L804.3 1093.37 L805.3 1093.84 L806.3 1094.29 L807.3 1094.75 L808.3 1095.21 L809.3 1095.66 L810.3 1096.12 L811.3 1096.57 L812.3 1097.02 L813.3 1097.46 L814.3 1097.91 L815.3 1098.35 L816.3 1098.79 L817.3 1099.23 L818.3 1099.67 L819.3 1100.11 L820.3 1100.54 L821.3 1100.98 L822.3 1101.41 L823.3 1101.84 L824.3 1102.27 L825.3 1102.69 L826.3 1103.12 L827.3 1103.54 L828.3 1103.96 L829.3 1104.38 L830.3 1104.8 L831.3 1105.22 L832.3 1105.63 L833.3 1106.04 L834.3 1106.45 L835.3 1106.86 L836.3 1107.27 L837.3 1107.68 L838.3 1108.08 L839.3 1108.48 L840.3 1108.88 L841.3 1109.28 L842.3 1109.68 L843.3 1110.08 L844.3 1110.47 L845.3 1110.86 L846.3 1111.25 L847.3 1111.64 L848.3 1112.03 L849.3 1112.42 L850.3 1112.8 L851.3 1113.18 L852.3 1113.56 L853.3 1113.94 L854.3 1114.32 L855.3 1114.7 L856.3 1115.07 L857.3 1115.44 L858.3 1115.81 L859.3 1116.18 L860.3 1116.55 L861.3 1116.92 L862.3 1117.28 L863.3 1117.64 L864.3 1118 L865.3 1118.36 L866.3 1118.72 L867.3 1119.08 L868.3 1119.43 L869.3 1119.79 L870.3 1120.14 L871.3 1120.49 L872.3 1120.84 L873.3 1121.18 L874.3 1121.53 L875.3 1121.87 L876.3 1122.22 L877.3 1122.56 L878.3 1122.9 L879.3 1123.23 L880.3 1123.57 L881.3 1123.9 L882.3 1124.24 L883.3 1124.57 L884.3 1124.9 L885.3 1125.23 L886.3 1125.55 L887.3 1125.88 L888.3 1126.2 L889.3 1126.53 L890.3 1126.85 L891.3 1127.17 L892.3 1127.48 L893.3 1127.8 L894.3 1128.12 L895.3 1128.43 L896.3 1128.74 L897.3 1129.05 L898.3 1129.36 L899.3 1129.67 L900.3 1129.97 L901.3 1130.28 L902.3 1130.58 L903.3 1130.88 L904.3 1131.18 L905.3 1131.48 L906.3 1131.78 L907.3 1132.08 L908.3 1132.37 L909.3 1132.66 L910.3 1132.96 L911.3 1133.25 L912.3 1133.53 L913.3 1133.82 L914.3 1134.11 L915.3 1134.39 L916.3 1134.68 L917.3 1134.96 L918.3 1135.24 L919.3 1135.52 L920.3 1135.8 L921.3 1136.07 L922.3 1136.35 L923.3 1136.62 L924.3 1136.89 L925.3 1137.17 L926.3 1137.43 L927.3 1137.7 L928.3 1137.97 L929.3 1138.24 L930.3 1138.5 L931.3 1138.76 L932.3 1139.03 L933.3 1139.29 L934.3 1139.54 L935.3 1139.8 L936.3 1140.06 L937.3 1140.31 L938.3 1140.57 L939.3 1140.82 L940.3 1141.07 L941.3 1141.32 L942.3 1141.57 L943.3 1141.82 L944.3 1142.07 L945.3 1142.31 L946.3 1142.55 L947.3 1142.8 L948.3 1143.04 L949.3 1143.28 L950.3 1143.52 L951.3 1143.75 L952.3 1143.99 L953.3 1144.23 L954.3 1144.46 L955.3 1144.69 L956.3 1144.92 L957.3 1145.15 L958.3 1145.38 L959.3 1145.61 L960.3 1145.84 L961.3 1146.06 L962.3 1146.29 L963.3 1146.51 L964.3 1146.73 L965.3 1146.95 L966.3 1147.17 L967.3 1147.39 L968.3 1147.61 L969.3 1147.83 L970.3 1148.04 L971.3 1148.26 L972.3 1148.47 L973.3 1148.68 L974.3 1148.89 L975.3 1149.1 L976.3 1149.31 L977.3 1149.52 L978.3 1149.72 L979.3 1149.93 L980.3 1150.13 L981.3 1150.34 L982.3 1150.54 L983.3 1150.74 L984.3 1150.94 L985.3 1151.14 L986.3 1151.33 L987.3 1151.53 L988.3 1151.73 L989.3 1151.92 L990.3 1152.11 L991.3 1152.31 L992.3 1152.5 L993.3 1152.69 L994.3 1152.88 L995.3 1153.06 L996.3 1153.25 L997.3 1153.44 L998.3 1153.62 L999.3 1153.81 L1000.3 1153.99 L1001.3 1154.17 L1002.3 1154.35 L1003.3 1154.53 L1004.3 1154.71 L1005.3 1154.89 L1006.3 1155.07 L1007.3 1155.24 L1008.3 1155.42 L1009.3 1155.59 L1010.3 1155.77 L1011.3 1155.94 L1012.3 1156.11 L1013.3 1156.28 L1014.3 1156.45 L1015.3 1156.62 L1016.3 1156.79 L1017.3 1156.95 L1018.3 1157.12 L1019.3 1157.28 L1020.3 1157.45 L1021.3 1157.61 L1022.3 1157.77 L1023.3 1157.93 L1024.3 1158.09 L1025.3 1158.25 L1026.3 1158.41 L1027.3 1158.57 L1028.3 1158.72 L1029.3 1158.88 L1030.3 1159.04 L1031.3 1159.19 L1032.3 1159.34 L1033.3 1159.5 L1034.3 1159.65 L1035.3 1159.8 L1036.3 1159.95 L1037.3 1160.1 L1038.3 1160.24 L1039.3 1160.39 L1040.3 1160.54 L1041.3 1160.68 L1042.3 1160.83 L1043.3 1160.97 L1044.3 1161.11 L1045.3 1161.26 L1046.3 1161.4 L1047.3 1161.54 L1048.3 1161.68 L1049.3 1161.82 L1050.3 1161.96 L1051.3 1162.09 L1052.3 1162.23 L1053.3 1162.36 L1054.3 1162.5 L1055.3 1162.63 L1056.3 1162.77 L1057.3 1162.9 L1058.3 1163.03 L1059.3 1163.16 L1060.3 1163.29 L1061.3 1163.42 L1062.3 1163.55 L1063.3 1163.68 L1064.3 1163.81 L1065.3 1163.93 L1066.3 1164.06 L1067.3 1164.19 L1068.3 1164.31 L1069.3 1164.43 L1070.3 1164.56 L1071.3 1164.68 L1072.3 1164.8 L1073.3 1164.92 L1074.3 1165.04 L1075.3 1165.16 L1076.3 1165.28 L1077.3 1165.4 L1078.3 1165.51 L1079.3 1165.63 L1080.3 1165.75 L1081.3 1165.86 L1082.3 1165.98 L1083.3 1166.09 L1084.3 1166.2 L1085.3 1166.32 L1086.3 1166.43 L1087.3 1166.54 L1088.3 1166.65 L1089.3 1166.76 L1090.3 1166.87 L1091.3 1166.98 L1092.3 1167.09 L1093.3 1167.19 L1094.3 1167.3 L1095.3 1167.41 L1096.3 1167.51 L1097.3 1167.62 L1098.3 1167.72 L1099.3 1167.82 L1100.3 1167.93 L1101.3 1168.03 L1102.3 1168.13 L1103.3 1168.23 L1104.3 1168.33 L1105.3 1168.43 L1106.3 1168.53 L1107.3 1168.63 L1108.3 1168.73 L1109.3 1168.83 L1110.3 1168.92 L1111.3 1169.02 L1112.3 1169.11 L1113.3 1169.21 L1114.3 1169.3 L1115.3 1169.4 L1116.3 1169.49 L1117.3 1169.58 L1118.3 1169.68 L1119.3 1169.77 L1120.3 1169.86 L1121.3 1169.95 L1122.3 1170.04 L1123.3 1170.13 L1124.3 1170.22 L1125.3 1170.31 L1126.3 1170.39 L1127.3 1170.48 L1128.3 1170.57 L1129.3 1170.66 L1130.3 1170.74 L1131.3 1170.83 L1132.3 1170.91 L1133.3 1170.99 L1134.3 1171.08 L1135.3 1171.16 L1136.3 1171.24 L1137.3 1171.33 L1138.3 1171.41 L1139.3 1171.49 L1140.3 1171.57 L1141.3 1171.65 L1142.3 1171.73 L1143.3 1171.81 L1144.3 1171.89 L1145.3 1171.97 L1146.3 1172.04 L1147.3 1172.12 L1148.3 1172.2 L1149.3 1172.27 L1150.3 1172.35 L1151.3 1172.42 L1152.3 1172.5 L1153.3 1172.57 L1154.3 1172.65 L1155.3 1172.72 L1156.3 1172.79 L1157.3 1172.87 L1158.3 1172.94 L1159.3 1173.01 L1160.3 1173.08 L1161.3 1173.15 L1162.3 1173.22 L1163.3 1173.29 L1164.3 1173.36 L1165.3 1173.43 L1166.3 1173.5 L1167.3 1173.57 L1168.3 1173.63 L1169.3 1173.7 L1170.3 1173.77 L1171.3 1173.83 L1172.3 1173.9 L1173.3 1173.97 L1174.3 1174.03 L1175.3 1174.1 L1176.3 1174.16 L1177.3 1174.22 L1178.3 1174.29 L1179.3 1174.35 L1180.3 1174.41 L1181.3 1174.48 L1182.3 1174.54 L1183.3 1174.6 L1184.3 1174.66 L1185.3 1174.72 L1186.3 1174.78 L1187.3 1174.84 L1188.3 1174.9 L1189.3 1174.96 L1190.3 1175.02 L1191.3 1175.08 L1192.3 1175.14 L1193.3 1175.19 L1194.3 1175.25 L1195.3 1175.31 L1196.3 1175.37 L1197.3 1175.42 L1198.3 1175.48 L1199.3 1175.53" fill="none" stroke="#9467bd" stroke-width="2" stroke-opacity="0.72" stroke-dasharray="3.5 5.95" stroke-dashoffset="0"/>
<line x1="96" y1="835" x2="358.3" y2="835" stroke="#a8a8a8" stroke-width="1.5" />
<line x1="244" y1="821.7" x2="244" y2="849.3" stroke="#a8a8a8" stroke-width="1.5" />
<circle cx="244" cy="835" r="4.3" stroke="#a8a8a8" fill="#fff" stroke-width="1.3" />
<circle cx="244" cy="800.7" r="4.3" stroke="#1f77b4" fill="#fff" stroke-width="1.3" />
<line x1="953.9" y1="1153.7" x2="1065.7" y2="1153.7" stroke="#a8a8a8" stroke-width="1.5" />
<line x1="1053.5" y1="1168.9" x2="1189.2" y2="1168.9" stroke="#a8a8a8" stroke-width="1.5" />
<circle cx="1012.4" cy="1153.7" r="4.6" stroke="#1f77b4" fill="#fff" stroke-width="1.4" />
<circle cx="1125.5" cy="1168.9" r="4.6" stroke="#1f77b4" fill="#fff" stroke-width="1.4" />
<line x1="288.7" y1="711.8" x2="288.7" y2="776.8" stroke="#222" stroke-width="1.5" />
<line x1="298.7" y1="664" x2="298.7" y2="727.4" stroke="#222" stroke-width="1.5" />
<line x1="308.7" y1="738" x2="308.7" y2="790" stroke="#222" stroke-width="1.5" />
<line x1="318.3" y1="740" x2="318.3" y2="800" stroke="#222" stroke-width="1.5" />
<line x1="327.7" y1="776.7" x2="327.7" y2="823.3" stroke="#222" stroke-width="1.5" />
<line x1="337.7" y1="761.8" x2="337.7" y2="806.8" stroke="#222" stroke-width="1.5" />
<line x1="347.7" y1="740" x2="347.7" y2="782" stroke="#222" stroke-width="1.5" />
<line x1="358.3" y1="728.3" x2="358.3" y2="766.3" stroke="#222" stroke-width="1.5" />
<line x1="368" y1="755" x2="368" y2="787" stroke="#222" stroke-width="1.5" />
<line x1="377.7" y1="775.2" x2="377.7" y2="810.2" stroke="#222" stroke-width="1.5" />
<line x1="387.7" y1="756.7" x2="387.7" y2="783.3" stroke="#222" stroke-width="1.5" />
<line x1="398.3" y1="816.3" x2="398.3" y2="845.7" stroke="#222" stroke-width="1.5" />
<line x1="409" y1="793.3" x2="409" y2="816.7" stroke="#222" stroke-width="1.5" />
<line x1="419" y1="793" x2="419" y2="817" stroke="#222" stroke-width="1.5" />
<line x1="428.3" y1="813.3" x2="428.3" y2="836.7" stroke="#222" stroke-width="1.5" />
<line x1="439" y1="807.7" x2="439" y2="827.7" stroke="#222" stroke-width="1.5" />
<line x1="449" y1="816" x2="449" y2="834" stroke="#222" stroke-width="1.5" />
<line x1="458.3" y1="824.7" x2="458.3" y2="840.7" stroke="#222" stroke-width="1.5" />
<line x1="468.3" y1="831.3" x2="468.3" y2="847.3" stroke="#222" stroke-width="1.5" />
<line x1="478.7" y1="859.7" x2="478.7" y2="873.7" stroke="#222" stroke-width="1.5" />
<line x1="490" y1="869" x2="490" y2="883" stroke="#222" stroke-width="1.5" />
<line x1="499" y1="872.3" x2="499" y2="886.3" stroke="#222" stroke-width="1.5" />
<line x1="508.3" y1="879" x2="508.3" y2="893" stroke="#222" stroke-width="1.5" />
<line x1="518.3" y1="863.3" x2="518.3" y2="875.3" stroke="#222" stroke-width="1.5" />
<line x1="529.3" y1="865.7" x2="529.3" y2="877.7" stroke="#222" stroke-width="1.5" />
<line x1="539.3" y1="874.7" x2="539.3" y2="886.7" stroke="#222" stroke-width="1.5" />
<line x1="548.3" y1="871.3" x2="548.3" y2="883.3" stroke="#222" stroke-width="1.5" />
<line x1="558.3" y1="885.8" x2="558.3" y2="898.8" stroke="#222" stroke-width="1.5" />
<line x1="568.3" y1="899.2" x2="568.3" y2="912.2" stroke="#222" stroke-width="1.5" />
<line x1="579.3" y1="911.2" x2="579.3" y2="924.2" stroke="#222" stroke-width="1.5" />
<line x1="589.3" y1="921.8" x2="589.3" y2="934.8" stroke="#222" stroke-width="1.5" />
<line x1="599.3" y1="938.5" x2="599.3" y2="951.5" stroke="#222" stroke-width="1.5" />
<line x1="609.3" y1="956.5" x2="609.3" y2="968.9" stroke="#222" stroke-width="1.5" />
<line x1="619.3" y1="953.1" x2="619.3" y2="965.5" stroke="#222" stroke-width="1.5" />
<line x1="629.3" y1="969.8" x2="629.3" y2="982.2" stroke="#222" stroke-width="1.5" />
<line x1="639.3" y1="972.1" x2="639.3" y2="984.5" stroke="#222" stroke-width="1.5" />
<line x1="649.3" y1="969.8" x2="649.3" y2="982.2" stroke="#222" stroke-width="1.5" />
<line x1="659.3" y1="981.5" x2="659.3" y2="993.9" stroke="#222" stroke-width="1.5" />
<line x1="669.3" y1="993.1" x2="669.3" y2="1005.5" stroke="#222" stroke-width="1.5" />
<line x1="679.3" y1="989.8" x2="679.3" y2="1002.2" stroke="#222" stroke-width="1.5" />
<line x1="689" y1="1006.6" x2="689" y2="1019" stroke="#222" stroke-width="1.5" />
<line x1="699" y1="1009" x2="699" y2="1021.4" stroke="#222" stroke-width="1.5" />
<line x1="709.1" y1="1005.2" x2="709.1" y2="1017.6" stroke="#222" stroke-width="1.5" />
<line x1="719" y1="1021.8" x2="719" y2="1034.2" stroke="#222" stroke-width="1.5" />
<line x1="437.7" y1="838" x2="437.7" y2="854" stroke="#ff0000" stroke-width="1.6" />
<line x1="451.7" y1="825.7" x2="451.7" y2="837.7" stroke="#ff0000" stroke-width="1.6" />
<line x1="466" y1="834" x2="466" y2="846" stroke="#ff0000" stroke-width="1.6" />
<line x1="479" y1="857.7" x2="479" y2="867.7" stroke="#ff0000" stroke-width="1.6" />
<circle cx="288.7" cy="744.3" r="4.45" stroke="#000" fill="#fff" stroke-width="1.45" />
<circle cx="298.7" cy="695.7" r="4.45" stroke="#000" fill="#fff" stroke-width="1.45" />
<circle cx="308.7" cy="764" r="4.45" stroke="#000" fill="#fff" stroke-width="1.45" />
<circle cx="318.3" cy="770" r="4.45" stroke="#000" fill="#fff" stroke-width="1.45" />
<circle cx="327.7" cy="800" r="4.45" stroke="#000" fill="#fff" stroke-width="1.45" />
<circle cx="337.7" cy="784.3" r="4.45" stroke="#000" fill="#fff" stroke-width="1.45" />
<circle cx="347.7" cy="761" r="4.45" stroke="#000" fill="#fff" stroke-width="1.45" />
<circle cx="358.3" cy="747.3" r="4.45" stroke="#000" fill="#fff" stroke-width="1.45" />
<circle cx="368" cy="771" r="4.45" stroke="#000" fill="#fff" stroke-width="1.45" />
<circle cx="377.7" cy="792.7" r="4.45" stroke="#000" fill="#fff" stroke-width="1.45" />
<circle cx="387.7" cy="770" r="4.45" stroke="#000" fill="#fff" stroke-width="1.45" />
<circle cx="398.3" cy="831" r="4.45" stroke="#000" fill="#fff" stroke-width="1.45" />
<circle cx="409" cy="805" r="4.45" stroke="#000" fill="#fff" stroke-width="1.45" />
<circle cx="419" cy="805" r="4.45" stroke="#000" fill="#fff" stroke-width="1.45" />
<circle cx="428.3" cy="825" r="4.45" stroke="#000" fill="#fff" stroke-width="1.45" />
<circle cx="439" cy="817.7" r="4.45" stroke="#000" fill="#fff" stroke-width="1.45" />
<circle cx="449" cy="825" r="4.45" stroke="#000" fill="#fff" stroke-width="1.45" />
<circle cx="458.3" cy="832.7" r="4.45" stroke="#000" fill="#fff" stroke-width="1.45" />
<circle cx="468.3" cy="839.3" r="4.45" stroke="#000" fill="#fff" stroke-width="1.45" />
<circle cx="478.7" cy="866.7" r="4.45" stroke="#000" fill="#fff" stroke-width="1.45" />
<circle cx="490" cy="876" r="4.45" stroke="#000" fill="#fff" stroke-width="1.45" />
<circle cx="499" cy="879.3" r="4.45" stroke="#000" fill="#fff" stroke-width="1.45" />
<circle cx="508.3" cy="886" r="4.45" stroke="#000" fill="#fff" stroke-width="1.45" />
<circle cx="518.3" cy="869.3" r="4.45" stroke="#000" fill="#fff" stroke-width="1.45" />
<circle cx="529.3" cy="871.7" r="4.45" stroke="#000" fill="#fff" stroke-width="1.45" />
<circle cx="539.3" cy="880.7" r="4.45" stroke="#000" fill="#fff" stroke-width="1.45" />
<circle cx="548.3" cy="877.3" r="4.45" stroke="#000" fill="#fff" stroke-width="1.45" />
<circle cx="558.3" cy="892.3" r="4.45" stroke="#000" fill="#fff" stroke-width="1.45" />
<circle cx="568.3" cy="905.7" r="4.45" stroke="#000" fill="#fff" stroke-width="1.45" />
<circle cx="579.3" cy="917.7" r="4.45" stroke="#000" fill="#fff" stroke-width="1.45" />
<circle cx="589.3" cy="928.3" r="4.45" stroke="#000" fill="#fff" stroke-width="1.45" />
<circle cx="599.3" cy="945" r="4.45" stroke="#000" fill="#fff" stroke-width="1.45" />
<circle cx="609.3" cy="962.7" r="4.45" stroke="#000" fill="#fff" stroke-width="1.45" />
<circle cx="619.3" cy="959.3" r="4.45" stroke="#000" fill="#fff" stroke-width="1.45" />
<circle cx="629.3" cy="976" r="4.45" stroke="#000" fill="#fff" stroke-width="1.45" />
<circle cx="639.3" cy="978.3" r="4.45" stroke="#000" fill="#fff" stroke-width="1.45" />
<circle cx="649.3" cy="976" r="4.45" stroke="#000" fill="#fff" stroke-width="1.45" />
<circle cx="659.3" cy="987.7" r="4.45" stroke="#000" fill="#fff" stroke-width="1.45" />
<circle cx="669.3" cy="999.3" r="4.45" stroke="#000" fill="#fff" stroke-width="1.45" />
<circle cx="679.3" cy="996" r="4.45" stroke="#000" fill="#fff" stroke-width="1.45" />
<circle cx="689" cy="1012.8" r="4.45" stroke="#000" fill="#fff" stroke-width="1.45" />
<circle cx="699" cy="1015.2" r="4.45" stroke="#000" fill="#fff" stroke-width="1.45" />
<circle cx="709.1" cy="1011.4" r="4.45" stroke="#000" fill="#fff" stroke-width="1.45" />
<circle cx="719" cy="1028" r="4.45" stroke="#000" fill="#fff" stroke-width="1.45" />
<circle cx="729" cy="1039.7" r="4.45" stroke="#000" fill="#fff" stroke-width="1.45" />
<circle cx="739.4" cy="1051.9" r="4.45" stroke="#000" fill="#fff" stroke-width="1.45" />
<circle cx="749.3" cy="1058.8" r="4.45" stroke="#000" fill="#fff" stroke-width="1.45" />
<circle cx="759.3" cy="1069.2" r="4.45" stroke="#000" fill="#fff" stroke-width="1.45" />
<circle cx="769.7" cy="1070.5" r="4.45" stroke="#000" fill="#fff" stroke-width="1.45" />
<circle cx="779.7" cy="1071.8" r="4.45" stroke="#000" fill="#fff" stroke-width="1.45" />
<circle cx="789.6" cy="1082.2" r="4.45" stroke="#000" fill="#fff" stroke-width="1.45" />
<circle cx="800" cy="1085.7" r="4.45" stroke="#000" fill="#fff" stroke-width="1.45" />
<circle cx="810" cy="1086.5" r="4.45" stroke="#000" fill="#fff" stroke-width="1.45" />
<circle cx="819.5" cy="1085.7" r="4.45" stroke="#000" fill="#fff" stroke-width="1.45" />
<circle cx="829.5" cy="1095.2" r="4.45" stroke="#000" fill="#fff" stroke-width="1.45" />
<circle cx="839.5" cy="1102.1" r="4.45" stroke="#000" fill="#fff" stroke-width="1.45" />
<circle cx="849.9" cy="1102.1" r="4.45" stroke="#000" fill="#fff" stroke-width="1.45" />
<circle cx="859.8" cy="1107.3" r="4.45" stroke="#000" fill="#fff" stroke-width="1.45" />
<circle cx="869.8" cy="1112.5" r="4.45" stroke="#000" fill="#fff" stroke-width="1.45" />
<circle cx="880.2" cy="1110.8" r="4.45" stroke="#000" fill="#fff" stroke-width="1.45" />
<circle cx="888.9" cy="1118.2" r="4.45" stroke="#000" fill="#fff" stroke-width="1.45" />
<circle cx="437.7" cy="846" r="4.45" stroke="#ff0000" fill="#fff" stroke-width="1.6" />
<circle cx="451.7" cy="831.7" r="4.45" stroke="#ff0000" fill="#fff" stroke-width="1.6" />
<circle cx="466" cy="840" r="4.45" stroke="#ff0000" fill="#fff" stroke-width="1.6" />
<circle cx="479" cy="862.7" r="4.45" stroke="#ff0000" fill="#fff" stroke-width="1.6" />
<circle cx="492.3" cy="875.7" r="4.45" stroke="#ff0000" fill="#fff" stroke-width="1.6" />
<circle cx="505" cy="875" r="4.45" stroke="#ff0000" fill="#fff" stroke-width="1.6" />
<circle cx="517.3" cy="876" r="4.45" stroke="#ff0000" fill="#fff" stroke-width="1.6" />
<circle cx="529.3" cy="879" r="4.45" stroke="#ff0000" fill="#fff" stroke-width="1.6" />
<circle cx="541.3" cy="888.3" r="4.45" stroke="#ff0000" fill="#fff" stroke-width="1.6" />
<circle cx="552.7" cy="911" r="4.45" stroke="#ff0000" fill="#fff" stroke-width="1.6" />
<circle cx="564.3" cy="914.3" r="4.45" stroke="#ff0000" fill="#fff" stroke-width="1.6" />
<circle cx="575.7" cy="918.3" r="4.45" stroke="#ff0000" fill="#fff" stroke-width="1.6" />
<circle cx="586" cy="946.7" r="4.45" stroke="#ff0000" fill="#fff" stroke-width="1.6" />
<circle cx="596.7" cy="956.7" r="4.45" stroke="#ff0000" fill="#fff" stroke-width="1.6" />
<line x1="88.3" y1="659.3" x2="88.3" y2="1184.4" stroke="#1a1a1a" stroke-width="1.6" />
<line x1="87.5" y1="1183.7" x2="1200" y2="1183.7" stroke="#1a1a1a" stroke-width="1.6" />
<line x1="80.2" y1="1183.7" x2="88.3" y2="1183.7" stroke="#1a1a1a" stroke-width="1.5" />
<text x="73.8" y="1189.5" font-size="16.3" text-anchor="end" font-weight="normal" fill="#111" >0</text>
<line x1="80.2" y1="1115.7" x2="88.3" y2="1115.7" stroke="#1a1a1a" stroke-width="1.5" />
<text x="73.8" y="1121.5" font-size="16.3" text-anchor="end" font-weight="normal" fill="#111" >0.5</text>
<line x1="80.2" y1="1047.7" x2="88.3" y2="1047.7" stroke="#1a1a1a" stroke-width="1.5" />
<text x="73.8" y="1053.5" font-size="16.3" text-anchor="end" font-weight="normal" fill="#111" >1.0</text>
<line x1="80.2" y1="979.7" x2="88.3" y2="979.7" stroke="#1a1a1a" stroke-width="1.5" />
<text x="73.8" y="985.5" font-size="16.3" text-anchor="end" font-weight="normal" fill="#111" >1.5</text>
<line x1="80.2" y1="911.7" x2="88.3" y2="911.7" stroke="#1a1a1a" stroke-width="1.5" />
<text x="73.8" y="917.5" font-size="16.3" text-anchor="end" font-weight="normal" fill="#111" >2.0</text>
<line x1="80.2" y1="843.7" x2="88.3" y2="843.7" stroke="#1a1a1a" stroke-width="1.5" />
<text x="73.8" y="849.5" font-size="16.3" text-anchor="end" font-weight="normal" fill="#111" >2.5</text>
<line x1="80.2" y1="775.7" x2="88.3" y2="775.7" stroke="#1a1a1a" stroke-width="1.5" />
<text x="73.8" y="781.5" font-size="16.3" text-anchor="end" font-weight="normal" fill="#111" >3.0</text>
<line x1="80.2" y1="707.7" x2="88.3" y2="707.7" stroke="#1a1a1a" stroke-width="1.5" />
<text x="73.8" y="713.5" font-size="16.3" text-anchor="end" font-weight="normal" fill="#111" >3.5</text>
<line x1="105" y1="1183.7" x2="105" y2="1191.5" stroke="#1a1a1a" stroke-width="1.5" />
<text x="105" y="1213" font-size="16.3" text-anchor="middle" font-weight="normal" fill="#111" >0.6</text>
<line x1="250.8" y1="1183.7" x2="250.8" y2="1191.5" stroke="#1a1a1a" stroke-width="1.5" />
<text x="250.8" y="1213" font-size="16.3" text-anchor="middle" font-weight="normal" fill="#111" >0.8</text>
<line x1="363.89" y1="1183.7" x2="363.89" y2="1191.5" stroke="#1a1a1a" stroke-width="1.5" />
<text x="363.89" y="1213" font-size="16.3" text-anchor="middle" font-weight="normal" fill="#111" >1.0</text>
<line x1="569.38" y1="1183.7" x2="569.38" y2="1191.5" stroke="#1a1a1a" stroke-width="1.5" />
<text x="569.38" y="1213" font-size="16.3" text-anchor="middle" font-weight="normal" fill="#111" >1.5</text>
<line x1="715.17" y1="1183.7" x2="715.17" y2="1191.5" stroke="#1a1a1a" stroke-width="1.5" />
<text x="715.17" y="1213" font-size="16.3" text-anchor="middle" font-weight="normal" fill="#111" >2.0</text>
<line x1="828.26" y1="1183.7" x2="828.26" y2="1191.5" stroke="#1a1a1a" stroke-width="1.5" />
<text x="828.26" y="1213" font-size="16.3" text-anchor="middle" font-weight="normal" fill="#111" >2.5</text>
<line x1="920.66" y1="1183.7" x2="920.66" y2="1191.5" stroke="#1a1a1a" stroke-width="1.5" />
<text x="920.66" y="1213" font-size="16.3" text-anchor="middle" font-weight="normal" fill="#111" >3.0</text>
<line x1="1066.46" y1="1183.7" x2="1066.46" y2="1191.5" stroke="#1a1a1a" stroke-width="1.5" />
<text x="1066.46" y="1213" font-size="16.3" text-anchor="middle" font-weight="normal" fill="#111" >4.0</text>
<line x1="1179.55" y1="1183.7" x2="1179.55" y2="1191.5" stroke="#1a1a1a" stroke-width="1.5" />
<text x="1179.55" y="1213" font-size="16.3" text-anchor="middle" font-weight="normal" fill="#111" >5.0</text>
<text x="640" y="1236.3" font-size="16.3" text-anchor="middle" font-weight="normal" fill="#111" >Wavelength (μm)</text>
<text transform="translate(24.2,918.9) rotate(-90)" font-size="16.7" text-anchor="middle" fill="#111">Thermal emission (10<tspan font-size="11" dy="-6">6</tspan><tspan dy="6"> W m</tspan><tspan font-size="11" dy="-6">−2</tspan><tspan dy="6"> μm</tspan><tspan font-size="11" dy="-6">−1</tspan><tspan dy="6">)</tspan></text>
<line x1="1006.6" y1="698" x2="1058" y2="698" stroke="#9467bd" stroke-width="2" stroke-dasharray="13.5 5.5"/>
<line x1="1006.6" y1="724.6" x2="1062" y2="724.6" stroke="#9467bd" stroke-width="2" stroke-dasharray="23 5.5 4 5.5"/>
<line x1="1006.4" y1="751.5" x2="1058" y2="751.5" stroke="#9467bd" stroke-width="2" stroke-dasharray="3.5 5.95"/>
<text x="1074.5" y="704" font-size="16.7" text-anchor="start" font-weight="normal" fill="#111" ><tspan font-style="italic">T</tspan> = 3,050 K</text>
<text x="1074.5" y="730.6" font-size="16.7" text-anchor="start" font-weight="normal" fill="#111" ><tspan font-style="italic">T</tspan> = 2,950 K</text>
<text x="1074.5" y="757.3" font-size="16.7" text-anchor="start" font-weight="normal" fill="#111" ><tspan font-style="italic">T</tspan> = 2,850 K</text>
</svg></body></html>
